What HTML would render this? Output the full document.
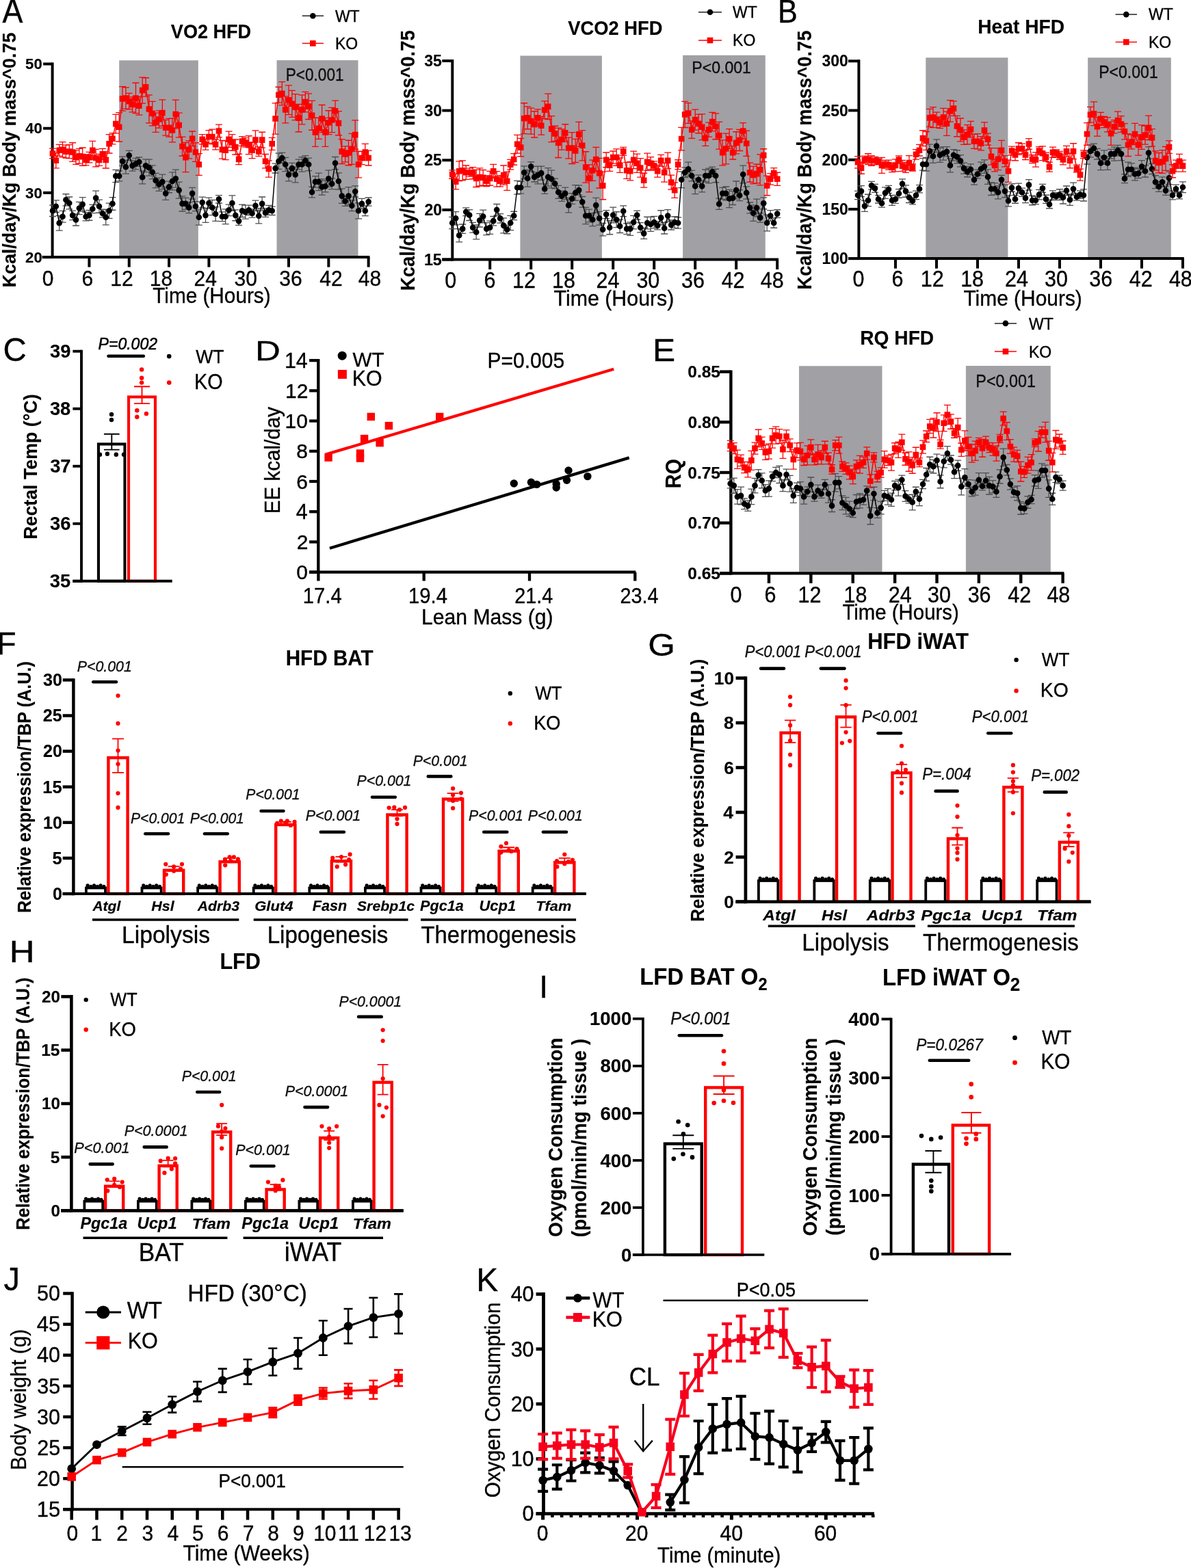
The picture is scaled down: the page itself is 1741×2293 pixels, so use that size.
<!DOCTYPE html>
<html><head><meta charset="utf-8"><title>Figure</title>
<style>html,body{margin:0;padding:0;background:#fff;}svg{display:block;}
text{font-family:"Liberation Sans",Arial,Helvetica,sans-serif;stroke:#000;stroke-width:0.35px;}
text[font-weight="bold"]{stroke-width:0.15px;}</style></head>
<body><svg xmlns="http://www.w3.org/2000/svg" width="1741" height="2293" viewBox="0 0 1741 2293">
<rect width="1741" height="2293" fill="#fff"/>
<rect x="174.2" y="88.3" width="115.6" height="286" fill="#a1a0a5" />
<rect x="404.5" y="88.1" width="119" height="286.2" fill="#a1a0a5" />
<line x1="76.6" y1="91.5" x2="76.6" y2="378.1" stroke="#000" stroke-width="4" />
<line x1="61.6" y1="376.1" x2="540.46" y2="376.1" stroke="#000" stroke-width="4" />
<line x1="63.1" y1="376.1" x2="76.6" y2="376.1" stroke="#000" stroke-width="4" />
<line x1="63.1" y1="281.9" x2="76.6" y2="281.9" stroke="#000" stroke-width="4" />
<line x1="63.1" y1="187.7" x2="76.6" y2="187.7" stroke="#000" stroke-width="4" />
<line x1="63.1" y1="93.5" x2="76.6" y2="93.5" stroke="#000" stroke-width="4" />
<line x1="130.42" y1="376.1" x2="130.42" y2="390.6" stroke="#000" stroke-width="4" />
<line x1="188.74" y1="376.1" x2="188.74" y2="390.6" stroke="#000" stroke-width="4" />
<line x1="247.06" y1="376.1" x2="247.06" y2="390.6" stroke="#000" stroke-width="4" />
<line x1="305.38" y1="376.1" x2="305.38" y2="390.6" stroke="#000" stroke-width="4" />
<line x1="363.7" y1="376.1" x2="363.7" y2="390.6" stroke="#000" stroke-width="4" />
<line x1="422.02" y1="376.1" x2="422.02" y2="390.6" stroke="#000" stroke-width="4" />
<line x1="480.34" y1="376.1" x2="480.34" y2="390.6" stroke="#000" stroke-width="4" />
<line x1="538.66" y1="376.1" x2="538.66" y2="390.6" stroke="#000" stroke-width="4" />
<path d="M76.96 300.07V316.48M71.96 300.07H81.96M71.96 316.48H81.96M81.82 292.87V310.5M76.82 292.87H86.82M76.82 310.5H86.82M86.68 315.3V337.05M81.68 315.3H91.68M81.68 337.05H91.68M91.54 308.47V325.04M86.54 308.47H96.54M86.54 325.04H96.54M96.4 283.74V300.78M91.4 283.74H101.4M91.4 300.78H101.4M101.26 288V305.94M96.26 288H106.26M96.26 305.94H106.26M106.12 308.17V321.57M101.12 308.17H111.12M101.12 321.57H111.12M110.98 312.92V330.01M105.98 312.92H115.98M105.98 330.01H115.98M115.84 295.3V313.72M110.84 295.3H120.84M110.84 313.72H120.84M120.7 288.72V308.99M115.7 288.72H125.7M115.7 308.99H125.7M125.56 310.57V322.94M120.56 310.57H130.56M120.56 322.94H130.56M130.42 307.5V322.24M125.42 307.5H135.42M125.42 322.24H135.42M135.28 299.29V311.61M130.28 299.29H140.28M130.28 311.61H140.28M140.14 279.21V299.66M135.14 279.21H145.14M135.14 299.66H145.14M145 292.11V311.25M140 292.11H150M140 311.25H150M149.86 306.16V317.93M144.86 306.16H154.86M144.86 317.93H154.86M154.72 306.49V328.9M149.72 306.49H159.72M149.72 328.9H159.72M159.58 297.17V319.38M154.58 297.17H164.58M154.58 319.38H164.58M164.44 288.57V307.26M159.44 288.57H169.44M159.44 307.26H169.44M169.3 248.28V266.54M164.3 248.28H174.3M164.3 266.54H174.3M174.16 249.88V264.93M169.16 249.88H179.16M169.16 264.93H179.16M179.02 229.14V242.34M174.02 229.14H184.02M174.02 242.34H184.02M183.88 234.29V254.15M178.88 234.29H188.88M178.88 254.15H188.88M188.74 220.38V234.15M183.74 220.38H193.74M183.74 234.15H193.74M193.6 234.6V250.07M188.6 234.6H198.6M188.6 250.07H198.6M198.46 231.44V247.58M193.46 231.44H203.46M193.46 247.58H203.46M203.32 229.99V243.38M198.32 229.99H208.32M198.32 243.38H208.32M208.18 249.78V268.81M203.18 249.78H213.18M203.18 268.81H213.18M213.04 232.97V251.7M208.04 232.97H218.04M208.04 251.7H218.04M217.9 233.19V257.14M212.9 233.19H222.9M212.9 257.14H222.9M222.76 241.88V261.63M217.76 241.88H227.76M217.76 261.63H227.76M227.62 253.34V274.66M222.62 253.34H232.62M222.62 274.66H232.62M232.48 259.91V279.4M227.48 259.91H237.48M227.48 279.4H237.48M237.34 255.08V276.69M232.34 255.08H242.34M232.34 276.69H242.34M242.2 273.37V292.31M237.2 273.37H247.2M237.2 292.31H247.2M247.06 265.11V281.73M242.06 265.11H252.06M242.06 281.73H252.06M251.92 251.96V277.93M246.92 251.96H256.92M246.92 277.93H256.92M256.78 248.2V274.15M251.78 248.2H261.78M251.78 274.15H261.78M261.64 266.17V290.09M256.64 266.17H266.64M256.64 290.09H266.64M266.5 286.81V309.01M261.5 286.81H271.5M261.5 309.01H271.5M271.36 289.36V306.46M266.36 289.36H276.36M266.36 306.46H276.36M276.22 295.57V311.56M271.22 295.57H281.22M271.22 311.56H281.22M281.08 274.46V291.22M276.08 274.46H286.08M276.08 291.22H286.08M285.94 294.73V308.64M280.94 294.73H290.94M280.94 308.64H290.94M290.8 306.22V329.18M285.8 306.22H295.8M285.8 329.18H295.8M295.66 288.11V303.95M290.66 288.11H300.66M290.66 303.95H300.66M300.52 304.43V325.31M295.52 304.43H305.52M295.52 325.31H305.52M305.38 289.14V304.81M300.38 289.14H310.38M300.38 304.81H310.38M310.24 292.5V314.63M305.24 292.5H315.24M305.24 314.63H315.24M315.1 302.55V323.43M310.1 302.55H320.1M310.1 323.43H320.1M319.96 285.66V296.98M314.96 285.66H324.96M314.96 296.98H324.96M324.82 309.92V323.59M319.82 309.92H329.82M319.82 323.59H329.82M329.68 305.96V327.55M324.68 305.96H334.68M324.68 327.55H334.68M334.54 299.03V315.64M329.54 299.03H339.54M329.54 315.64H339.54M339.4 285.78V308.16M334.4 285.78H344.4M334.4 308.16H344.4M344.26 306.97V322.77M339.26 306.97H349.26M339.26 322.77H349.26M349.12 317.28V329.41M344.12 317.28H354.12M344.12 329.41H354.12M353.98 299.07V317.49M348.98 299.07H358.98M348.98 317.49H358.98M358.84 300.11V320.21M353.84 300.11H363.84M353.84 320.21H363.84M363.7 300.16V314.51M358.7 300.16H368.7M358.7 314.51H368.7M368.56 305.9V318.19M363.56 305.9H373.56M363.56 318.19H373.56M373.42 293.21V308.27M368.42 293.21H378.42M368.42 308.27H378.42M378.28 304.71V326.91M373.28 304.71H383.28M373.28 326.91H383.28M383.14 287.98V307.85M378.14 287.98H388.14M378.14 307.85H388.14M388 304.78V317.42M383 304.78H393M383 317.42H393M392.86 300.29V314.38M387.86 300.29H397.86M387.86 314.38H397.86M397.72 302.05V314.5M392.72 302.05H402.72M392.72 314.5H402.72M402.58 239.21V252.99M397.58 239.21H407.58M397.58 252.99H407.58M407.44 224.06V247.42M402.44 224.06H412.44M402.44 247.42H412.44M412.3 223.38V238.69M407.3 223.38H417.3M407.3 238.69H417.3M417.16 230.32V250.59M412.16 230.32H422.16M412.16 250.59H422.16M422.02 246.12V264.93M417.02 246.12H427.02M417.02 264.93H427.02M426.88 238.36V253.84M421.88 238.36H431.88M421.88 253.84H431.88M431.74 244.27V266.78M426.74 244.27H436.74M426.74 266.78H436.74M436.6 233.1V247.8M431.6 233.1H441.6M431.6 247.8H441.6M441.46 229.77V251.14M436.46 229.77H446.46M436.46 251.14H446.46M446.32 227.54V242.06M441.32 227.54H451.32M441.32 242.06H451.32M451.18 231.22V249.69M446.18 231.22H456.18M446.18 249.69H456.18M456.04 273.07V288.84M451.04 273.07H461.04M451.04 288.84H461.04M460.9 257.63V274.14M455.9 257.63H465.9M455.9 274.14H465.9M465.76 253.08V278.7M460.76 253.08H470.76M460.76 278.7H470.76M470.62 261.7V285.14M465.62 261.7H475.62M465.62 285.14H475.62M475.48 264V280.96M470.48 264H480.48M470.48 280.96H480.48M480.34 248.92V273.43M475.34 248.92H485.34M475.34 273.43H485.34M485.2 260.84V276.58M480.2 260.84H490.2M480.2 276.58H490.2M490.06 229.51V247.63M485.06 229.51H495.06M485.06 247.63H495.06M494.92 252.89V277M489.92 252.89H499.92M489.92 277H499.92M499.78 275.94V297.28M494.78 275.94H504.78M494.78 297.28H504.78M504.64 286.99V301.3M499.64 286.99H509.64M499.64 301.3H509.64M509.5 273.68V299.54M504.5 273.68H514.5M504.5 299.54H514.5M514.36 292.85V308.63M509.36 292.85H519.36M509.36 308.63H519.36M519.22 271.84V288.19M514.22 271.84H524.22M514.22 288.19H524.22M524.08 296.75V319.8M519.08 296.75H529.08M519.08 319.8H529.08M528.94 290.4V305.43M523.94 290.4H533.94M523.94 305.43H533.94M533.8 300.95V315.6M528.8 300.95H538.8M528.8 315.6H538.8M538.66 289.02V301.15M533.66 289.02H543.66M533.66 301.15H543.66" fill="none" stroke="#4d4d4d" stroke-width="1.3" />
<polyline points="76.96,308.28 81.82,301.68 86.68,326.17 91.54,316.75 96.4,292.26 101.26,296.97 106.12,314.87 110.98,321.46 115.84,304.51 120.7,298.86 125.56,316.75 130.42,314.87 135.28,305.45 140.14,289.44 145,301.68 149.86,312.04 154.72,317.7 159.58,308.28 164.44,297.91 169.3,257.41 174.16,257.41 179.02,235.74 183.88,244.22 188.74,227.26 193.6,242.34 198.46,239.51 203.32,236.68 208.18,259.29 213.04,242.34 217.9,245.16 222.76,251.76 227.62,264 232.48,269.65 237.34,265.89 242.2,282.84 247.06,273.42 251.92,264.94 256.78,261.18 261.64,278.13 266.5,297.91 271.36,297.91 276.22,303.57 281.08,282.84 285.94,301.68 290.8,317.7 295.66,296.03 300.52,314.87 305.38,296.97 310.24,303.57 315.1,312.99 319.96,291.32 324.82,316.75 329.68,316.75 334.54,307.33 339.4,296.97 344.26,314.87 349.12,323.35 353.98,308.28 358.84,310.16 363.7,307.33 368.56,312.04 373.42,300.74 378.28,315.81 383.14,297.91 388,311.1 392.86,307.33 397.72,308.28 402.58,246.1 407.44,235.74 412.3,231.03 417.16,240.45 422.02,255.52 426.88,246.1 431.74,255.52 436.6,240.45 441.46,240.45 446.32,234.8 451.18,240.45 456.04,280.96 460.9,265.89 465.76,265.89 470.62,273.42 475.48,272.48 480.34,261.18 485.2,268.71 490.06,238.57 494.92,264.94 499.78,286.61 504.64,294.15 509.5,286.61 514.36,300.74 519.22,280.02 524.08,308.28 528.94,297.91 533.8,308.28 538.66,295.09" fill="none" stroke="#000" stroke-width="1.5" stroke-linejoin="round" />
<circle cx="76.96" cy="308.28" r="4.3" fill="#000"/>
<circle cx="81.82" cy="301.68" r="4.3" fill="#000"/>
<circle cx="86.68" cy="326.17" r="4.3" fill="#000"/>
<circle cx="91.54" cy="316.75" r="4.3" fill="#000"/>
<circle cx="96.4" cy="292.26" r="4.3" fill="#000"/>
<circle cx="101.26" cy="296.97" r="4.3" fill="#000"/>
<circle cx="106.12" cy="314.87" r="4.3" fill="#000"/>
<circle cx="110.98" cy="321.46" r="4.3" fill="#000"/>
<circle cx="115.84" cy="304.51" r="4.3" fill="#000"/>
<circle cx="120.7" cy="298.86" r="4.3" fill="#000"/>
<circle cx="125.56" cy="316.75" r="4.3" fill="#000"/>
<circle cx="130.42" cy="314.87" r="4.3" fill="#000"/>
<circle cx="135.28" cy="305.45" r="4.3" fill="#000"/>
<circle cx="140.14" cy="289.44" r="4.3" fill="#000"/>
<circle cx="145" cy="301.68" r="4.3" fill="#000"/>
<circle cx="149.86" cy="312.04" r="4.3" fill="#000"/>
<circle cx="154.72" cy="317.7" r="4.3" fill="#000"/>
<circle cx="159.58" cy="308.28" r="4.3" fill="#000"/>
<circle cx="164.44" cy="297.91" r="4.3" fill="#000"/>
<circle cx="169.3" cy="257.41" r="4.3" fill="#000"/>
<circle cx="174.16" cy="257.41" r="4.3" fill="#000"/>
<circle cx="179.02" cy="235.74" r="4.3" fill="#000"/>
<circle cx="183.88" cy="244.22" r="4.3" fill="#000"/>
<circle cx="188.74" cy="227.26" r="4.3" fill="#000"/>
<circle cx="193.6" cy="242.34" r="4.3" fill="#000"/>
<circle cx="198.46" cy="239.51" r="4.3" fill="#000"/>
<circle cx="203.32" cy="236.68" r="4.3" fill="#000"/>
<circle cx="208.18" cy="259.29" r="4.3" fill="#000"/>
<circle cx="213.04" cy="242.34" r="4.3" fill="#000"/>
<circle cx="217.9" cy="245.16" r="4.3" fill="#000"/>
<circle cx="222.76" cy="251.76" r="4.3" fill="#000"/>
<circle cx="227.62" cy="264" r="4.3" fill="#000"/>
<circle cx="232.48" cy="269.65" r="4.3" fill="#000"/>
<circle cx="237.34" cy="265.89" r="4.3" fill="#000"/>
<circle cx="242.2" cy="282.84" r="4.3" fill="#000"/>
<circle cx="247.06" cy="273.42" r="4.3" fill="#000"/>
<circle cx="251.92" cy="264.94" r="4.3" fill="#000"/>
<circle cx="256.78" cy="261.18" r="4.3" fill="#000"/>
<circle cx="261.64" cy="278.13" r="4.3" fill="#000"/>
<circle cx="266.5" cy="297.91" r="4.3" fill="#000"/>
<circle cx="271.36" cy="297.91" r="4.3" fill="#000"/>
<circle cx="276.22" cy="303.57" r="4.3" fill="#000"/>
<circle cx="281.08" cy="282.84" r="4.3" fill="#000"/>
<circle cx="285.94" cy="301.68" r="4.3" fill="#000"/>
<circle cx="290.8" cy="317.7" r="4.3" fill="#000"/>
<circle cx="295.66" cy="296.03" r="4.3" fill="#000"/>
<circle cx="300.52" cy="314.87" r="4.3" fill="#000"/>
<circle cx="305.38" cy="296.97" r="4.3" fill="#000"/>
<circle cx="310.24" cy="303.57" r="4.3" fill="#000"/>
<circle cx="315.1" cy="312.99" r="4.3" fill="#000"/>
<circle cx="319.96" cy="291.32" r="4.3" fill="#000"/>
<circle cx="324.82" cy="316.75" r="4.3" fill="#000"/>
<circle cx="329.68" cy="316.75" r="4.3" fill="#000"/>
<circle cx="334.54" cy="307.33" r="4.3" fill="#000"/>
<circle cx="339.4" cy="296.97" r="4.3" fill="#000"/>
<circle cx="344.26" cy="314.87" r="4.3" fill="#000"/>
<circle cx="349.12" cy="323.35" r="4.3" fill="#000"/>
<circle cx="353.98" cy="308.28" r="4.3" fill="#000"/>
<circle cx="358.84" cy="310.16" r="4.3" fill="#000"/>
<circle cx="363.7" cy="307.33" r="4.3" fill="#000"/>
<circle cx="368.56" cy="312.04" r="4.3" fill="#000"/>
<circle cx="373.42" cy="300.74" r="4.3" fill="#000"/>
<circle cx="378.28" cy="315.81" r="4.3" fill="#000"/>
<circle cx="383.14" cy="297.91" r="4.3" fill="#000"/>
<circle cx="388" cy="311.1" r="4.3" fill="#000"/>
<circle cx="392.86" cy="307.33" r="4.3" fill="#000"/>
<circle cx="397.72" cy="308.28" r="4.3" fill="#000"/>
<circle cx="402.58" cy="246.1" r="4.3" fill="#000"/>
<circle cx="407.44" cy="235.74" r="4.3" fill="#000"/>
<circle cx="412.3" cy="231.03" r="4.3" fill="#000"/>
<circle cx="417.16" cy="240.45" r="4.3" fill="#000"/>
<circle cx="422.02" cy="255.52" r="4.3" fill="#000"/>
<circle cx="426.88" cy="246.1" r="4.3" fill="#000"/>
<circle cx="431.74" cy="255.52" r="4.3" fill="#000"/>
<circle cx="436.6" cy="240.45" r="4.3" fill="#000"/>
<circle cx="441.46" cy="240.45" r="4.3" fill="#000"/>
<circle cx="446.32" cy="234.8" r="4.3" fill="#000"/>
<circle cx="451.18" cy="240.45" r="4.3" fill="#000"/>
<circle cx="456.04" cy="280.96" r="4.3" fill="#000"/>
<circle cx="460.9" cy="265.89" r="4.3" fill="#000"/>
<circle cx="465.76" cy="265.89" r="4.3" fill="#000"/>
<circle cx="470.62" cy="273.42" r="4.3" fill="#000"/>
<circle cx="475.48" cy="272.48" r="4.3" fill="#000"/>
<circle cx="480.34" cy="261.18" r="4.3" fill="#000"/>
<circle cx="485.2" cy="268.71" r="4.3" fill="#000"/>
<circle cx="490.06" cy="238.57" r="4.3" fill="#000"/>
<circle cx="494.92" cy="264.94" r="4.3" fill="#000"/>
<circle cx="499.78" cy="286.61" r="4.3" fill="#000"/>
<circle cx="504.64" cy="294.15" r="4.3" fill="#000"/>
<circle cx="509.5" cy="286.61" r="4.3" fill="#000"/>
<circle cx="514.36" cy="300.74" r="4.3" fill="#000"/>
<circle cx="519.22" cy="280.02" r="4.3" fill="#000"/>
<circle cx="524.08" cy="308.28" r="4.3" fill="#000"/>
<circle cx="528.94" cy="297.91" r="4.3" fill="#000"/>
<circle cx="533.8" cy="308.28" r="4.3" fill="#000"/>
<circle cx="538.66" cy="295.09" r="4.3" fill="#000"/>
<path d="M76.96 217.16V231.71M71.96 217.16H81.96M71.96 231.71H81.96M81.82 223.81V245.79M76.82 223.81H86.82M76.82 245.79H86.82M86.68 211.3V228.15M81.68 211.3H91.68M81.68 228.15H91.68M91.54 207.66V229.91M86.54 207.66H96.54M86.54 229.91H96.54M96.4 212.22V231.01M91.4 212.22H101.4M91.4 231.01H101.4M101.26 211.6V231.62M96.26 211.6H106.26M96.26 231.62H106.26M106.12 208.73V236.38M101.12 208.73H111.12M101.12 236.38H111.12M110.98 219.85V240.33M105.98 219.85H115.98M105.98 240.33H115.98M115.84 217.28V239.13M110.84 217.28H120.84M110.84 239.13H120.84M120.7 216.02V242.27M115.7 216.02H125.7M115.7 242.27H125.7M125.56 225.89V241.83M120.56 225.89H130.56M120.56 241.83H130.56M130.42 222.33V237.85M125.42 222.33H135.42M125.42 237.85H135.42M135.28 206.29V233.17M130.28 206.29H140.28M130.28 233.17H140.28M140.14 218.28V243.79M135.14 218.28H145.14M135.14 243.79H145.14M145 225.38V242.33M140 225.38H150M140 242.33H150M149.86 217.36V233.4M144.86 217.36H154.86M144.86 233.4H154.86M154.72 221.69V246.02M149.72 221.69H159.72M149.72 246.02H159.72M159.58 196.63V223.99M154.58 196.63H164.58M154.58 223.99H164.58M164.44 194.7V210.85M159.44 194.7H169.44M159.44 210.85H169.44M169.3 167.35V194.86M164.3 167.35H174.3M164.3 194.86H174.3M174.16 164.63V207M169.16 164.63H179.16M169.16 207H179.16M179.02 126.54V162.2M174.02 126.54H184.02M174.02 162.2H184.02M183.88 127.79V159.06M178.88 127.79H188.88M178.88 159.06H188.88M188.74 136.33V159.94M183.74 136.33H193.74M183.74 159.94H193.74M193.6 141.83V163.86M188.6 141.83H198.6M188.6 163.86H198.6M198.46 121.27V165.58M193.46 121.27H203.46M193.46 165.58H203.46M203.32 141.3V168.16M198.32 141.3H208.32M198.32 168.16H208.32M208.18 113.08V151.17M203.18 113.08H213.18M203.18 151.17H213.18M213.04 113.76V141.06M208.04 113.76H218.04M208.04 141.06H218.04M217.9 138.96V179.92M212.9 138.96H222.9M212.9 179.92H222.9M222.76 148.29V183.78M217.76 148.29H227.76M217.76 183.78H227.76M227.62 165.13V193.31M222.62 165.13H232.62M222.62 193.31H232.62M232.48 161.85V187.18M227.48 161.85H237.48M227.48 187.18H237.48M237.34 145.86V184.33M232.34 145.86H242.34M232.34 184.33H242.34M242.2 175.38V198.14M237.2 175.38H247.2M237.2 198.14H247.2M247.06 173.45V200.06M242.06 173.45H252.06M242.06 200.06H252.06M251.92 173.23V207.82M246.92 173.23H256.92M246.92 207.82H256.92M256.78 146.15V187.8M251.78 146.15H261.78M251.78 187.8H261.78M261.64 165.03V200.95M256.64 165.03H266.64M256.64 200.95H266.64M266.5 200.15V228.01M261.5 200.15H271.5M261.5 228.01H271.5M271.36 208.48V251.7M266.36 208.48H276.36M266.36 251.7H276.36M276.22 205.78V231.8M271.22 205.78H281.22M271.22 231.8H281.22M281.08 192.02V213.52M276.08 192.02H286.08M276.08 213.52H286.08M285.94 208.76V236.35M280.94 208.76H290.94M280.94 236.35H290.94M290.8 224.53V256.38M285.8 224.53H295.8M285.8 256.38H295.8M295.66 196.66V210.76M290.66 196.66H300.66M290.66 210.76H300.66M300.52 203.33V219.17M295.52 203.33H305.52M295.52 219.17H305.52M305.38 190.57V209.32M300.38 190.57H310.38M300.38 209.32H310.38M310.24 189.04V210.85M305.24 189.04H315.24M305.24 210.85H315.24M315.1 203.66V218.84M310.1 203.66H320.1M310.1 218.84H320.1M319.96 182.14V200.79M314.96 182.14H324.96M314.96 200.79H324.96M324.82 205.48V232.09M319.82 205.48H329.82M319.82 232.09H329.82M329.68 205.75V233.71M324.68 205.75H334.68M324.68 233.71H334.68M334.54 192.17V215.26M329.54 192.17H339.54M329.54 215.26H339.54M339.4 196.62V220.23M334.4 196.62H344.4M334.4 220.23H344.4M344.26 204.02V226.02M339.26 204.02H349.26M339.26 226.02H349.26M349.12 225.26V240.57M344.12 225.26H354.12M344.12 240.57H354.12M353.98 199.68V213.4M348.98 199.68H358.98M348.98 213.4H358.98M358.84 201.7V215.15M353.84 201.7H363.84M353.84 215.15H363.84M363.7 198.74V225.65M358.7 198.74H368.7M358.7 225.65H368.7M368.56 207.85V231.6M363.56 207.85H373.56M363.56 231.6H373.56M373.42 190.81V218.51M368.42 190.81H378.42M368.42 218.51H378.42M378.28 214.86V228.37M373.28 214.86H383.28M373.28 228.37H383.28M383.14 193.27V216.04M378.14 193.27H388.14M378.14 216.04H388.14M388 225.51V245.97M383 225.51H393M383 245.97H393M392.86 234.95V259.15M387.86 234.95H397.86M387.86 259.15H397.86M397.72 201.31V219.31M392.72 201.31H402.72M392.72 219.31H402.72M402.58 150.97V196.17M397.58 150.97H407.58M397.58 196.17H407.58M407.44 127.26V150.17M402.44 127.26H412.44M402.44 150.17H412.44M412.3 119.7V153.97M407.3 119.7H417.3M407.3 153.97H417.3M417.16 140.95V179.82M412.16 140.95H422.16M412.16 179.82H422.16M422.02 124.85V167.66M417.02 124.85H427.02M417.02 167.66H427.02M426.88 132.47V171.34M421.88 132.47H431.88M421.88 171.34H431.88M431.74 137.58V175.65M426.74 137.58H436.74M426.74 175.65H436.74M436.6 152.51V192.74M431.6 152.51H441.6M431.6 192.74H441.6M441.46 138.8V181.97M436.46 138.8H446.46M436.46 181.97H446.46M446.32 134.29V163.87M441.32 134.29H451.32M441.32 163.87H451.32M451.18 136.86V174.48M446.18 136.86H456.18M446.18 174.48H456.18M456.04 147.45V190.27M451.04 147.45H461.04M451.04 190.27H461.04M460.9 172.3V214.41M455.9 172.3H465.9M455.9 214.41H465.9M465.76 172.12V203.28M460.76 172.12H470.76M460.76 203.28H470.76M470.62 153.49V193.65M465.62 153.49H475.62M465.62 193.65H475.62M475.48 172.39V214.31M470.48 172.39H480.48M470.48 214.31H480.48M480.34 161.76V196.68M475.34 161.76H485.34M475.34 196.68H485.34M485.2 157.37V193.54M480.2 157.37H490.2M480.2 193.54H490.2M490.06 147.11V177.43M485.06 147.11H495.06M485.06 177.43H495.06M494.92 162.59V197.74M489.92 162.59H499.92M489.92 197.74H499.92M499.78 203.72V239.5M494.78 203.72H504.78M494.78 239.5H504.78M504.64 213.86V236.9M499.64 213.86H509.64M499.64 236.9H509.64M509.5 205.24V241.76M504.5 205.24H514.5M504.5 241.76H514.5M514.36 195.32V240.37M509.36 195.32H519.36M509.36 240.37H519.36M519.22 175.96V218.28M514.22 175.96H524.22M514.22 218.28H524.22M524.08 221.12V259.78M519.08 221.12H529.08M519.08 259.78H529.08M528.94 221.51V240.55M523.94 221.51H533.94M523.94 240.55H533.94M533.8 210.42V234.69M528.8 210.42H538.8M528.8 234.69H538.8M538.66 220.06V242M533.66 220.06H543.66M533.66 242H543.66" fill="none" stroke="#fe0000" stroke-width="1.3" />
<polyline points="76.96,224.44 81.82,234.8 86.68,219.73 91.54,218.79 96.4,221.61 101.26,221.61 106.12,222.55 110.98,230.09 115.84,228.21 120.7,229.15 125.56,233.86 130.42,230.09 135.28,219.73 140.14,231.03 145,233.86 149.86,225.38 154.72,233.86 159.58,210.31 164.44,202.77 169.3,181.11 174.16,185.82 179.02,144.37 183.88,143.43 188.74,148.14 193.6,152.85 198.46,143.43 203.32,154.73 208.18,132.12 213.04,127.41 217.9,159.44 222.76,166.03 227.62,179.22 232.48,174.51 237.34,165.09 242.2,186.76 247.06,186.76 251.92,190.53 256.78,166.98 261.64,182.99 266.5,214.08 271.36,230.09 276.22,218.79 281.08,202.77 285.94,222.55 290.8,240.45 295.66,203.71 300.52,211.25 305.38,199.95 310.24,199.95 315.1,211.25 319.96,191.47 324.82,218.79 329.68,219.73 334.54,203.71 339.4,208.42 344.26,215.02 349.12,232.92 353.98,206.54 358.84,208.42 363.7,212.19 368.56,219.73 373.42,204.66 378.28,221.61 383.14,204.66 388,235.74 392.86,247.05 397.72,210.31 402.58,173.57 407.44,138.72 412.3,136.83 417.16,160.38 422.02,146.25 426.88,151.9 431.74,156.61 436.6,172.63 441.46,160.38 446.32,149.08 451.18,155.67 456.04,168.86 460.9,193.35 465.76,187.7 470.62,173.57 475.48,193.35 480.34,179.22 485.2,175.45 490.06,162.27 494.92,180.16 499.78,221.61 504.64,225.38 509.5,223.5 514.36,217.84 519.22,197.12 524.08,240.45 528.94,231.03 533.8,222.55 538.66,231.03" fill="none" stroke="#fe0000" stroke-width="1.5" stroke-linejoin="round" />
<path d="M72.66 220.14h8.6v8.6h-8.6zM77.52 230.5h8.6v8.6h-8.6zM82.38 215.43h8.6v8.6h-8.6zM87.24 214.49h8.6v8.6h-8.6zM92.1 217.31h8.6v8.6h-8.6zM96.96 217.31h8.6v8.6h-8.6zM101.82 218.25h8.6v8.6h-8.6zM106.68 225.79h8.6v8.6h-8.6zM111.54 223.91h8.6v8.6h-8.6zM116.4 224.85h8.6v8.6h-8.6zM121.26 229.56h8.6v8.6h-8.6zM126.12 225.79h8.6v8.6h-8.6zM130.98 215.43h8.6v8.6h-8.6zM135.84 226.73h8.6v8.6h-8.6zM140.7 229.56h8.6v8.6h-8.6zM145.56 221.08h8.6v8.6h-8.6zM150.42 229.56h8.6v8.6h-8.6zM155.28 206.01h8.6v8.6h-8.6zM160.14 198.47h8.6v8.6h-8.6zM165 176.81h8.6v8.6h-8.6zM169.86 181.52h8.6v8.6h-8.6zM174.72 140.07h8.6v8.6h-8.6zM179.58 139.13h8.6v8.6h-8.6zM184.44 143.84h8.6v8.6h-8.6zM189.3 148.55h8.6v8.6h-8.6zM194.16 139.13h8.6v8.6h-8.6zM199.02 150.43h8.6v8.6h-8.6zM203.88 127.82h8.6v8.6h-8.6zM208.74 123.11h8.6v8.6h-8.6zM213.6 155.14h8.6v8.6h-8.6zM218.46 161.73h8.6v8.6h-8.6zM223.32 174.92h8.6v8.6h-8.6zM228.18 170.21h8.6v8.6h-8.6zM233.04 160.79h8.6v8.6h-8.6zM237.9 182.46h8.6v8.6h-8.6zM242.76 182.46h8.6v8.6h-8.6zM247.62 186.23h8.6v8.6h-8.6zM252.48 162.68h8.6v8.6h-8.6zM257.34 178.69h8.6v8.6h-8.6zM262.2 209.78h8.6v8.6h-8.6zM267.06 225.79h8.6v8.6h-8.6zM271.92 214.49h8.6v8.6h-8.6zM276.78 198.47h8.6v8.6h-8.6zM281.64 218.25h8.6v8.6h-8.6zM286.5 236.15h8.6v8.6h-8.6zM291.36 199.41h8.6v8.6h-8.6zM296.22 206.95h8.6v8.6h-8.6zM301.08 195.65h8.6v8.6h-8.6zM305.94 195.65h8.6v8.6h-8.6zM310.8 206.95h8.6v8.6h-8.6zM315.66 187.17h8.6v8.6h-8.6zM320.52 214.49h8.6v8.6h-8.6zM325.38 215.43h8.6v8.6h-8.6zM330.24 199.41h8.6v8.6h-8.6zM335.1 204.12h8.6v8.6h-8.6zM339.96 210.72h8.6v8.6h-8.6zM344.82 228.62h8.6v8.6h-8.6zM349.68 202.24h8.6v8.6h-8.6zM354.54 204.12h8.6v8.6h-8.6zM359.4 207.89h8.6v8.6h-8.6zM364.26 215.43h8.6v8.6h-8.6zM369.12 200.36h8.6v8.6h-8.6zM373.98 217.31h8.6v8.6h-8.6zM378.84 200.36h8.6v8.6h-8.6zM383.7 231.44h8.6v8.6h-8.6zM388.56 242.75h8.6v8.6h-8.6zM393.42 206.01h8.6v8.6h-8.6zM398.28 169.27h8.6v8.6h-8.6zM403.14 134.42h8.6v8.6h-8.6zM408 132.53h8.6v8.6h-8.6zM412.86 156.08h8.6v8.6h-8.6zM417.72 141.95h8.6v8.6h-8.6zM422.58 147.6h8.6v8.6h-8.6zM427.44 152.31h8.6v8.6h-8.6zM432.3 168.33h8.6v8.6h-8.6zM437.16 156.08h8.6v8.6h-8.6zM442.02 144.78h8.6v8.6h-8.6zM446.88 151.37h8.6v8.6h-8.6zM451.74 164.56h8.6v8.6h-8.6zM456.6 189.05h8.6v8.6h-8.6zM461.46 183.4h8.6v8.6h-8.6zM466.32 169.27h8.6v8.6h-8.6zM471.18 189.05h8.6v8.6h-8.6zM476.04 174.92h8.6v8.6h-8.6zM480.9 171.15h8.6v8.6h-8.6zM485.76 157.97h8.6v8.6h-8.6zM490.62 175.86h8.6v8.6h-8.6zM495.48 217.31h8.6v8.6h-8.6zM500.34 221.08h8.6v8.6h-8.6zM505.2 219.2h8.6v8.6h-8.6zM510.06 213.54h8.6v8.6h-8.6zM514.92 192.82h8.6v8.6h-8.6zM519.78 236.15h8.6v8.6h-8.6zM524.64 226.73h8.6v8.6h-8.6zM529.5 218.25h8.6v8.6h-8.6zM534.36 226.73h8.6v8.6h-8.6z" fill="#fe0000"/>
<text x="37.11" y="383.85"  font-size="22.14" font-weight="bold" >20</text>
<text x="37.11" y="289.65"  font-size="22.14" font-weight="bold" >30</text>
<text x="37.11" y="195.45"  font-size="22.14" font-weight="bold" >40</text>
<text x="37.11" y="101.25"  font-size="22.14" font-weight="bold" >50</text>
<text x="61.7" y="417.5"  font-size="31.8" textLength="16.69" lengthAdjust="spacingAndGlyphs" >0</text>
<text x="119.43" y="417.5"  font-size="31.8" textLength="16.69" lengthAdjust="spacingAndGlyphs" >6</text>
<text x="161.28" y="417.5"  font-size="31.8" textLength="33.37" lengthAdjust="spacingAndGlyphs" >12</text>
<text x="218.82" y="417.5"  font-size="31.8" textLength="33.37" lengthAdjust="spacingAndGlyphs" >18</text>
<text x="283.55" y="417.5"  font-size="31.8" textLength="33.37" lengthAdjust="spacingAndGlyphs" >24</text>
<text x="342.47" y="417.5"  font-size="31.8" textLength="33.37" lengthAdjust="spacingAndGlyphs" >30</text>
<text x="408.25" y="417.5"  font-size="31.8" textLength="33.37" lengthAdjust="spacingAndGlyphs" >36</text>
<text x="467.3" y="417.5"  font-size="31.8" textLength="33.37" lengthAdjust="spacingAndGlyphs" >42</text>
<text x="523.85" y="417.5"  font-size="31.8" textLength="33.37" lengthAdjust="spacingAndGlyphs" >48</text>
<text x="3.4" y="32.9"  font-size="49.13" textLength="29.89" lengthAdjust="spacingAndGlyphs" >A</text>
<text x="249.86" y="55.7"  font-size="28.67" font-weight="bold" textLength="117.23" lengthAdjust="spacingAndGlyphs" >VO2 HFD</text>
<text x="417.79" y="118"  font-size="25.14" fill="#111" textLength="84.7" lengthAdjust="spacingAndGlyphs" >P&lt;0.001</text>
<text x="0" y="0" transform="translate(22.7,420.45) rotate(-90)" font-size="28.49" font-weight="bold" textLength="372.8" lengthAdjust="spacingAndGlyphs" >Kcal/day/Kg Body mass^0.75</text>
<text x="223.21" y="442.7"  font-size="31.53" textLength="172.43" lengthAdjust="spacingAndGlyphs" >Time (Hours)</text>
<line x1="441.7" y1="23.2" x2="473" y2="23.2" stroke="#222" stroke-width="1.5" />
<circle cx="457.35" cy="23.2" r="4.3" fill="#000"/>
<text x="489.9" y="31.8"  font-size="23" >WT</text>
<line x1="441.7" y1="63.4" x2="473" y2="63.4" stroke="#fe0000" stroke-width="1.5" />
<rect x="453.05" y="59.1" width="8.6" height="8.6" fill="#fe0000" />
<text x="489.9" y="71.5"  font-size="23" >KO</text>
<rect x="760.4" y="81.5" width="119.5" height="296.2" fill="#a1a0a5" />
<rect x="998.1" y="80.8" width="120.7" height="296.9" fill="#a1a0a5" />
<line x1="661.3" y1="87" x2="661.3" y2="381.5" stroke="#000" stroke-width="4" />
<line x1="646.3" y1="379.5" x2="1138" y2="379.5" stroke="#000" stroke-width="4" />
<line x1="646.3" y1="379.5" x2="661.3" y2="379.5" stroke="#000" stroke-width="4" />
<line x1="646.3" y1="306.88" x2="661.3" y2="306.88" stroke="#000" stroke-width="4" />
<line x1="646.3" y1="234.25" x2="661.3" y2="234.25" stroke="#000" stroke-width="4" />
<line x1="646.3" y1="161.62" x2="661.3" y2="161.62" stroke="#000" stroke-width="4" />
<line x1="646.3" y1="89" x2="661.3" y2="89" stroke="#000" stroke-width="4" />
<line x1="716.2" y1="379.5" x2="716.2" y2="394" stroke="#000" stroke-width="4" />
<line x1="776.2" y1="379.5" x2="776.2" y2="394" stroke="#000" stroke-width="4" />
<line x1="836.2" y1="379.5" x2="836.2" y2="394" stroke="#000" stroke-width="4" />
<line x1="896.2" y1="379.5" x2="896.2" y2="394" stroke="#000" stroke-width="4" />
<line x1="956.2" y1="379.5" x2="956.2" y2="394" stroke="#000" stroke-width="4" />
<line x1="1016.2" y1="379.5" x2="1016.2" y2="394" stroke="#000" stroke-width="4" />
<line x1="1076.2" y1="379.5" x2="1076.2" y2="394" stroke="#000" stroke-width="4" />
<line x1="1136.2" y1="379.5" x2="1136.2" y2="394" stroke="#000" stroke-width="4" />
<path d="M661.2 317.45V334.59M656.2 317.45H666.2M656.2 334.59H666.2M666.2 309.68V328.94M661.2 309.68H671.2M661.2 328.94H671.2M671.2 334.55V353.92M666.2 334.55H676.2M666.2 353.92H676.2M676.2 328.01V341.29M671.2 328.01H681.2M671.2 341.29H681.2M681.2 303.85V315.59M676.2 303.85H686.2M676.2 315.59H686.2M686.2 306.53V322.5M681.2 306.53H691.2M681.2 322.5H691.2M691.2 325.33V340.13M686.2 325.33H696.2M686.2 340.13H696.2M696.2 328.92V349.96M691.2 328.92H701.2M691.2 349.96H701.2M701.2 312.36V332.01M696.2 312.36H706.2M696.2 332.01H706.2M706.2 307.13V325.74M701.2 307.13H711.2M701.2 325.74H711.2M711.2 325.59V343.7M706.2 325.59H716.2M706.2 343.7H716.2M716.2 323.08V342.38M711.2 323.08H721.2M711.2 342.38H721.2M721.2 316.49V329.8M716.2 316.49H726.2M716.2 329.8H726.2M726.2 298.48V315.21M721.2 298.48H731.2M721.2 315.21H731.2M731.2 312.56V326.06M726.2 312.56H736.2M726.2 326.06H736.2M736.2 318.78V340.93M731.2 318.78H741.2M731.2 340.93H741.2M741.2 329.45V341.76M736.2 329.45H746.2M736.2 341.76H746.2M746.2 315.45V336.59M741.2 315.45H751.2M741.2 336.59H751.2M751.2 309.23V321.72M746.2 309.23H756.2M746.2 321.72H756.2M756.2 264.45V284.05M751.2 264.45H761.2M751.2 284.05H761.2M761.2 265.32V283.19M756.2 265.32H766.2M756.2 283.19H766.2M766.2 242.82V261.59M761.2 242.82H771.2M761.2 261.59H771.2M771.2 248.52V273.14M766.2 248.52H776.2M766.2 273.14H776.2M776.2 236.77V250.38M771.2 236.77H781.2M771.2 250.38H781.2M781.2 251.83V266M776.2 251.83H786.2M776.2 266H786.2M786.2 243.24V268.83M781.2 243.24H791.2M781.2 268.83H791.2M791.2 243.08V263.24M786.2 243.08H796.2M786.2 263.24H796.2M796.2 268.88V283.46M791.2 268.88H801.2M791.2 283.46H801.2M801.2 245.64V272.19M796.2 245.64H806.2M796.2 272.19H806.2M806.2 248.78V274.8M801.2 248.78H811.2M801.2 274.8H811.2M811.2 261.07V275.93M806.2 261.07H816.2M806.2 275.93H816.2M816.2 271.45V290.47M811.2 271.45H821.2M811.2 290.47H821.2M821.2 279.13V294.3M816.2 279.13H826.2M816.2 294.3H826.2M826.2 274.11V291.65M821.2 274.11H831.2M821.2 291.65H831.2M831.2 289.3V310.97M826.2 289.3H836.2M826.2 310.97H836.2M836.2 282.77V298.32M831.2 282.77H841.2M831.2 298.32H841.2M841.2 270.58V293.26M836.2 270.58H846.2M836.2 293.26H846.2M846.2 271.06V285.11M841.2 271.06H851.2M841.2 285.11H851.2M851.2 287.52V303.17M846.2 287.52H856.2M846.2 303.17H856.2M856.2 303.34V327.61M851.2 303.34H861.2M851.2 327.61H861.2M861.2 306.12V324.83M856.2 306.12H866.2M856.2 324.83H866.2M866.2 311.75V330.71M861.2 311.75H871.2M861.2 330.71H871.2M871.2 289.47V310.8M866.2 289.47H876.2M866.2 310.8H876.2M876.2 309.44V329.18M871.2 309.44H881.2M871.2 329.18H881.2M881.2 326.35V344.86M876.2 326.35H886.2M876.2 344.86H886.2M886.2 307.57V319.54M881.2 307.57H891.2M881.2 319.54H891.2M891.2 322.7V342.76M886.2 322.7H896.2M886.2 342.76H896.2M896.2 303.08V325.95M891.2 303.08H901.2M891.2 325.95H901.2M901.2 309.74V332.71M896.2 309.74H906.2M896.2 332.71H906.2M906.2 321.15V340.48M901.2 321.15H911.2M901.2 340.48H911.2M911.2 300.88V316.64M906.2 300.88H916.2M906.2 316.64H916.2M916.2 326.73V342.57M911.2 326.73H921.2M911.2 342.57H921.2M921.2 324.83V344.47M916.2 324.83H926.2M916.2 344.47H926.2M926.2 315.34V334.78M921.2 315.34H931.2M921.2 334.78H931.2M931.2 308.04V320.99M926.2 308.04H936.2M926.2 320.99H936.2M936.2 325.55V339.9M931.2 325.55H941.2M931.2 339.9H941.2M941.2 333.44V349.28M936.2 333.44H946.2M936.2 349.28H946.2M946.2 317.24V334.8M941.2 317.24H951.2M941.2 334.8H951.2M951.2 317.42V338.45M946.2 317.42H956.2M946.2 338.45H956.2M956.2 316.35V333.78M951.2 316.35H961.2M951.2 333.78H961.2M961.2 323.88V335.83M956.2 323.88H966.2M956.2 335.83H966.2M966.2 307.76V328.94M961.2 307.76H971.2M961.2 328.94H971.2M971.2 325.38V342M966.2 325.38H976.2M966.2 342H976.2M976.2 306.65V324.3M971.2 306.65H981.2M971.2 324.3H981.2M981.2 321.79V336M976.2 321.79H986.2M976.2 336H986.2M986.2 316.77V333.35M981.2 316.77H991.2M981.2 333.35H991.2M991.2 317.95V334.08M986.2 317.95H996.2M986.2 334.08H996.2M996.2 250.91V274.59M991.2 250.91H1001.2M991.2 274.59H1001.2M1001.2 244.84V259.57M996.2 244.84H1006.2M996.2 259.57H1006.2M1006.2 237.05V257.77M1001.2 237.05H1011.2M1001.2 257.77H1011.2M1011.2 249.13V264.87M1006.2 249.13H1016.2M1006.2 264.87H1016.2M1016.2 261V283.67M1011.2 261H1021.2M1011.2 283.67H1021.2M1021.2 255.82V269.68M1016.2 255.82H1026.2M1016.2 269.68H1026.2M1026.2 263.81V280.86M1021.2 263.81H1031.2M1021.2 280.86H1031.2M1031.2 248.02V265.98M1026.2 248.02H1036.2M1026.2 265.98H1036.2M1036.2 246.06V267.93M1031.2 246.06H1041.2M1031.2 267.93H1041.2M1041.2 244.21V258.27M1036.2 244.21H1046.2M1036.2 258.27H1046.2M1046.2 247.25V266.75M1041.2 247.25H1051.2M1041.2 266.75H1051.2M1051.2 290.14V306.29M1046.2 290.14H1056.2M1046.2 306.29H1056.2M1056.2 274.31V291.44M1051.2 274.31H1061.2M1051.2 291.44H1061.2M1061.2 273.02V292.74M1056.2 273.02H1066.2M1056.2 292.74H1066.2M1066.2 277.46V303.64M1061.2 277.46H1071.2M1061.2 303.64H1071.2M1071.2 279.69V299.49M1066.2 279.69H1076.2M1066.2 299.49H1076.2M1076.2 265.02V291.15M1071.2 265.02H1081.2M1071.2 291.15H1081.2M1081.2 277.95V293.56M1076.2 277.95H1086.2M1076.2 293.56H1086.2M1086.2 242.22V267.94M1081.2 242.22H1091.2M1081.2 267.94H1091.2M1091.2 272.81V291.04M1086.2 272.81H1096.2M1086.2 291.04H1096.2M1096.2 296.02V311.92M1091.2 296.02H1101.2M1091.2 311.92H1101.2M1101.2 299.96V323.32M1096.2 299.96H1106.2M1096.2 323.32H1106.2M1106.2 291.19V316.75M1101.2 291.19H1111.2M1101.2 316.75H1111.2M1111.2 311.62V325.08M1106.2 311.62H1116.2M1106.2 325.08H1116.2M1116.2 288.79V305.73M1111.2 288.79H1121.2M1111.2 305.73H1121.2M1121.2 314.19V337.85M1116.2 314.19H1126.2M1116.2 337.85H1126.2M1126.2 307.68V323.27M1121.2 307.68H1131.2M1121.2 323.27H1131.2M1131.2 318.81V333.23M1126.2 318.81H1136.2M1126.2 333.23H1136.2M1136.2 306.74V318.46M1131.2 306.74H1141.2M1131.2 318.46H1141.2" fill="none" stroke="#4d4d4d" stroke-width="1.3" />
<polyline points="661.2,326.02 666.2,319.31 671.2,344.23 676.2,334.65 681.2,309.72 686.2,314.52 691.2,332.73 696.2,339.44 701.2,322.18 706.2,316.43 711.2,334.65 716.2,332.73 721.2,323.14 726.2,306.85 731.2,319.31 736.2,329.85 741.2,335.61 746.2,326.02 751.2,315.47 756.2,274.25 761.2,274.25 766.2,252.2 771.2,260.83 776.2,243.58 781.2,258.91 786.2,256.04 791.2,253.16 796.2,276.17 801.2,258.91 806.2,261.79 811.2,268.5 816.2,280.96 821.2,286.71 826.2,282.88 831.2,300.14 836.2,290.55 841.2,281.92 846.2,278.09 851.2,295.34 856.2,315.47 861.2,315.47 866.2,321.23 871.2,300.14 876.2,319.31 881.2,335.61 886.2,313.56 891.2,332.73 896.2,314.52 901.2,321.23 906.2,330.81 911.2,308.76 916.2,334.65 921.2,334.65 926.2,325.06 931.2,314.52 936.2,332.73 941.2,341.36 946.2,326.02 951.2,327.94 956.2,325.06 961.2,329.85 966.2,318.35 971.2,333.69 976.2,315.47 981.2,328.89 986.2,325.06 991.2,326.02 996.2,262.75 1001.2,252.2 1006.2,247.41 1011.2,257 1016.2,272.33 1021.2,262.75 1026.2,272.33 1031.2,257 1036.2,257 1041.2,251.24 1046.2,257 1051.2,298.22 1056.2,282.88 1061.2,282.88 1066.2,290.55 1071.2,289.59 1076.2,278.09 1081.2,285.76 1086.2,255.08 1091.2,281.92 1096.2,303.97 1101.2,311.64 1106.2,303.97 1111.2,318.35 1116.2,297.26 1121.2,326.02 1126.2,315.47 1131.2,326.02 1136.2,312.6" fill="none" stroke="#000" stroke-width="1.5" stroke-linejoin="round" />
<circle cx="661.2" cy="326.02" r="4.3" fill="#000"/>
<circle cx="666.2" cy="319.31" r="4.3" fill="#000"/>
<circle cx="671.2" cy="344.23" r="4.3" fill="#000"/>
<circle cx="676.2" cy="334.65" r="4.3" fill="#000"/>
<circle cx="681.2" cy="309.72" r="4.3" fill="#000"/>
<circle cx="686.2" cy="314.52" r="4.3" fill="#000"/>
<circle cx="691.2" cy="332.73" r="4.3" fill="#000"/>
<circle cx="696.2" cy="339.44" r="4.3" fill="#000"/>
<circle cx="701.2" cy="322.18" r="4.3" fill="#000"/>
<circle cx="706.2" cy="316.43" r="4.3" fill="#000"/>
<circle cx="711.2" cy="334.65" r="4.3" fill="#000"/>
<circle cx="716.2" cy="332.73" r="4.3" fill="#000"/>
<circle cx="721.2" cy="323.14" r="4.3" fill="#000"/>
<circle cx="726.2" cy="306.85" r="4.3" fill="#000"/>
<circle cx="731.2" cy="319.31" r="4.3" fill="#000"/>
<circle cx="736.2" cy="329.85" r="4.3" fill="#000"/>
<circle cx="741.2" cy="335.61" r="4.3" fill="#000"/>
<circle cx="746.2" cy="326.02" r="4.3" fill="#000"/>
<circle cx="751.2" cy="315.47" r="4.3" fill="#000"/>
<circle cx="756.2" cy="274.25" r="4.3" fill="#000"/>
<circle cx="761.2" cy="274.25" r="4.3" fill="#000"/>
<circle cx="766.2" cy="252.2" r="4.3" fill="#000"/>
<circle cx="771.2" cy="260.83" r="4.3" fill="#000"/>
<circle cx="776.2" cy="243.58" r="4.3" fill="#000"/>
<circle cx="781.2" cy="258.91" r="4.3" fill="#000"/>
<circle cx="786.2" cy="256.04" r="4.3" fill="#000"/>
<circle cx="791.2" cy="253.16" r="4.3" fill="#000"/>
<circle cx="796.2" cy="276.17" r="4.3" fill="#000"/>
<circle cx="801.2" cy="258.91" r="4.3" fill="#000"/>
<circle cx="806.2" cy="261.79" r="4.3" fill="#000"/>
<circle cx="811.2" cy="268.5" r="4.3" fill="#000"/>
<circle cx="816.2" cy="280.96" r="4.3" fill="#000"/>
<circle cx="821.2" cy="286.71" r="4.3" fill="#000"/>
<circle cx="826.2" cy="282.88" r="4.3" fill="#000"/>
<circle cx="831.2" cy="300.14" r="4.3" fill="#000"/>
<circle cx="836.2" cy="290.55" r="4.3" fill="#000"/>
<circle cx="841.2" cy="281.92" r="4.3" fill="#000"/>
<circle cx="846.2" cy="278.09" r="4.3" fill="#000"/>
<circle cx="851.2" cy="295.34" r="4.3" fill="#000"/>
<circle cx="856.2" cy="315.47" r="4.3" fill="#000"/>
<circle cx="861.2" cy="315.47" r="4.3" fill="#000"/>
<circle cx="866.2" cy="321.23" r="4.3" fill="#000"/>
<circle cx="871.2" cy="300.14" r="4.3" fill="#000"/>
<circle cx="876.2" cy="319.31" r="4.3" fill="#000"/>
<circle cx="881.2" cy="335.61" r="4.3" fill="#000"/>
<circle cx="886.2" cy="313.56" r="4.3" fill="#000"/>
<circle cx="891.2" cy="332.73" r="4.3" fill="#000"/>
<circle cx="896.2" cy="314.52" r="4.3" fill="#000"/>
<circle cx="901.2" cy="321.23" r="4.3" fill="#000"/>
<circle cx="906.2" cy="330.81" r="4.3" fill="#000"/>
<circle cx="911.2" cy="308.76" r="4.3" fill="#000"/>
<circle cx="916.2" cy="334.65" r="4.3" fill="#000"/>
<circle cx="921.2" cy="334.65" r="4.3" fill="#000"/>
<circle cx="926.2" cy="325.06" r="4.3" fill="#000"/>
<circle cx="931.2" cy="314.52" r="4.3" fill="#000"/>
<circle cx="936.2" cy="332.73" r="4.3" fill="#000"/>
<circle cx="941.2" cy="341.36" r="4.3" fill="#000"/>
<circle cx="946.2" cy="326.02" r="4.3" fill="#000"/>
<circle cx="951.2" cy="327.94" r="4.3" fill="#000"/>
<circle cx="956.2" cy="325.06" r="4.3" fill="#000"/>
<circle cx="961.2" cy="329.85" r="4.3" fill="#000"/>
<circle cx="966.2" cy="318.35" r="4.3" fill="#000"/>
<circle cx="971.2" cy="333.69" r="4.3" fill="#000"/>
<circle cx="976.2" cy="315.47" r="4.3" fill="#000"/>
<circle cx="981.2" cy="328.89" r="4.3" fill="#000"/>
<circle cx="986.2" cy="325.06" r="4.3" fill="#000"/>
<circle cx="991.2" cy="326.02" r="4.3" fill="#000"/>
<circle cx="996.2" cy="262.75" r="4.3" fill="#000"/>
<circle cx="1001.2" cy="252.2" r="4.3" fill="#000"/>
<circle cx="1006.2" cy="247.41" r="4.3" fill="#000"/>
<circle cx="1011.2" cy="257" r="4.3" fill="#000"/>
<circle cx="1016.2" cy="272.33" r="4.3" fill="#000"/>
<circle cx="1021.2" cy="262.75" r="4.3" fill="#000"/>
<circle cx="1026.2" cy="272.33" r="4.3" fill="#000"/>
<circle cx="1031.2" cy="257" r="4.3" fill="#000"/>
<circle cx="1036.2" cy="257" r="4.3" fill="#000"/>
<circle cx="1041.2" cy="251.24" r="4.3" fill="#000"/>
<circle cx="1046.2" cy="257" r="4.3" fill="#000"/>
<circle cx="1051.2" cy="298.22" r="4.3" fill="#000"/>
<circle cx="1056.2" cy="282.88" r="4.3" fill="#000"/>
<circle cx="1061.2" cy="282.88" r="4.3" fill="#000"/>
<circle cx="1066.2" cy="290.55" r="4.3" fill="#000"/>
<circle cx="1071.2" cy="289.59" r="4.3" fill="#000"/>
<circle cx="1076.2" cy="278.09" r="4.3" fill="#000"/>
<circle cx="1081.2" cy="285.76" r="4.3" fill="#000"/>
<circle cx="1086.2" cy="255.08" r="4.3" fill="#000"/>
<circle cx="1091.2" cy="281.92" r="4.3" fill="#000"/>
<circle cx="1096.2" cy="303.97" r="4.3" fill="#000"/>
<circle cx="1101.2" cy="311.64" r="4.3" fill="#000"/>
<circle cx="1106.2" cy="303.97" r="4.3" fill="#000"/>
<circle cx="1111.2" cy="318.35" r="4.3" fill="#000"/>
<circle cx="1116.2" cy="297.26" r="4.3" fill="#000"/>
<circle cx="1121.2" cy="326.02" r="4.3" fill="#000"/>
<circle cx="1126.2" cy="315.47" r="4.3" fill="#000"/>
<circle cx="1131.2" cy="326.02" r="4.3" fill="#000"/>
<circle cx="1136.2" cy="312.6" r="4.3" fill="#000"/>
<path d="M661.2 248.92V261.23M656.2 248.92H666.2M656.2 261.23H666.2M666.2 254.46V276.87M661.2 254.46H671.2M661.2 276.87H671.2M671.2 235.88V264.64M666.2 235.88H676.2M666.2 264.64H676.2M676.2 234.78V263.81M671.2 234.78H681.2M671.2 263.81H681.2M681.2 241.99V262.38M676.2 241.99H686.2M676.2 262.38H686.2M686.2 246.17V258.2M681.2 246.17H691.2M681.2 258.2H691.2M691.2 244.53V261.77M686.2 244.53H696.2M686.2 261.77H696.2M696.2 248.18V273.52M691.2 248.18H701.2M691.2 273.52H701.2M701.2 245.87V271.99M696.2 245.87H706.2M696.2 271.99H706.2M706.2 248.51V271.27M701.2 248.51H711.2M701.2 271.27H711.2M711.2 256.89V272.51M706.2 256.89H716.2M706.2 272.51H716.2M716.2 250.45V271.26M711.2 250.45H721.2M711.2 271.26H721.2M721.2 240.29V260.23M716.2 240.29H726.2M716.2 260.23H726.2M726.2 250.54V273.09M721.2 250.54H731.2M721.2 273.09H731.2M731.2 256.61V272.8M726.2 256.61H736.2M726.2 272.8H736.2M736.2 241.98V270.1M731.2 241.98H741.2M731.2 270.1H741.2M741.2 251.1V278.31M736.2 251.1H746.2M736.2 278.31H746.2M746.2 233.41V247.85M741.2 233.41H751.2M741.2 247.85H751.2M751.2 224.58V241.27M746.2 224.58H756.2M746.2 241.27H756.2M756.2 197.36V224.2M751.2 197.36H761.2M751.2 224.2H761.2M761.2 202.41V228.77M756.2 202.41H766.2M756.2 228.77H766.2M766.2 150.76V195.68M761.2 150.76H771.2M761.2 195.68H771.2M771.2 155.78V188.74M766.2 155.78H776.2M766.2 188.74H776.2M776.2 158.07V196.07M771.2 158.07H781.2M771.2 196.07H781.2M781.2 162.76V201.01M776.2 162.76H786.2M776.2 201.01H786.2M786.2 159.97V184.54M781.2 159.97H791.2M781.2 184.54H791.2M791.2 170.54V197.08M786.2 170.54H796.2M786.2 197.08H796.2M796.2 147.85V173.55M791.2 147.85H801.2M791.2 173.55H801.2M801.2 137.06V174.71M796.2 137.06H806.2M796.2 174.71H806.2M806.2 169.65V207.6M801.2 169.65H811.2M801.2 207.6H811.2M811.2 184.24V206.5M806.2 184.24H816.2M806.2 206.5H816.2M816.2 187.19V230.51M811.2 187.19H821.2M811.2 230.51H821.2M821.2 188.88V219.19M816.2 188.88H826.2M816.2 219.19H826.2M826.2 181.75V207.06M821.2 181.75H831.2M821.2 207.06H831.2M831.2 201.19V231.92M826.2 201.19H836.2M826.2 231.92H836.2M836.2 193.6V239.51M831.2 193.6H841.2M831.2 239.51H841.2M841.2 203.3V237.51M836.2 203.3H846.2M836.2 237.51H846.2M846.2 178.32V214.34M841.2 178.32H851.2M841.2 214.34H851.2M851.2 190.58V234.83M846.2 190.58H856.2M846.2 234.83H856.2M856.2 221.77V267.19M851.2 221.77H861.2M851.2 267.19H861.2M861.2 240.95V280.75M856.2 240.95H866.2M856.2 280.75H866.2M866.2 234.18V264.42M861.2 234.18H871.2M861.2 264.42H871.2M871.2 215.42V250.43M866.2 215.42H876.2M866.2 250.43H876.2M876.2 231.29V275.01M871.2 231.29H881.2M871.2 275.01H881.2M881.2 251.14V291.75M876.2 251.14H886.2M876.2 291.75H886.2M886.2 223.02V244.75M881.2 223.02H891.2M881.2 244.75H891.2M891.2 232.75V250.43M886.2 232.75H896.2M886.2 250.43H896.2M896.2 221.02V239.06M891.2 221.02H901.2M891.2 239.06H901.2M901.2 217.81V242.26M896.2 217.81H906.2M896.2 242.26H906.2M906.2 230.87V252.31M901.2 230.87H911.2M901.2 252.31H911.2M911.2 215.41V227.33M906.2 215.41H916.2M906.2 227.33H916.2M916.2 237.3V261.3M911.2 237.3H921.2M911.2 261.3H921.2M921.2 236.57V263.95M916.2 236.57H926.2M916.2 263.95H926.2M926.2 221.13V246.65M921.2 221.13H931.2M921.2 246.65H931.2M931.2 225.07V252.33M926.2 225.07H936.2M926.2 252.33H936.2M936.2 231.7V259.19M931.2 231.7H941.2M931.2 259.19H941.2M941.2 253.27V274.21M936.2 253.27H946.2M936.2 274.21H946.2M946.2 224.09V249.46M941.2 224.09H951.2M941.2 249.46H951.2M951.2 229.59V247.82M946.2 229.59H956.2M946.2 247.82H956.2M956.2 235.89V249.22M951.2 235.89H961.2M951.2 249.22H961.2M961.2 241.37V259.15M956.2 241.37H966.2M956.2 259.15H966.2M966.2 226.32V243.38M961.2 226.32H971.2M961.2 243.38H971.2M971.2 238.24V266.14M966.2 238.24H976.2M966.2 266.14H976.2M976.2 223.04V246.67M971.2 223.04H981.2M971.2 246.67H981.2M981.2 256.1V277.16M976.2 256.1H986.2M976.2 277.16H986.2M986.2 266.95V289.42M981.2 266.95H991.2M981.2 289.42H991.2M991.2 233.73V247.53M986.2 233.73H996.2M986.2 247.53H996.2M996.2 186.33V219.82M991.2 186.33H1001.2M991.2 219.82H1001.2M1001.2 148.38V186.51M996.2 148.38H1006.2M996.2 186.51H1006.2M1006.2 150.72V180.31M1001.2 150.72H1011.2M1001.2 180.31H1011.2M1011.2 176.87V202.31M1006.2 176.87H1016.2M1006.2 202.31H1016.2M1016.2 160.18V190.11M1011.2 160.18H1021.2M1011.2 190.11H1021.2M1021.2 167.11V194.73M1016.2 167.11H1026.2M1016.2 194.73H1026.2M1026.2 166.89V204.59M1021.2 166.89H1031.2M1021.2 204.59H1031.2M1031.2 190.84V213.38M1026.2 190.84H1036.2M1026.2 213.38H1036.2M1036.2 179.03V200.15M1031.2 179.03H1041.2M1031.2 200.15H1041.2M1041.2 164.38V191.69M1036.2 164.38H1046.2M1036.2 191.69H1046.2M1046.2 165.78V203.77M1041.2 165.78H1051.2M1041.2 203.77H1051.2M1051.2 178.37V218.15M1046.2 178.37H1056.2M1046.2 218.15H1056.2M1056.2 204.8V241.79M1051.2 204.8H1061.2M1051.2 241.79H1061.2M1061.2 195.19V239.85M1056.2 195.19H1066.2M1056.2 239.85H1066.2M1066.2 188.68V217.47M1061.2 188.68H1071.2M1061.2 217.47H1071.2M1071.2 213.58V233.01M1066.2 213.58H1076.2M1066.2 233.01H1076.2M1076.2 192.75V224.95M1071.2 192.75H1081.2M1071.2 224.95H1081.2M1081.2 189.52V220.48M1076.2 189.52H1086.2M1076.2 220.48H1086.2M1086.2 179.72V203.31M1081.2 179.72H1091.2M1081.2 203.31H1091.2M1091.2 191.21V228.42M1086.2 191.21H1096.2M1086.2 228.42H1096.2M1096.2 238.13V266.24M1091.2 238.13H1101.2M1091.2 266.24H1101.2M1101.2 243.42V268.66M1096.2 243.42H1106.2M1096.2 268.66H1106.2M1106.2 240.25V267.97M1101.2 240.25H1111.2M1101.2 267.97H1111.2M1111.2 225.88V270.79M1106.2 225.88H1116.2M1106.2 270.79H1116.2M1116.2 217.74V236.55M1111.2 217.74H1121.2M1111.2 236.55H1121.2M1121.2 257.13V285.77M1116.2 257.13H1126.2M1116.2 285.77H1126.2M1126.2 253.57V270.06M1121.2 253.57H1131.2M1121.2 270.06H1131.2M1131.2 245.58V260.71M1126.2 245.58H1136.2M1126.2 260.71H1136.2M1136.2 252.24V271.39M1131.2 252.24H1141.2M1131.2 271.39H1141.2" fill="none" stroke="#fe0000" stroke-width="1.3" />
<polyline points="661.2,255.07 666.2,265.67 671.2,250.26 676.2,249.3 681.2,252.19 686.2,252.19 691.2,253.15 696.2,260.85 701.2,258.93 706.2,259.89 711.2,264.7 716.2,260.85 721.2,250.26 726.2,261.82 731.2,264.7 736.2,256.04 741.2,264.7 746.2,240.63 751.2,232.93 756.2,210.78 761.2,215.59 766.2,173.22 771.2,172.26 776.2,177.07 781.2,181.89 786.2,172.26 791.2,183.81 796.2,160.7 801.2,155.88 806.2,188.63 811.2,195.37 816.2,208.85 821.2,204.04 826.2,194.41 831.2,216.55 836.2,216.55 841.2,220.41 846.2,196.33 851.2,212.7 856.2,244.48 861.2,260.85 866.2,249.3 871.2,232.93 876.2,253.15 881.2,271.45 886.2,233.89 891.2,241.59 896.2,230.04 901.2,230.04 906.2,241.59 911.2,221.37 916.2,249.3 921.2,250.26 926.2,233.89 931.2,238.7 936.2,245.44 941.2,263.74 946.2,236.78 951.2,238.7 956.2,242.56 961.2,250.26 966.2,234.85 971.2,252.19 976.2,234.85 981.2,266.63 986.2,278.19 991.2,240.63 996.2,203.07 1001.2,167.44 1006.2,165.51 1011.2,189.59 1016.2,175.14 1021.2,180.92 1026.2,185.74 1031.2,202.11 1036.2,189.59 1041.2,178.03 1046.2,184.77 1051.2,198.26 1056.2,223.3 1061.2,217.52 1066.2,203.07 1071.2,223.3 1076.2,208.85 1081.2,205 1086.2,191.52 1091.2,209.81 1096.2,252.19 1101.2,256.04 1106.2,254.11 1111.2,248.33 1116.2,227.15 1121.2,271.45 1126.2,261.82 1131.2,253.15 1136.2,261.82" fill="none" stroke="#fe0000" stroke-width="1.5" stroke-linejoin="round" />
<path d="M656.9 250.77h8.6v8.6h-8.6zM661.9 261.37h8.6v8.6h-8.6zM666.9 245.96h8.6v8.6h-8.6zM671.9 245h8.6v8.6h-8.6zM676.9 247.89h8.6v8.6h-8.6zM681.9 247.89h8.6v8.6h-8.6zM686.9 248.85h8.6v8.6h-8.6zM691.9 256.55h8.6v8.6h-8.6zM696.9 254.63h8.6v8.6h-8.6zM701.9 255.59h8.6v8.6h-8.6zM706.9 260.4h8.6v8.6h-8.6zM711.9 256.55h8.6v8.6h-8.6zM716.9 245.96h8.6v8.6h-8.6zM721.9 257.52h8.6v8.6h-8.6zM726.9 260.4h8.6v8.6h-8.6zM731.9 251.74h8.6v8.6h-8.6zM736.9 260.4h8.6v8.6h-8.6zM741.9 236.33h8.6v8.6h-8.6zM746.9 228.63h8.6v8.6h-8.6zM751.9 206.48h8.6v8.6h-8.6zM756.9 211.29h8.6v8.6h-8.6zM761.9 168.92h8.6v8.6h-8.6zM766.9 167.96h8.6v8.6h-8.6zM771.9 172.77h8.6v8.6h-8.6zM776.9 177.59h8.6v8.6h-8.6zM781.9 167.96h8.6v8.6h-8.6zM786.9 179.51h8.6v8.6h-8.6zM791.9 156.4h8.6v8.6h-8.6zM796.9 151.58h8.6v8.6h-8.6zM801.9 184.33h8.6v8.6h-8.6zM806.9 191.07h8.6v8.6h-8.6zM811.9 204.55h8.6v8.6h-8.6zM816.9 199.74h8.6v8.6h-8.6zM821.9 190.11h8.6v8.6h-8.6zM826.9 212.25h8.6v8.6h-8.6zM831.9 212.25h8.6v8.6h-8.6zM836.9 216.11h8.6v8.6h-8.6zM841.9 192.03h8.6v8.6h-8.6zM846.9 208.4h8.6v8.6h-8.6zM851.9 240.18h8.6v8.6h-8.6zM856.9 256.55h8.6v8.6h-8.6zM861.9 245h8.6v8.6h-8.6zM866.9 228.63h8.6v8.6h-8.6zM871.9 248.85h8.6v8.6h-8.6zM876.9 267.15h8.6v8.6h-8.6zM881.9 229.59h8.6v8.6h-8.6zM886.9 237.29h8.6v8.6h-8.6zM891.9 225.74h8.6v8.6h-8.6zM896.9 225.74h8.6v8.6h-8.6zM901.9 237.29h8.6v8.6h-8.6zM906.9 217.07h8.6v8.6h-8.6zM911.9 245h8.6v8.6h-8.6zM916.9 245.96h8.6v8.6h-8.6zM921.9 229.59h8.6v8.6h-8.6zM926.9 234.4h8.6v8.6h-8.6zM931.9 241.14h8.6v8.6h-8.6zM936.9 259.44h8.6v8.6h-8.6zM941.9 232.48h8.6v8.6h-8.6zM946.9 234.4h8.6v8.6h-8.6zM951.9 238.26h8.6v8.6h-8.6zM956.9 245.96h8.6v8.6h-8.6zM961.9 230.55h8.6v8.6h-8.6zM966.9 247.89h8.6v8.6h-8.6zM971.9 230.55h8.6v8.6h-8.6zM976.9 262.33h8.6v8.6h-8.6zM981.9 273.89h8.6v8.6h-8.6zM986.9 236.33h8.6v8.6h-8.6zM991.9 198.77h8.6v8.6h-8.6zM996.9 163.14h8.6v8.6h-8.6zM1001.9 161.21h8.6v8.6h-8.6zM1006.9 185.29h8.6v8.6h-8.6zM1011.9 170.84h8.6v8.6h-8.6zM1016.9 176.62h8.6v8.6h-8.6zM1021.9 181.44h8.6v8.6h-8.6zM1026.9 197.81h8.6v8.6h-8.6zM1031.9 185.29h8.6v8.6h-8.6zM1036.9 173.73h8.6v8.6h-8.6zM1041.9 180.47h8.6v8.6h-8.6zM1046.9 193.96h8.6v8.6h-8.6zM1051.9 219h8.6v8.6h-8.6zM1056.9 213.22h8.6v8.6h-8.6zM1061.9 198.77h8.6v8.6h-8.6zM1066.9 219h8.6v8.6h-8.6zM1071.9 204.55h8.6v8.6h-8.6zM1076.9 200.7h8.6v8.6h-8.6zM1081.9 187.22h8.6v8.6h-8.6zM1086.9 205.51h8.6v8.6h-8.6zM1091.9 247.89h8.6v8.6h-8.6zM1096.9 251.74h8.6v8.6h-8.6zM1101.9 249.81h8.6v8.6h-8.6zM1106.9 244.03h8.6v8.6h-8.6zM1111.9 222.85h8.6v8.6h-8.6zM1116.9 267.15h8.6v8.6h-8.6zM1121.9 257.52h8.6v8.6h-8.6zM1126.9 248.85h8.6v8.6h-8.6zM1131.9 257.52h8.6v8.6h-8.6z" fill="#fe0000"/>
<text x="619.88" y="387.55"  font-size="23.33" font-weight="bold" >15</text>
<text x="620.59" y="314.93"  font-size="23" font-weight="bold" >20</text>
<text x="620.25" y="242.3"  font-size="23" font-weight="bold" >25</text>
<text x="620.59" y="169.68"  font-size="23" font-weight="bold" >30</text>
<text x="620.25" y="97.05"  font-size="23" font-weight="bold" >35</text>
<text x="650.26" y="420.5"  font-size="32.33" textLength="16.96" lengthAdjust="spacingAndGlyphs" >0</text>
<text x="707.38" y="420.5"  font-size="32.33" textLength="16.96" lengthAdjust="spacingAndGlyphs" >6</text>
<text x="749.09" y="420.5"  font-size="32.33" textLength="33.93" lengthAdjust="spacingAndGlyphs" >12</text>
<text x="807.04" y="420.5"  font-size="32.33" textLength="33.93" lengthAdjust="spacingAndGlyphs" >18</text>
<text x="871.57" y="420.5"  font-size="32.33" textLength="33.93" lengthAdjust="spacingAndGlyphs" >24</text>
<text x="930.4" y="420.5"  font-size="32.33" textLength="33.93" lengthAdjust="spacingAndGlyphs" >30</text>
<text x="996.07" y="420.5"  font-size="32.33" textLength="33.93" lengthAdjust="spacingAndGlyphs" >36</text>
<text x="1054.63" y="420.5"  font-size="32.33" textLength="33.93" lengthAdjust="spacingAndGlyphs" >42</text>
<text x="1111.68" y="420.5"  font-size="32.33" textLength="33.93" lengthAdjust="spacingAndGlyphs" >48</text>
<text x="830.36" y="50.8"  font-size="28.96" font-weight="bold" textLength="138.16" lengthAdjust="spacingAndGlyphs" >VCO2 HFD</text>
<text x="1011.36" y="107.1"  font-size="24.29" fill="#111" textLength="86.56" lengthAdjust="spacingAndGlyphs" >P&lt;0.001</text>
<text x="0" y="0" transform="translate(606,425.09) rotate(-90)" font-size="29.11" font-weight="bold" textLength="380.85" lengthAdjust="spacingAndGlyphs" >Kcal/day/Kg Body mass^0.75</text>
<text x="809.59" y="446.7"  font-size="32.14" textLength="175.78" lengthAdjust="spacingAndGlyphs" >Time (Hours)</text>
<line x1="1021" y1="17.8" x2="1055" y2="17.8" stroke="#222" stroke-width="1.5" />
<circle cx="1038" cy="17.8" r="4.3" fill="#000"/>
<text x="1071.1" y="25.7"  font-size="23" >WT</text>
<line x1="1021" y1="59" x2="1055" y2="59" stroke="#fe0000" stroke-width="1.5" />
<rect x="1033.7" y="54.7" width="8.6" height="8.6" fill="#fe0000" />
<text x="1071.1" y="66.8"  font-size="23" >KO</text>
<rect x="1353.3" y="84.3" width="120.1" height="292" fill="#a1a0a5" />
<rect x="1590.2" y="84.3" width="121.6" height="292" fill="#a1a0a5" />
<line x1="1255.4" y1="87.3" x2="1255.4" y2="380.1" stroke="#000" stroke-width="4" />
<line x1="1240" y1="378.1" x2="1730.8" y2="378.1" stroke="#000" stroke-width="4" />
<line x1="1240" y1="378.1" x2="1255.4" y2="378.1" stroke="#000" stroke-width="4" />
<line x1="1240" y1="305.9" x2="1255.4" y2="305.9" stroke="#000" stroke-width="4" />
<line x1="1240" y1="233.7" x2="1255.4" y2="233.7" stroke="#000" stroke-width="4" />
<line x1="1240" y1="161.5" x2="1255.4" y2="161.5" stroke="#000" stroke-width="4" />
<line x1="1240" y1="89.3" x2="1255.4" y2="89.3" stroke="#000" stroke-width="4" />
<line x1="1309" y1="378.1" x2="1309" y2="392.6" stroke="#000" stroke-width="4" />
<line x1="1369" y1="378.1" x2="1369" y2="392.6" stroke="#000" stroke-width="4" />
<line x1="1429" y1="378.1" x2="1429" y2="392.6" stroke="#000" stroke-width="4" />
<line x1="1489" y1="378.1" x2="1489" y2="392.6" stroke="#000" stroke-width="4" />
<line x1="1549" y1="378.1" x2="1549" y2="392.6" stroke="#000" stroke-width="4" />
<line x1="1609" y1="378.1" x2="1609" y2="392.6" stroke="#000" stroke-width="4" />
<line x1="1669" y1="378.1" x2="1669" y2="392.6" stroke="#000" stroke-width="4" />
<line x1="1729" y1="378.1" x2="1729" y2="392.6" stroke="#000" stroke-width="4" />
<path d="M1254 279.28V291.63M1249 279.28H1259M1249 291.63H1259M1259 271.57V287.61M1254 271.57H1264M1254 287.61H1264M1264 293.35V309.38M1259 293.35H1269M1259 309.38H1269M1269 284.26V301.72M1264 284.26H1274M1264 301.72H1274M1274 265.36V277.07M1269 265.36H1279M1269 277.07H1279M1279 269.35V281.46M1274 269.35H1284M1274 281.46H1284M1284 285.62V297.01M1279 285.62H1289M1279 297.01H1289M1289 291.15V303.21M1284 291.15H1294M1284 303.21H1294M1294 273.87V290.34M1289 273.87H1299M1289 290.34H1299M1299 271.46V282.7M1294 271.46H1304M1294 282.7H1304M1304 285.63V300.35M1299 285.63H1309M1299 300.35H1309M1309 285.33V297.3M1304 285.33H1314M1304 297.3H1314M1314 276.61V289.27M1309 276.61H1319M1309 289.27H1319M1319 261.78V275.63M1314 261.78H1324M1314 275.63H1324M1324 270.91V288.27M1319 270.91H1329M1319 288.27H1329M1329 281.11V296.49M1324 281.11H1334M1324 296.49H1334M1334 288.71V298.94M1329 288.71H1339M1329 298.94H1339M1339 279.2V291.7M1334 279.2H1344M1334 291.7H1344M1344 270.55V281.93M1339 270.55H1349M1339 281.93H1349M1349 231.4V249.06M1344 231.4H1354M1344 249.06H1354M1354 230.38V250.07M1349 230.38H1359M1349 250.07H1359M1359 211.14V230.79M1354 211.14H1364M1354 230.79H1364M1364 218.57V238.43M1359 218.57H1369M1359 238.43H1369M1369 203.9V222.95M1364 203.9H1374M1364 222.95H1374M1374 216.29V237.37M1369 216.29H1379M1369 237.37H1379M1379 214.55V234.08M1374 214.55H1384M1374 234.08H1384M1384 214.71V228.89M1379 214.71H1389M1379 228.89H1389M1389 231.86V251.95M1384 231.86H1394M1384 251.95H1394M1394 218.59V235.06M1389 218.59H1399M1389 235.06H1399M1399 219.77V238.91M1394 219.77H1404M1394 238.91H1404M1404 226.58V243.82M1399 226.58H1409M1399 243.82H1409M1409 238.14V254.04M1404 238.14H1414M1404 254.04H1414M1414 243.49V258.74M1409 243.49H1419M1409 258.74H1419M1419 239.81V255.72M1414 239.81H1424M1414 255.72H1424M1424 255.46V270.22M1419 255.46H1429M1419 270.22H1429M1429 248.07V260.86M1424 248.07H1434M1424 260.86H1434M1434 237.03V256.82M1429 237.03H1439M1429 256.82H1439M1439 233.79V253.37M1434 233.79H1444M1434 253.37H1444M1444 247.93V269.37M1439 247.93H1449M1439 269.37H1449M1449 266.99V285.49M1444 266.99H1454M1444 285.49H1454M1454 267.67V284.81M1449 267.67H1459M1449 284.81H1459M1459 271.72V290.81M1454 271.72H1464M1454 290.81H1464M1464 256.36V269.32M1459 256.36H1469M1459 269.32H1469M1469 270.41V288.77M1464 270.41H1474M1464 288.77H1474M1474 285.81V301.85M1469 285.81H1479M1469 301.85H1479M1479 268.75V280.38M1474 268.75H1484M1474 280.38H1484M1484 285.38V297.25M1479 285.38H1489M1479 297.25H1489M1489 268.08V282.72M1484 268.08H1494M1484 282.72H1494M1494 275.11V287.42M1489 275.11H1499M1489 287.42H1499M1499 282.6V296.68M1494 282.6H1504M1494 296.68H1504M1504 262.7V278.05M1499 262.7H1509M1499 278.05H1509M1509 286.22V299.76M1504 286.22H1514M1504 299.76H1514M1514 287.37V298.61M1509 287.37H1519M1509 298.61H1519M1519 277.44V291.8M1514 277.44H1524M1514 291.8H1524M1524 269.33V281.48M1519 269.33H1529M1519 281.48H1529M1529 285.24V297.39M1524 285.24H1534M1524 297.39H1534M1534 292.96V304.75M1529 292.96H1539M1529 304.75H1539M1539 278.81V292.09M1534 278.81H1544M1534 292.09H1544M1544 281.76V292.5M1539 281.76H1549M1539 292.5H1549M1549 276.74V292.49M1544 276.74H1554M1544 292.49H1554M1554 279.62V297.99M1549 279.62H1559M1549 297.99H1559M1559 272.01V285.49M1554 272.01H1564M1554 285.49H1564M1564 283.98V300.32M1559 283.98H1569M1559 300.32H1569M1569 267.14V285.34M1564 267.14H1574M1564 285.34H1574M1574 282.72V293.21M1569 282.72H1579M1569 293.21H1579M1579 278.95V290.28M1574 278.95H1584M1574 290.28H1584M1584 276.91V294M1579 276.91H1589M1579 294H1589M1589 220.19V240.16M1584 220.19H1594M1584 240.16H1594M1594 211.97V229.96M1589 211.97H1599M1589 229.96H1599M1599 210.17V223.38M1594 210.17H1604M1594 223.38H1604M1604 217.28V233.02M1599 217.28H1609M1599 233.02H1609M1609 228.41V248.69M1604 228.41H1614M1604 248.69H1614M1614 219.95V240.4M1609 219.95H1619M1609 240.4H1619M1619 228.74V248.37M1614 228.74H1624M1614 248.37H1624M1624 218.33V231.98M1619 218.33H1629M1619 231.98H1629M1629 215.09V235.22M1624 215.09H1634M1624 235.22H1634M1634 212.45V227.81M1629 212.45H1639M1629 227.81H1639M1639 215.77V234.53M1634 215.77H1644M1634 234.53H1644M1644 254.67V267.66M1639 254.67H1649M1639 267.66H1649M1649 237.11V258.42M1644 237.11H1654M1644 258.42H1654M1654 238.95V256.58M1649 238.95H1659M1649 256.58H1659M1659 245.05V263.88M1654 245.05H1664M1654 263.88H1664M1664 246.76V260.49M1659 246.76H1669M1659 260.49H1669M1669 234.69V252.46M1664 234.69H1674M1664 252.46H1674M1674 241.57V258.98M1669 241.57H1679M1669 258.98H1679M1679 214.72V232.23M1674 214.72H1684M1674 232.23H1684M1684 239.32V254.53M1679 239.32H1689M1679 254.53H1689M1689 256.75V275.63M1684 256.75H1694M1684 275.63H1694M1694 265.38V280.4M1689 265.38H1699M1689 280.4H1699M1699 258.91V273.47M1694 258.91H1704M1694 273.47H1704M1704 272.12V285.38M1699 272.12H1709M1699 285.38H1709M1709 251.11V269.55M1704 251.11H1714M1704 269.55H1714M1714 279.08V291.82M1709 279.08H1719M1709 291.82H1719M1719 270.21V282.27M1714 270.21H1724M1714 282.27H1724M1724 280.1V290.81M1719 280.1H1729M1719 290.81H1729M1729 265.89V281.57M1724 265.89H1734M1724 281.57H1734" fill="none" stroke="#4d4d4d" stroke-width="1.3" />
<polyline points="1254,285.45 1259,279.59 1264,301.37 1269,292.99 1274,271.22 1279,275.4 1284,291.32 1289,297.18 1294,282.1 1299,277.08 1304,292.99 1309,291.32 1314,282.94 1319,268.7 1324,279.59 1329,288.8 1334,293.83 1339,285.45 1344,276.24 1349,240.23 1354,240.23 1359,220.96 1364,228.5 1369,213.43 1374,226.83 1379,224.31 1384,221.8 1389,241.9 1394,226.83 1399,229.34 1404,235.2 1409,246.09 1414,251.11 1419,247.76 1424,262.84 1429,254.46 1434,246.93 1439,243.58 1444,258.65 1449,276.24 1454,276.24 1459,281.27 1464,262.84 1469,279.59 1474,293.83 1479,274.57 1484,291.32 1489,275.4 1494,281.27 1499,289.64 1504,270.38 1509,292.99 1514,292.99 1519,284.62 1524,275.4 1529,291.32 1534,298.85 1539,285.45 1544,287.13 1549,284.62 1554,288.8 1559,278.75 1564,292.15 1569,276.24 1574,287.97 1579,284.62 1584,285.45 1589,230.18 1594,220.96 1599,216.78 1604,225.15 1609,238.55 1614,230.18 1619,238.55 1624,225.15 1629,225.15 1634,220.13 1639,225.15 1644,261.16 1649,247.76 1654,247.76 1659,254.46 1664,253.63 1669,243.58 1674,250.28 1679,223.48 1684,246.93 1689,266.19 1694,272.89 1699,266.19 1704,278.75 1709,260.33 1714,285.45 1719,276.24 1724,285.45 1729,273.73" fill="none" stroke="#000" stroke-width="1.5" stroke-linejoin="round" />
<circle cx="1254" cy="285.45" r="4.3" fill="#000"/>
<circle cx="1259" cy="279.59" r="4.3" fill="#000"/>
<circle cx="1264" cy="301.37" r="4.3" fill="#000"/>
<circle cx="1269" cy="292.99" r="4.3" fill="#000"/>
<circle cx="1274" cy="271.22" r="4.3" fill="#000"/>
<circle cx="1279" cy="275.4" r="4.3" fill="#000"/>
<circle cx="1284" cy="291.32" r="4.3" fill="#000"/>
<circle cx="1289" cy="297.18" r="4.3" fill="#000"/>
<circle cx="1294" cy="282.1" r="4.3" fill="#000"/>
<circle cx="1299" cy="277.08" r="4.3" fill="#000"/>
<circle cx="1304" cy="292.99" r="4.3" fill="#000"/>
<circle cx="1309" cy="291.32" r="4.3" fill="#000"/>
<circle cx="1314" cy="282.94" r="4.3" fill="#000"/>
<circle cx="1319" cy="268.7" r="4.3" fill="#000"/>
<circle cx="1324" cy="279.59" r="4.3" fill="#000"/>
<circle cx="1329" cy="288.8" r="4.3" fill="#000"/>
<circle cx="1334" cy="293.83" r="4.3" fill="#000"/>
<circle cx="1339" cy="285.45" r="4.3" fill="#000"/>
<circle cx="1344" cy="276.24" r="4.3" fill="#000"/>
<circle cx="1349" cy="240.23" r="4.3" fill="#000"/>
<circle cx="1354" cy="240.23" r="4.3" fill="#000"/>
<circle cx="1359" cy="220.96" r="4.3" fill="#000"/>
<circle cx="1364" cy="228.5" r="4.3" fill="#000"/>
<circle cx="1369" cy="213.43" r="4.3" fill="#000"/>
<circle cx="1374" cy="226.83" r="4.3" fill="#000"/>
<circle cx="1379" cy="224.31" r="4.3" fill="#000"/>
<circle cx="1384" cy="221.8" r="4.3" fill="#000"/>
<circle cx="1389" cy="241.9" r="4.3" fill="#000"/>
<circle cx="1394" cy="226.83" r="4.3" fill="#000"/>
<circle cx="1399" cy="229.34" r="4.3" fill="#000"/>
<circle cx="1404" cy="235.2" r="4.3" fill="#000"/>
<circle cx="1409" cy="246.09" r="4.3" fill="#000"/>
<circle cx="1414" cy="251.11" r="4.3" fill="#000"/>
<circle cx="1419" cy="247.76" r="4.3" fill="#000"/>
<circle cx="1424" cy="262.84" r="4.3" fill="#000"/>
<circle cx="1429" cy="254.46" r="4.3" fill="#000"/>
<circle cx="1434" cy="246.93" r="4.3" fill="#000"/>
<circle cx="1439" cy="243.58" r="4.3" fill="#000"/>
<circle cx="1444" cy="258.65" r="4.3" fill="#000"/>
<circle cx="1449" cy="276.24" r="4.3" fill="#000"/>
<circle cx="1454" cy="276.24" r="4.3" fill="#000"/>
<circle cx="1459" cy="281.27" r="4.3" fill="#000"/>
<circle cx="1464" cy="262.84" r="4.3" fill="#000"/>
<circle cx="1469" cy="279.59" r="4.3" fill="#000"/>
<circle cx="1474" cy="293.83" r="4.3" fill="#000"/>
<circle cx="1479" cy="274.57" r="4.3" fill="#000"/>
<circle cx="1484" cy="291.32" r="4.3" fill="#000"/>
<circle cx="1489" cy="275.4" r="4.3" fill="#000"/>
<circle cx="1494" cy="281.27" r="4.3" fill="#000"/>
<circle cx="1499" cy="289.64" r="4.3" fill="#000"/>
<circle cx="1504" cy="270.38" r="4.3" fill="#000"/>
<circle cx="1509" cy="292.99" r="4.3" fill="#000"/>
<circle cx="1514" cy="292.99" r="4.3" fill="#000"/>
<circle cx="1519" cy="284.62" r="4.3" fill="#000"/>
<circle cx="1524" cy="275.4" r="4.3" fill="#000"/>
<circle cx="1529" cy="291.32" r="4.3" fill="#000"/>
<circle cx="1534" cy="298.85" r="4.3" fill="#000"/>
<circle cx="1539" cy="285.45" r="4.3" fill="#000"/>
<circle cx="1544" cy="287.13" r="4.3" fill="#000"/>
<circle cx="1549" cy="284.62" r="4.3" fill="#000"/>
<circle cx="1554" cy="288.8" r="4.3" fill="#000"/>
<circle cx="1559" cy="278.75" r="4.3" fill="#000"/>
<circle cx="1564" cy="292.15" r="4.3" fill="#000"/>
<circle cx="1569" cy="276.24" r="4.3" fill="#000"/>
<circle cx="1574" cy="287.97" r="4.3" fill="#000"/>
<circle cx="1579" cy="284.62" r="4.3" fill="#000"/>
<circle cx="1584" cy="285.45" r="4.3" fill="#000"/>
<circle cx="1589" cy="230.18" r="4.3" fill="#000"/>
<circle cx="1594" cy="220.96" r="4.3" fill="#000"/>
<circle cx="1599" cy="216.78" r="4.3" fill="#000"/>
<circle cx="1604" cy="225.15" r="4.3" fill="#000"/>
<circle cx="1609" cy="238.55" r="4.3" fill="#000"/>
<circle cx="1614" cy="230.18" r="4.3" fill="#000"/>
<circle cx="1619" cy="238.55" r="4.3" fill="#000"/>
<circle cx="1624" cy="225.15" r="4.3" fill="#000"/>
<circle cx="1629" cy="225.15" r="4.3" fill="#000"/>
<circle cx="1634" cy="220.13" r="4.3" fill="#000"/>
<circle cx="1639" cy="225.15" r="4.3" fill="#000"/>
<circle cx="1644" cy="261.16" r="4.3" fill="#000"/>
<circle cx="1649" cy="247.76" r="4.3" fill="#000"/>
<circle cx="1654" cy="247.76" r="4.3" fill="#000"/>
<circle cx="1659" cy="254.46" r="4.3" fill="#000"/>
<circle cx="1664" cy="253.63" r="4.3" fill="#000"/>
<circle cx="1669" cy="243.58" r="4.3" fill="#000"/>
<circle cx="1674" cy="250.28" r="4.3" fill="#000"/>
<circle cx="1679" cy="223.48" r="4.3" fill="#000"/>
<circle cx="1684" cy="246.93" r="4.3" fill="#000"/>
<circle cx="1689" cy="266.19" r="4.3" fill="#000"/>
<circle cx="1694" cy="272.89" r="4.3" fill="#000"/>
<circle cx="1699" cy="266.19" r="4.3" fill="#000"/>
<circle cx="1704" cy="278.75" r="4.3" fill="#000"/>
<circle cx="1709" cy="260.33" r="4.3" fill="#000"/>
<circle cx="1714" cy="285.45" r="4.3" fill="#000"/>
<circle cx="1719" cy="276.24" r="4.3" fill="#000"/>
<circle cx="1724" cy="285.45" r="4.3" fill="#000"/>
<circle cx="1729" cy="273.73" r="4.3" fill="#000"/>
<path d="M1254 228.6V245.94M1249 228.6H1259M1249 245.94H1259M1259 237.09V254.26M1254 237.09H1264M1254 254.26H1264M1264 228.14V238.76M1259 228.14H1269M1259 238.76H1269M1269 224.77V240.6M1264 224.77H1274M1264 240.6H1274M1274 227.69V242.26M1269 227.69H1279M1269 242.26H1279M1279 229.32V240.63M1274 229.32H1284M1274 240.63H1284M1284 230.67V240.81M1279 230.67H1289M1279 240.81H1289M1289 230.31V253.39M1284 230.31H1294M1284 253.39H1294M1294 234.48V246.17M1289 234.48H1299M1289 246.17H1299M1299 234.07V248.1M1294 234.07H1304M1294 248.1H1304M1304 238.11V251.71M1299 238.11H1309M1299 251.71H1309M1309 232.92V250.79M1304 232.92H1314M1304 250.79H1314M1314 227.89V239.01M1309 227.89H1319M1309 239.01H1319M1319 234.51V250.72M1314 234.51H1324M1314 250.72H1324M1324 237.47V252.34M1319 237.47H1329M1319 252.34H1329M1329 227.56V248.51M1324 227.56H1334M1324 248.51H1334M1334 239.82V250M1329 239.82H1339M1329 250H1339M1339 218.58V233.04M1334 218.58H1344M1334 233.04H1344M1344 211.42V227.98M1339 211.42H1349M1339 227.98H1349M1349 190.77V213.49M1344 190.77H1354M1344 213.49H1354M1354 192.49V219.41M1349 192.49H1359M1349 219.41H1359M1359 159.32V185.36M1354 159.32H1364M1354 185.36H1364M1364 156.53V186.62M1359 156.53H1369M1359 186.62H1369M1369 164.22V186.56M1364 164.22H1374M1364 186.56H1374M1374 170.8V187.63M1369 170.8H1379M1369 187.63H1379M1379 158.28V184.87M1374 158.28H1384M1374 184.87H1384M1384 163.19V198.29M1379 163.19H1389M1379 198.29H1389M1389 146.65V178.17M1384 146.65H1394M1384 178.17H1394M1394 147.82V169.36M1389 147.82H1399M1389 169.36H1399M1399 169.36V199.76M1394 169.36H1404M1394 199.76H1404M1404 172.99V206.82M1399 172.99H1409M1399 206.82H1409M1409 189.83V211.38M1404 189.83H1414M1404 211.38H1414M1414 182.58V210.98M1409 182.58H1419M1409 210.98H1419M1419 177.36V200.93M1414 177.36H1424M1414 200.93H1424M1424 196.09V217.34M1419 196.09H1429M1419 217.34H1429M1429 195.64V217.79M1424 195.64H1434M1424 217.79H1434M1434 199.56V219.97M1429 199.56H1439M1429 219.97H1439M1439 178.94V202.41M1434 178.94H1444M1434 202.41H1444M1444 195.17V212.14M1439 195.17H1449M1439 212.14H1449M1449 216.64V241.09M1444 216.64H1454M1444 241.09H1454M1454 232.86V250.84M1449 232.86H1459M1449 250.84H1459M1459 216.72V248.65M1454 216.72H1464M1454 248.65H1464M1464 205.38V234.02M1459 205.38H1469M1459 234.02H1469M1469 227.61V243.87M1464 227.61H1474M1464 243.87H1474M1474 234.12V266.39M1469 234.12H1479M1469 266.39H1479M1479 214.17V226.75M1474 214.17H1484M1474 226.75H1484M1484 218.4V234.75M1479 218.4H1489M1479 234.75H1489M1489 208.75V226.07M1484 208.75H1494M1484 226.07H1494M1494 210.19V224.62M1489 210.19H1499M1489 224.62H1499M1499 219.64V233.51M1494 219.64H1504M1494 233.51H1504M1504 202.65V218.41M1499 202.65H1509M1499 218.41H1509M1509 226.74V238.63M1504 226.74H1514M1504 238.63H1514M1514 222.78V244.11M1509 222.78H1519M1509 244.11H1519M1519 214.68V226.24M1514 214.68H1524M1514 226.24H1524M1524 213.88V234.69M1519 213.88H1529M1519 234.69H1529M1529 223.16V236.1M1524 223.16H1534M1524 236.1H1534M1534 237.12V251.17M1529 237.12H1539M1529 251.17H1539M1539 215.18V230.33M1534 215.18H1544M1534 230.33H1544M1544 219.01V229.55M1539 219.01H1549M1539 229.55H1549M1549 221.45V233.23M1544 221.45H1554M1544 233.23H1554M1554 226.05V240.85M1549 226.05H1559M1549 240.85H1559M1559 213.3V229.15M1554 213.3H1564M1554 229.15H1564M1564 224.23V245.73M1559 224.23H1569M1559 245.73H1569M1569 209.74V232.71M1564 209.74H1574M1564 232.71H1574M1574 241.1V251.77M1569 241.1H1579M1569 251.77H1579M1579 247.07V264.13M1574 247.07H1584M1574 264.13H1584M1584 219.92V231.7M1579 219.92H1589M1579 231.7H1589M1589 179.58V212.46M1584 179.58H1594M1584 212.46H1594M1594 156.31V179.2M1589 156.31H1599M1589 179.2H1599M1599 148.86V183.6M1594 148.86H1604M1594 183.6H1604M1604 171.57V199.08M1599 171.57H1609M1599 199.08H1609M1609 164.47V183.26M1604 164.47H1614M1604 183.26H1614M1614 170.31V186.59M1609 170.31H1619M1609 186.59H1619M1619 171.6V192.94M1614 171.6H1624M1614 192.94H1624M1624 178.14V212.37M1619 178.14H1629M1619 212.37H1629M1629 175.68V194.97M1624 175.68H1634M1624 194.97H1634M1634 163.09V189.22M1629 163.09H1639M1629 189.22H1639M1639 169.55V193.46M1634 169.55H1644M1634 193.46H1644M1644 180.53V203.87M1639 180.53H1649M1639 203.87H1649M1649 195.64V228.48M1644 195.64H1654M1644 228.48H1654M1654 197.17V217.79M1649 197.17H1659M1649 217.79H1659M1659 180.46V211.57M1654 180.46H1664M1654 211.57H1664M1664 197.04V227.08M1659 197.04H1669M1659 227.08H1669M1669 182.79V218.41M1664 182.79H1674M1664 218.41H1674M1674 184.05V211.04M1669 184.05H1679M1669 211.04H1679M1679 169.2V204.51M1674 169.2H1684M1674 204.51H1684M1684 188.7V214.03M1679 188.7H1689M1679 214.03H1689M1689 220.93V249.02M1684 220.93H1694M1684 249.02H1694M1694 223.49V252.57M1689 223.49H1699M1689 252.57H1699M1699 219.69V253.32M1694 219.69H1704M1694 253.32H1704M1704 214.5V249.34M1699 214.5H1709M1699 249.34H1709M1709 205.83V224.4M1704 205.83H1714M1704 224.4H1714M1714 240.74V259.77M1709 240.74H1719M1709 259.77H1719M1719 234.09V251.14M1714 234.09H1724M1714 251.14H1724M1724 225.41V246.07M1719 225.41H1729M1719 246.07H1729M1729 234.09V251.14M1724 234.09H1734M1724 251.14H1734" fill="none" stroke="#fe0000" stroke-width="1.3" />
<polyline points="1254,237.27 1259,245.67 1264,233.45 1269,232.68 1274,234.98 1279,234.98 1284,235.74 1289,241.85 1294,240.32 1299,241.09 1304,244.91 1309,241.85 1314,233.45 1319,242.62 1324,244.91 1329,238.03 1334,244.91 1339,225.81 1344,219.7 1349,202.13 1354,205.95 1359,172.34 1364,171.57 1369,175.39 1374,179.21 1379,171.57 1384,180.74 1389,162.41 1394,158.59 1399,184.56 1404,189.91 1409,200.6 1414,196.78 1419,189.14 1424,206.71 1429,206.71 1434,209.77 1439,190.67 1444,203.66 1449,228.87 1454,241.85 1459,232.68 1464,219.7 1469,235.74 1474,250.25 1479,220.46 1484,226.57 1489,217.41 1494,217.41 1499,226.57 1504,210.53 1509,232.68 1514,233.45 1519,220.46 1524,224.28 1529,229.63 1534,244.14 1539,222.75 1544,224.28 1549,227.34 1554,233.45 1559,221.23 1564,234.98 1569,221.23 1574,246.43 1579,255.6 1584,225.81 1589,196.02 1594,167.76 1599,166.23 1604,185.32 1609,173.87 1614,178.45 1619,182.27 1624,195.25 1629,185.32 1634,176.16 1639,181.51 1644,192.2 1649,212.06 1654,207.48 1659,196.02 1664,212.06 1669,200.6 1674,197.55 1679,186.85 1684,201.37 1689,234.98 1694,238.03 1699,236.5 1704,231.92 1709,215.12 1714,250.25 1719,242.62 1724,235.74 1729,242.62" fill="none" stroke="#fe0000" stroke-width="1.5" stroke-linejoin="round" />
<path d="M1249.7 232.97h8.6v8.6h-8.6zM1254.7 241.37h8.6v8.6h-8.6zM1259.7 229.15h8.6v8.6h-8.6zM1264.7 228.38h8.6v8.6h-8.6zM1269.7 230.68h8.6v8.6h-8.6zM1274.7 230.68h8.6v8.6h-8.6zM1279.7 231.44h8.6v8.6h-8.6zM1284.7 237.55h8.6v8.6h-8.6zM1289.7 236.02h8.6v8.6h-8.6zM1294.7 236.79h8.6v8.6h-8.6zM1299.7 240.61h8.6v8.6h-8.6zM1304.7 237.55h8.6v8.6h-8.6zM1309.7 229.15h8.6v8.6h-8.6zM1314.7 238.32h8.6v8.6h-8.6zM1319.7 240.61h8.6v8.6h-8.6zM1324.7 233.73h8.6v8.6h-8.6zM1329.7 240.61h8.6v8.6h-8.6zM1334.7 221.51h8.6v8.6h-8.6zM1339.7 215.4h8.6v8.6h-8.6zM1344.7 197.83h8.6v8.6h-8.6zM1349.7 201.65h8.6v8.6h-8.6zM1354.7 168.04h8.6v8.6h-8.6zM1359.7 167.27h8.6v8.6h-8.6zM1364.7 171.09h8.6v8.6h-8.6zM1369.7 174.91h8.6v8.6h-8.6zM1374.7 167.27h8.6v8.6h-8.6zM1379.7 176.44h8.6v8.6h-8.6zM1384.7 158.11h8.6v8.6h-8.6zM1389.7 154.29h8.6v8.6h-8.6zM1394.7 180.26h8.6v8.6h-8.6zM1399.7 185.61h8.6v8.6h-8.6zM1404.7 196.3h8.6v8.6h-8.6zM1409.7 192.48h8.6v8.6h-8.6zM1414.7 184.84h8.6v8.6h-8.6zM1419.7 202.41h8.6v8.6h-8.6zM1424.7 202.41h8.6v8.6h-8.6zM1429.7 205.47h8.6v8.6h-8.6zM1434.7 186.37h8.6v8.6h-8.6zM1439.7 199.36h8.6v8.6h-8.6zM1444.7 224.57h8.6v8.6h-8.6zM1449.7 237.55h8.6v8.6h-8.6zM1454.7 228.38h8.6v8.6h-8.6zM1459.7 215.4h8.6v8.6h-8.6zM1464.7 231.44h8.6v8.6h-8.6zM1469.7 245.95h8.6v8.6h-8.6zM1474.7 216.16h8.6v8.6h-8.6zM1479.7 222.27h8.6v8.6h-8.6zM1484.7 213.11h8.6v8.6h-8.6zM1489.7 213.11h8.6v8.6h-8.6zM1494.7 222.27h8.6v8.6h-8.6zM1499.7 206.23h8.6v8.6h-8.6zM1504.7 228.38h8.6v8.6h-8.6zM1509.7 229.15h8.6v8.6h-8.6zM1514.7 216.16h8.6v8.6h-8.6zM1519.7 219.98h8.6v8.6h-8.6zM1524.7 225.33h8.6v8.6h-8.6zM1529.7 239.84h8.6v8.6h-8.6zM1534.7 218.45h8.6v8.6h-8.6zM1539.7 219.98h8.6v8.6h-8.6zM1544.7 223.04h8.6v8.6h-8.6zM1549.7 229.15h8.6v8.6h-8.6zM1554.7 216.93h8.6v8.6h-8.6zM1559.7 230.68h8.6v8.6h-8.6zM1564.7 216.93h8.6v8.6h-8.6zM1569.7 242.13h8.6v8.6h-8.6zM1574.7 251.3h8.6v8.6h-8.6zM1579.7 221.51h8.6v8.6h-8.6zM1584.7 191.72h8.6v8.6h-8.6zM1589.7 163.46h8.6v8.6h-8.6zM1594.7 161.93h8.6v8.6h-8.6zM1599.7 181.02h8.6v8.6h-8.6zM1604.7 169.57h8.6v8.6h-8.6zM1609.7 174.15h8.6v8.6h-8.6zM1614.7 177.97h8.6v8.6h-8.6zM1619.7 190.95h8.6v8.6h-8.6zM1624.7 181.02h8.6v8.6h-8.6zM1629.7 171.86h8.6v8.6h-8.6zM1634.7 177.21h8.6v8.6h-8.6zM1639.7 187.9h8.6v8.6h-8.6zM1644.7 207.76h8.6v8.6h-8.6zM1649.7 203.18h8.6v8.6h-8.6zM1654.7 191.72h8.6v8.6h-8.6zM1659.7 207.76h8.6v8.6h-8.6zM1664.7 196.3h8.6v8.6h-8.6zM1669.7 193.25h8.6v8.6h-8.6zM1674.7 182.55h8.6v8.6h-8.6zM1679.7 197.07h8.6v8.6h-8.6zM1684.7 230.68h8.6v8.6h-8.6zM1689.7 233.73h8.6v8.6h-8.6zM1694.7 232.2h8.6v8.6h-8.6zM1699.7 227.62h8.6v8.6h-8.6zM1704.7 210.82h8.6v8.6h-8.6zM1709.7 245.95h8.6v8.6h-8.6zM1714.7 238.32h8.6v8.6h-8.6zM1719.7 231.44h8.6v8.6h-8.6zM1724.7 238.32h8.6v8.6h-8.6z" fill="#fe0000"/>
<text x="1201.42" y="386.15"  font-size="23" font-weight="bold" >100</text>
<text x="1201.42" y="313.95"  font-size="23" font-weight="bold" >150</text>
<text x="1201.42" y="241.75"  font-size="23" font-weight="bold" >200</text>
<text x="1201.42" y="169.55"  font-size="23" font-weight="bold" >250</text>
<text x="1201.42" y="97.35"  font-size="23" font-weight="bold" >300</text>
<text x="1246.46" y="419"  font-size="32.33" textLength="16.96" lengthAdjust="spacingAndGlyphs" >0</text>
<text x="1303.58" y="419"  font-size="32.33" textLength="16.96" lengthAdjust="spacingAndGlyphs" >6</text>
<text x="1345.69" y="419"  font-size="32.33" textLength="33.93" lengthAdjust="spacingAndGlyphs" >12</text>
<text x="1404.14" y="419"  font-size="32.33" textLength="33.93" lengthAdjust="spacingAndGlyphs" >18</text>
<text x="1468.97" y="419"  font-size="32.33" textLength="33.93" lengthAdjust="spacingAndGlyphs" >24</text>
<text x="1527" y="419"  font-size="32.33" textLength="33.93" lengthAdjust="spacingAndGlyphs" >30</text>
<text x="1592.27" y="419"  font-size="32.33" textLength="33.93" lengthAdjust="spacingAndGlyphs" >36</text>
<text x="1650.83" y="419"  font-size="32.33" textLength="33.93" lengthAdjust="spacingAndGlyphs" >42</text>
<text x="1708.88" y="419"  font-size="32.33" textLength="33.93" lengthAdjust="spacingAndGlyphs" >48</text>
<text x="1137.05" y="33.1"  font-size="48.7" textLength="28.8" lengthAdjust="spacingAndGlyphs" >B</text>
<text x="1429.17" y="49.3"  font-size="29.91" font-weight="bold" textLength="126.98" lengthAdjust="spacingAndGlyphs" >Heat HFD</text>
<text x="1606.16" y="114.2"  font-size="25" fill="#111" textLength="86.56" lengthAdjust="spacingAndGlyphs" >P&lt;0.001</text>
<text x="0" y="0" transform="translate(1186.4,423.48) rotate(-90)" font-size="28.96" font-weight="bold" textLength="378.84" lengthAdjust="spacingAndGlyphs" >Kcal/day/Kg Body mass^0.75</text>
<text x="1408.4" y="446.7"  font-size="31.72" textLength="173.44" lengthAdjust="spacingAndGlyphs" >Time (Hours)</text>
<line x1="1630.6" y1="21.1" x2="1662" y2="21.1" stroke="#222" stroke-width="1.5" />
<circle cx="1646.3" cy="21.1" r="4.3" fill="#000"/>
<text x="1679" y="28.5"  font-size="23" >WT</text>
<line x1="1630.6" y1="61.5" x2="1662" y2="61.5" stroke="#fe0000" stroke-width="1.5" />
<rect x="1642" y="57.2" width="8.6" height="8.6" fill="#fe0000" />
<text x="1679" y="69.5"  font-size="23" >KO</text>
<rect x="1168" y="535.2" width="121.5" height="301.4" fill="#a1a0a5" />
<rect x="1411.9" y="535" width="123.9" height="301.6" fill="#a1a0a5" />
<line x1="1068.4" y1="541.4" x2="1068.4" y2="840.6" stroke="#000" stroke-width="4.4" />
<line x1="1052" y1="838.4" x2="1555.4" y2="838.4" stroke="#000" stroke-width="4.4" />
<line x1="1052" y1="838.4" x2="1068.4" y2="838.4" stroke="#000" stroke-width="4.4" />
<line x1="1052" y1="764.7" x2="1068.4" y2="764.7" stroke="#000" stroke-width="4.4" />
<line x1="1052" y1="691" x2="1068.4" y2="691" stroke="#000" stroke-width="4.4" />
<line x1="1052" y1="617.3" x2="1068.4" y2="617.3" stroke="#000" stroke-width="4.4" />
<line x1="1052" y1="543.6" x2="1068.4" y2="543.6" stroke="#000" stroke-width="4.4" />
<line x1="1123.98" y1="838.4" x2="1123.98" y2="852.9" stroke="#000" stroke-width="4.4" />
<line x1="1185.36" y1="838.4" x2="1185.36" y2="852.9" stroke="#000" stroke-width="4.4" />
<line x1="1246.74" y1="838.4" x2="1246.74" y2="852.9" stroke="#000" stroke-width="4.4" />
<line x1="1308.12" y1="838.4" x2="1308.12" y2="852.9" stroke="#000" stroke-width="4.4" />
<line x1="1369.5" y1="838.4" x2="1369.5" y2="852.9" stroke="#000" stroke-width="4.4" />
<line x1="1430.88" y1="838.4" x2="1430.88" y2="852.9" stroke="#000" stroke-width="4.4" />
<line x1="1492.26" y1="838.4" x2="1492.26" y2="852.9" stroke="#000" stroke-width="4.4" />
<line x1="1553.64" y1="838.4" x2="1553.64" y2="852.9" stroke="#000" stroke-width="4.4" />
<path d="M1067.71 700.53V713.9M1062.71 700.53H1072.71M1062.71 713.9H1072.71M1072.83 699.09V721.24M1067.83 699.09H1077.83M1067.83 721.24H1077.83M1077.94 715.67V737.08M1072.94 715.67H1082.94M1072.94 737.08H1082.94M1083.06 712.08V737.73M1078.06 712.08H1088.06M1078.06 737.73H1088.06M1088.17 728.8V744.59M1083.17 728.8H1093.17M1083.17 744.59H1093.17M1093.29 731.86V747.42M1088.29 731.86H1098.29M1088.29 747.42H1098.29M1098.4 715.07V737.68M1093.4 715.07H1103.4M1093.4 737.68H1103.4M1103.52 699.41V720.91M1098.52 699.41H1108.52M1098.52 720.91H1108.52M1108.63 686.56V702.81M1103.63 686.56H1113.63M1103.63 702.81H1113.63M1113.75 691.85V713.73M1108.75 691.85H1118.75M1108.75 713.73H1118.75M1118.87 708.71V726.35M1113.87 708.71H1123.87M1113.87 726.35H1123.87M1123.98 702.96V726.21M1118.98 702.96H1128.98M1118.98 726.21H1128.98M1129.09 690.13V703.66M1124.09 690.13H1134.09M1124.09 703.66H1134.09M1134.21 683.46V698.54M1129.21 683.46H1139.21M1129.21 698.54H1139.21M1139.32 681.41V706.49M1134.32 681.41H1144.32M1134.32 706.49H1144.32M1144.44 701.63V718.7M1139.44 701.63H1149.44M1139.44 718.7H1149.44M1149.55 686.13V701.76M1144.55 686.13H1154.55M1144.55 701.76H1154.55M1154.67 695.39V719.04M1149.67 695.39H1159.67M1149.67 719.04H1159.67M1159.78 714.35V735.45M1154.78 714.35H1164.78M1154.78 735.45H1164.78M1164.9 706.11V720.11M1159.9 706.11H1169.9M1159.9 720.11H1169.9M1170.01 704.62V724.54M1165.01 704.62H1175.01M1165.01 724.54H1175.01M1175.13 715.59V737.17M1170.13 715.59H1180.13M1170.13 737.17H1180.13M1180.24 711.89V726.12M1175.24 711.89H1185.24M1175.24 726.12H1185.24M1185.36 697.99V719.39M1180.36 697.99H1190.36M1180.36 719.39H1190.36M1190.47 719.57V733.18M1185.47 719.57H1195.47M1185.47 733.18H1195.47M1195.59 709.15V725.91M1190.59 709.15H1200.59M1190.59 725.91H1200.59M1200.7 715.44V728.46M1195.7 715.44H1205.7M1195.7 728.46H1205.7M1205.82 701.29V716.09M1200.82 701.29H1210.82M1200.82 716.09H1210.82M1210.93 708.85V735.06M1205.93 708.85H1215.93M1205.93 735.06H1215.93M1216.05 730.77V748.51M1211.05 730.77H1221.05M1211.05 748.51H1221.05M1221.16 692.54V718.94M1216.16 692.54H1226.16M1216.16 718.94H1226.16M1226.28 696.61V714.87M1221.28 696.61H1231.28M1221.28 714.87H1231.28M1231.39 724.85V745.59M1226.39 724.85H1236.39M1226.39 745.59H1236.39M1236.51 727.31V751.97M1231.51 727.31H1241.51M1231.51 751.97H1241.51M1241.62 733.11V755.02M1236.62 733.11H1246.62M1236.62 755.02H1246.62M1246.74 743.24V756.68M1241.74 743.24H1251.74M1241.74 756.68H1251.74M1251.86 723.51V743.98M1246.86 723.51H1256.86M1246.86 743.98H1256.86M1256.97 721.71V742.84M1251.97 721.71H1261.97M1251.97 742.84H1261.97M1262.09 723.57V738.03M1257.09 723.57H1267.09M1257.09 738.03H1267.09M1267.2 710.94V724.13M1262.2 710.94H1272.2M1262.2 724.13H1272.2M1272.31 742.04V766.73M1267.31 742.04H1277.31M1267.31 766.73H1277.31M1277.43 712.27V731.64M1272.43 712.27H1282.43M1272.43 731.64H1282.43M1282.54 742.64V757.28M1277.54 742.64H1287.54M1277.54 757.28H1287.54M1287.66 733.36V751.82M1282.66 733.36H1292.66M1282.66 751.82H1292.66M1292.77 717.4V732.41M1287.77 717.4H1297.77M1287.77 732.41H1297.77M1297.89 714.6V738.16M1292.89 714.6H1302.89M1292.89 738.16H1302.89M1303 721.21V740.38M1298 721.21H1308M1298 740.38H1308M1308.12 703.51V716.81M1303.12 703.51H1313.12M1303.12 716.81H1313.12M1313.23 701.18V725.04M1308.23 701.18H1318.23M1308.23 725.04H1318.23M1318.35 695.2V708.32M1313.35 695.2H1323.35M1313.35 708.32H1323.35M1323.46 717.53V733.46M1318.46 717.53H1328.46M1318.46 733.46H1328.46M1328.58 723.66V735.87M1323.58 723.66H1333.58M1323.58 735.87H1333.58M1333.69 723.13V745.84M1328.69 723.13H1338.69M1328.69 745.84H1338.69M1338.81 712.27V725.74M1333.81 712.27H1343.81M1333.81 725.74H1343.81M1343.92 720V739.54M1338.92 720H1348.92M1338.92 739.54H1348.92M1349.04 701.37V714.53M1344.04 701.37H1354.04M1344.04 714.53H1354.04M1354.15 684.51V703.38M1349.15 684.51H1359.15M1349.15 703.38H1359.15M1359.27 668.26V690.16M1354.27 668.26H1364.27M1354.27 690.16H1364.27M1364.38 672.32V691.99M1359.38 672.32H1369.38M1359.38 691.99H1369.38M1369.5 664.06V682.56M1364.5 664.06H1374.5M1364.5 682.56H1374.5M1374.61 694.8V713.74M1369.61 694.8H1379.61M1369.61 713.74H1379.61M1379.73 665.67V683.9M1374.73 665.67H1384.73M1374.73 683.9H1384.73M1384.84 652.71V673.28M1379.84 652.71H1389.84M1379.84 673.28H1389.84M1389.96 665.98V679.17M1384.96 665.98H1394.96M1384.96 679.17H1394.96M1395.07 680.87V699.66M1390.07 680.87H1400.07M1390.07 699.66H1400.07M1400.19 673.04V688.32M1395.19 673.04H1405.19M1395.19 688.32H1405.19M1405.3 699.36V723.91M1400.3 699.36H1410.3M1400.3 723.91H1410.3M1410.42 685.55V711.19M1405.42 685.55H1415.42M1405.42 711.19H1415.42M1415.53 701.57V714.34M1410.53 701.57H1420.53M1410.53 714.34H1420.53M1420.65 712.05V725.96M1415.65 712.05H1425.65M1415.65 725.96H1425.65M1425.76 702.03V724.19M1420.76 702.03H1430.76M1420.76 724.19H1430.76M1430.88 691.65V711.87M1425.88 691.65H1435.88M1425.88 711.87H1435.88M1435.99 704.86V716.94M1430.99 704.86H1440.99M1430.99 716.94H1440.99M1441.11 691.7V713.88M1436.11 691.7H1446.11M1436.11 713.88H1446.11M1446.22 697.31V723.01M1441.22 697.31H1451.22M1441.22 723.01H1451.22M1451.34 702.62V720.65M1446.34 702.62H1456.34M1446.34 720.65H1456.34M1456.45 710.55V727.46M1451.45 710.55H1461.45M1451.45 727.46H1461.45M1461.57 686.8V706.99M1456.57 686.8H1466.57M1456.57 706.99H1466.57M1466.68 656.07V681.71M1461.68 656.07H1471.68M1461.68 681.71H1471.68M1471.8 679.48V695.15M1466.8 679.48H1476.8M1466.8 695.15H1476.8M1476.91 699.83V716.07M1471.91 699.83H1481.91M1471.91 716.07H1481.91M1482.03 712.46V727.03M1477.03 712.46H1487.03M1477.03 727.03H1487.03M1487.14 710.69V731.74M1482.14 710.69H1492.14M1482.14 731.74H1492.14M1492.26 733.53V752.24M1487.26 733.53H1497.26M1487.26 752.24H1497.26M1497.38 735.84V751.41M1492.38 735.84H1502.38M1492.38 751.41H1502.38M1502.49 725.73V743.24M1497.49 725.73H1507.49M1497.49 743.24H1507.49M1507.61 724.35V736.66M1502.61 724.35H1512.61M1502.61 736.66H1512.61M1512.72 694.59V710.99M1507.72 694.59H1517.72M1507.72 710.99H1517.72M1517.84 688.18V714.46M1512.84 688.18H1522.84M1512.84 714.46H1522.84M1522.95 677.84V698.27M1517.95 677.84H1527.95M1517.95 698.27H1527.95M1528.07 680.07V696.03M1523.07 680.07H1533.07M1523.07 696.03H1533.07M1533.18 701.79V727.38M1528.18 701.79H1538.18M1528.18 727.38H1538.18M1538.29 721.23V738.3M1533.29 721.23H1543.29M1533.29 738.3H1543.29M1543.41 690.18V705.68M1538.41 690.18H1548.41M1538.41 705.68H1548.41M1548.52 695.16V707.47M1543.52 695.16H1553.52M1543.52 707.47H1553.52M1553.64 703.19V717.14M1548.64 703.19H1558.64M1548.64 717.14H1558.64" fill="none" stroke="#4d4d4d" stroke-width="1.3" />
<polyline points="1067.71,707.21 1072.83,710.16 1077.94,726.38 1083.06,724.9 1088.17,736.69 1093.29,739.64 1098.4,726.38 1103.52,710.16 1108.63,694.68 1113.75,702.79 1118.87,717.53 1123.98,714.58 1129.09,696.9 1134.21,691 1139.32,693.95 1144.44,710.16 1149.55,693.95 1154.67,707.21 1159.78,724.9 1164.9,713.11 1170.01,714.58 1175.13,726.38 1180.24,719.01 1185.36,708.69 1190.47,726.38 1195.59,717.53 1200.7,721.95 1205.82,708.69 1210.93,721.95 1216.05,739.64 1221.16,705.74 1226.28,705.74 1231.39,735.22 1236.51,739.64 1241.62,744.06 1246.74,749.96 1251.86,733.75 1256.97,732.27 1262.09,730.8 1267.2,717.53 1272.31,754.38 1277.43,721.95 1282.54,749.96 1287.66,742.59 1292.77,724.9 1297.89,726.38 1303,730.8 1308.12,710.16 1313.23,713.11 1318.35,701.76 1323.46,725.49 1328.58,729.77 1333.69,734.48 1338.81,719.01 1343.92,729.77 1349.04,707.95 1354.15,693.95 1359.27,679.21 1364.38,682.16 1369.5,673.31 1374.61,704.27 1379.73,674.79 1384.84,662.99 1389.96,672.58 1395.07,690.26 1400.19,680.68 1405.3,711.64 1410.42,698.37 1415.53,707.95 1420.65,719.01 1425.76,713.11 1430.88,701.76 1435.99,710.9 1441.11,702.79 1446.22,710.16 1451.34,711.64 1456.45,719.01 1461.57,696.9 1466.68,668.89 1471.8,687.32 1476.91,707.95 1482.03,719.74 1487.14,721.22 1492.26,742.88 1497.38,743.62 1502.49,734.48 1507.61,730.5 1512.72,702.79 1517.84,701.32 1522.95,688.05 1528.07,688.05 1533.18,714.58 1538.29,729.77 1543.41,697.93 1548.52,701.32 1553.64,710.16" fill="none" stroke="#000" stroke-width="1.5" stroke-linejoin="round" />
<circle cx="1067.71" cy="707.21" r="4.3" fill="#000"/>
<circle cx="1072.83" cy="710.16" r="4.3" fill="#000"/>
<circle cx="1077.94" cy="726.38" r="4.3" fill="#000"/>
<circle cx="1083.06" cy="724.9" r="4.3" fill="#000"/>
<circle cx="1088.17" cy="736.69" r="4.3" fill="#000"/>
<circle cx="1093.29" cy="739.64" r="4.3" fill="#000"/>
<circle cx="1098.4" cy="726.38" r="4.3" fill="#000"/>
<circle cx="1103.52" cy="710.16" r="4.3" fill="#000"/>
<circle cx="1108.63" cy="694.68" r="4.3" fill="#000"/>
<circle cx="1113.75" cy="702.79" r="4.3" fill="#000"/>
<circle cx="1118.87" cy="717.53" r="4.3" fill="#000"/>
<circle cx="1123.98" cy="714.58" r="4.3" fill="#000"/>
<circle cx="1129.09" cy="696.9" r="4.3" fill="#000"/>
<circle cx="1134.21" cy="691" r="4.3" fill="#000"/>
<circle cx="1139.32" cy="693.95" r="4.3" fill="#000"/>
<circle cx="1144.44" cy="710.16" r="4.3" fill="#000"/>
<circle cx="1149.55" cy="693.95" r="4.3" fill="#000"/>
<circle cx="1154.67" cy="707.21" r="4.3" fill="#000"/>
<circle cx="1159.78" cy="724.9" r="4.3" fill="#000"/>
<circle cx="1164.9" cy="713.11" r="4.3" fill="#000"/>
<circle cx="1170.01" cy="714.58" r="4.3" fill="#000"/>
<circle cx="1175.13" cy="726.38" r="4.3" fill="#000"/>
<circle cx="1180.24" cy="719.01" r="4.3" fill="#000"/>
<circle cx="1185.36" cy="708.69" r="4.3" fill="#000"/>
<circle cx="1190.47" cy="726.38" r="4.3" fill="#000"/>
<circle cx="1195.59" cy="717.53" r="4.3" fill="#000"/>
<circle cx="1200.7" cy="721.95" r="4.3" fill="#000"/>
<circle cx="1205.82" cy="708.69" r="4.3" fill="#000"/>
<circle cx="1210.93" cy="721.95" r="4.3" fill="#000"/>
<circle cx="1216.05" cy="739.64" r="4.3" fill="#000"/>
<circle cx="1221.16" cy="705.74" r="4.3" fill="#000"/>
<circle cx="1226.28" cy="705.74" r="4.3" fill="#000"/>
<circle cx="1231.39" cy="735.22" r="4.3" fill="#000"/>
<circle cx="1236.51" cy="739.64" r="4.3" fill="#000"/>
<circle cx="1241.62" cy="744.06" r="4.3" fill="#000"/>
<circle cx="1246.74" cy="749.96" r="4.3" fill="#000"/>
<circle cx="1251.86" cy="733.75" r="4.3" fill="#000"/>
<circle cx="1256.97" cy="732.27" r="4.3" fill="#000"/>
<circle cx="1262.09" cy="730.8" r="4.3" fill="#000"/>
<circle cx="1267.2" cy="717.53" r="4.3" fill="#000"/>
<circle cx="1272.31" cy="754.38" r="4.3" fill="#000"/>
<circle cx="1277.43" cy="721.95" r="4.3" fill="#000"/>
<circle cx="1282.54" cy="749.96" r="4.3" fill="#000"/>
<circle cx="1287.66" cy="742.59" r="4.3" fill="#000"/>
<circle cx="1292.77" cy="724.9" r="4.3" fill="#000"/>
<circle cx="1297.89" cy="726.38" r="4.3" fill="#000"/>
<circle cx="1303" cy="730.8" r="4.3" fill="#000"/>
<circle cx="1308.12" cy="710.16" r="4.3" fill="#000"/>
<circle cx="1313.23" cy="713.11" r="4.3" fill="#000"/>
<circle cx="1318.35" cy="701.76" r="4.3" fill="#000"/>
<circle cx="1323.46" cy="725.49" r="4.3" fill="#000"/>
<circle cx="1328.58" cy="729.77" r="4.3" fill="#000"/>
<circle cx="1333.69" cy="734.48" r="4.3" fill="#000"/>
<circle cx="1338.81" cy="719.01" r="4.3" fill="#000"/>
<circle cx="1343.92" cy="729.77" r="4.3" fill="#000"/>
<circle cx="1349.04" cy="707.95" r="4.3" fill="#000"/>
<circle cx="1354.15" cy="693.95" r="4.3" fill="#000"/>
<circle cx="1359.27" cy="679.21" r="4.3" fill="#000"/>
<circle cx="1364.38" cy="682.16" r="4.3" fill="#000"/>
<circle cx="1369.5" cy="673.31" r="4.3" fill="#000"/>
<circle cx="1374.61" cy="704.27" r="4.3" fill="#000"/>
<circle cx="1379.73" cy="674.79" r="4.3" fill="#000"/>
<circle cx="1384.84" cy="662.99" r="4.3" fill="#000"/>
<circle cx="1389.96" cy="672.58" r="4.3" fill="#000"/>
<circle cx="1395.07" cy="690.26" r="4.3" fill="#000"/>
<circle cx="1400.19" cy="680.68" r="4.3" fill="#000"/>
<circle cx="1405.3" cy="711.64" r="4.3" fill="#000"/>
<circle cx="1410.42" cy="698.37" r="4.3" fill="#000"/>
<circle cx="1415.53" cy="707.95" r="4.3" fill="#000"/>
<circle cx="1420.65" cy="719.01" r="4.3" fill="#000"/>
<circle cx="1425.76" cy="713.11" r="4.3" fill="#000"/>
<circle cx="1430.88" cy="701.76" r="4.3" fill="#000"/>
<circle cx="1435.99" cy="710.9" r="4.3" fill="#000"/>
<circle cx="1441.11" cy="702.79" r="4.3" fill="#000"/>
<circle cx="1446.22" cy="710.16" r="4.3" fill="#000"/>
<circle cx="1451.34" cy="711.64" r="4.3" fill="#000"/>
<circle cx="1456.45" cy="719.01" r="4.3" fill="#000"/>
<circle cx="1461.57" cy="696.9" r="4.3" fill="#000"/>
<circle cx="1466.68" cy="668.89" r="4.3" fill="#000"/>
<circle cx="1471.8" cy="687.32" r="4.3" fill="#000"/>
<circle cx="1476.91" cy="707.95" r="4.3" fill="#000"/>
<circle cx="1482.03" cy="719.74" r="4.3" fill="#000"/>
<circle cx="1487.14" cy="721.22" r="4.3" fill="#000"/>
<circle cx="1492.26" cy="742.88" r="4.3" fill="#000"/>
<circle cx="1497.38" cy="743.62" r="4.3" fill="#000"/>
<circle cx="1502.49" cy="734.48" r="4.3" fill="#000"/>
<circle cx="1507.61" cy="730.5" r="4.3" fill="#000"/>
<circle cx="1512.72" cy="702.79" r="4.3" fill="#000"/>
<circle cx="1517.84" cy="701.32" r="4.3" fill="#000"/>
<circle cx="1522.95" cy="688.05" r="4.3" fill="#000"/>
<circle cx="1528.07" cy="688.05" r="4.3" fill="#000"/>
<circle cx="1533.18" cy="714.58" r="4.3" fill="#000"/>
<circle cx="1538.29" cy="729.77" r="4.3" fill="#000"/>
<circle cx="1543.41" cy="697.93" r="4.3" fill="#000"/>
<circle cx="1548.52" cy="701.32" r="4.3" fill="#000"/>
<circle cx="1553.64" cy="710.16" r="4.3" fill="#000"/>
<path d="M1067.71 644.28V659.6M1062.71 644.28H1072.71M1062.71 659.6H1072.71M1072.83 647.69V663.55M1067.83 647.69H1077.83M1067.83 663.55H1077.83M1077.94 658.22V685.45M1072.94 658.22H1082.94M1072.94 685.45H1082.94M1083.06 665.08V681.55M1078.06 665.08H1088.06M1078.06 681.55H1088.06M1088.17 675.54V691.72M1083.17 675.54H1093.17M1083.17 691.72H1093.17M1093.29 675.34V697.82M1088.29 675.34H1098.29M1088.29 697.82H1098.29M1098.4 659.3V687.32M1093.4 659.3H1103.4M1093.4 687.32H1103.4M1103.52 647.15V664.1M1098.52 647.15H1108.52M1098.52 664.1H1108.52M1108.63 628.25V653.52M1103.63 628.25H1113.63M1103.63 653.52H1113.63M1113.75 639.1V657.41M1108.75 639.1H1118.75M1108.75 657.41H1118.75M1118.87 650.66V672.38M1113.87 650.66H1123.87M1113.87 672.38H1123.87M1123.98 648.88V671.21M1118.98 648.88H1128.98M1118.98 671.21H1128.98M1129.09 626.65V655.11M1124.09 626.65H1134.09M1124.09 655.11H1134.09M1134.21 623.87V649.06M1129.21 623.87H1139.21M1129.21 649.06H1139.21M1139.32 627.55V648.33M1134.32 627.55H1144.32M1134.32 648.33H1144.32M1144.44 643.76V670.44M1139.44 643.76H1149.44M1139.44 670.44H1149.44M1149.55 628.8V647.07M1144.55 628.8H1154.55M1144.55 647.07H1154.55M1154.67 641.91V660.5M1149.67 641.91H1159.67M1149.67 660.5H1159.67M1159.78 657.45V686.22M1154.78 657.45H1164.78M1154.78 686.22H1164.78M1164.9 647.85V669.3M1159.9 647.85H1169.9M1159.9 669.3H1169.9M1170.01 647.31V672.78M1165.01 647.31H1175.01M1165.01 672.78H1175.01M1175.13 663.16V680.51M1170.13 663.16H1180.13M1170.13 680.51H1180.13M1180.24 651.95V679.93M1175.24 651.95H1185.24M1175.24 679.93H1185.24M1185.36 642.83V665.47M1180.36 642.83H1190.36M1180.36 665.47H1190.36M1190.47 663.75V679.92M1185.47 663.75H1195.47M1185.47 679.92H1195.47M1195.59 650.31V678.62M1190.59 650.31H1200.59M1190.59 678.62H1200.59M1200.7 658.85V678.93M1195.7 658.85H1205.7M1195.7 678.93H1205.7M1205.82 645.25V663.05M1200.82 645.25H1210.82M1200.82 663.05H1210.82M1210.93 662.14V678.58M1205.93 662.14H1215.93M1205.93 678.58H1215.93M1216.05 679.77V693.39M1211.05 679.77H1221.05M1211.05 693.39H1221.05M1221.16 643.53V658.87M1216.16 643.53H1226.16M1216.16 658.87H1226.16M1226.28 639.18V663.22M1221.28 639.18H1231.28M1221.28 663.22H1231.28M1231.39 675.02V689.3M1226.39 675.02H1236.39M1226.39 689.3H1236.39M1236.51 676.92V693.29M1231.51 676.92H1241.51M1231.51 693.29H1241.51M1241.62 681.15V700.85M1236.62 681.15H1246.62M1236.62 700.85H1246.62M1246.74 686.18V707.61M1241.74 686.18H1251.74M1241.74 707.61H1251.74M1251.86 672.89V691.42M1246.86 672.89H1256.86M1246.86 691.42H1256.86M1256.97 666.37V692.05M1251.97 666.37H1261.97M1251.97 692.05H1261.97M1262.09 668.09V684.43M1257.09 668.09H1267.09M1257.09 684.43H1267.09M1267.2 653.84V672.15M1262.2 653.84H1272.2M1262.2 672.15H1272.2M1272.31 693.87V713.18M1267.31 693.87H1277.31M1267.31 713.18H1277.31M1277.43 661.85V675.93M1272.43 661.85H1282.43M1272.43 675.93H1282.43M1282.54 689.03V704.76M1277.54 689.03H1287.54M1277.54 704.76H1287.54M1287.66 683.81V698.19M1282.66 683.81H1292.66M1282.66 698.19H1292.66M1292.77 659.53V684.15M1287.77 659.53H1297.77M1287.77 684.15H1297.77M1297.89 666.12V680.5M1292.89 666.12H1302.89M1292.89 680.5H1302.89M1303 664.46V688.06M1298 664.46H1308M1298 688.06H1308M1308.12 647.76V663.48M1303.12 647.76H1313.12M1303.12 663.48H1313.12M1313.23 646.07V669.31M1308.23 646.07H1318.23M1308.23 669.31H1318.23M1318.35 635.08V658.48M1313.35 635.08H1323.35M1313.35 658.48H1323.35M1323.46 662.23V680.27M1318.46 662.23H1328.46M1318.46 680.27H1328.46M1328.58 660.93V689.23M1323.58 660.93H1333.58M1323.58 689.23H1333.58M1333.69 668.83V692.24M1328.69 668.83H1338.69M1328.69 692.24H1338.69M1338.81 654.23V675.88M1333.81 654.23H1343.81M1333.81 675.88H1343.81M1343.92 669.95V682.57M1338.92 669.95H1348.92M1338.92 682.57H1348.92M1349.04 644.22V663.2M1344.04 644.22H1354.04M1344.04 663.2H1354.04M1354.15 629.98V646.48M1349.15 629.98H1359.15M1349.15 646.48H1359.15M1359.27 613.44V633.54M1354.27 613.44H1364.27M1354.27 633.54H1364.27M1364.38 611.7V640M1359.38 611.7H1369.38M1359.38 640H1369.38M1369.5 603.76V630.84M1364.5 603.76H1374.5M1364.5 630.84H1374.5M1374.61 643.28V656.17M1369.61 643.28H1379.61M1369.61 656.17H1379.61M1379.73 606.86V630.69M1374.73 606.86H1384.73M1374.73 630.69H1384.73M1384.84 592.38V620.7M1379.84 592.38H1389.84M1379.84 620.7H1389.84M1389.96 605.87V627.26M1384.96 605.87H1394.96M1384.96 627.26H1394.96M1395.07 626.76V640.27M1390.07 626.76H1400.07M1390.07 640.27H1400.07M1400.19 611.55V638.67M1395.19 611.55H1405.19M1395.19 638.67H1405.19M1405.3 648.02V667.35M1400.3 648.02H1410.3M1400.3 667.35H1410.3M1410.42 629.85V658.99M1405.42 629.85H1415.42M1405.42 658.99H1415.42M1415.53 639.34V666.6M1410.53 639.34H1420.53M1410.53 666.6H1420.53M1420.65 649.77V676.22M1415.65 649.77H1425.65M1415.65 676.22H1425.65M1425.76 645.03V673.29M1420.76 645.03H1430.76M1420.76 673.29H1430.76M1430.88 640.28V653.28M1425.88 640.28H1435.88M1425.88 653.28H1435.88M1435.99 642.41V668.25M1430.99 642.41H1440.99M1430.99 668.25H1440.99M1441.11 638.18V655.38M1436.11 638.18H1446.11M1436.11 655.38H1446.11M1446.22 647.5V661.68M1441.22 647.5H1451.22M1441.22 661.68H1451.22M1451.34 647.7V666.2M1446.34 647.7H1456.34M1446.34 666.2H1456.34M1456.45 651.89V674.1M1451.45 651.89H1461.45M1451.45 674.1H1461.45M1461.57 635.39V647.27M1456.57 635.39H1466.57M1456.57 647.27H1466.57M1466.68 602.12V621.87M1461.68 602.12H1471.68M1461.68 621.87H1471.68M1471.8 617.73V643.4M1466.8 617.73H1476.8M1466.8 643.4H1476.8M1476.91 642.69V663.25M1471.91 642.69H1481.91M1471.91 663.25H1481.91M1482.03 654.05V675.18M1477.03 654.05H1487.03M1477.03 675.18H1487.03M1487.14 658.46V675.49M1482.14 658.46H1492.14M1482.14 675.49H1492.14M1492.26 675.04V704.01M1487.26 675.04H1497.26M1487.26 704.01H1497.26M1497.38 682.17V698.35M1492.38 682.17H1502.38M1492.38 698.35H1502.38M1502.49 668.32V692.16M1497.49 668.32H1507.49M1497.49 692.16H1507.49M1507.61 664.65V687.87M1502.61 664.65H1512.61M1502.61 687.87H1512.61M1512.72 641.62V653.42M1507.72 641.62H1517.72M1507.72 653.42H1517.72M1517.84 630.6V660.02M1512.84 630.6H1522.84M1512.84 660.02H1522.84M1522.95 624.06V640.02M1517.95 624.06H1527.95M1517.95 640.02H1527.95M1528.07 617.4V646.68M1523.07 617.4H1533.07M1523.07 646.68H1533.07M1533.18 645.06V673.27M1528.18 645.06H1538.18M1528.18 673.27H1538.18M1538.29 662.4V690.12M1533.29 662.4H1543.29M1533.29 690.12H1543.29M1543.41 629.49V656.41M1538.41 629.49H1548.41M1538.41 656.41H1548.41M1548.52 635.01V653.84M1543.52 635.01H1553.52M1543.52 653.84H1553.52M1553.64 644.76V664.43M1548.64 644.76H1558.64M1548.64 664.43H1558.64" fill="none" stroke="#fe0000" stroke-width="1.3" />
<polyline points="1067.71,651.94 1072.83,655.62 1077.94,671.84 1083.06,673.31 1088.17,683.63 1093.29,686.58 1098.4,673.31 1103.52,655.62 1108.63,640.88 1113.75,648.25 1118.87,661.52 1123.98,660.05 1129.09,640.88 1134.21,636.46 1139.32,637.94 1144.44,657.1 1149.55,637.94 1154.67,651.2 1159.78,671.84 1164.9,658.57 1170.01,660.05 1175.13,671.84 1180.24,665.94 1185.36,654.15 1190.47,671.84 1195.59,664.47 1200.7,668.89 1205.82,654.15 1210.93,670.36 1216.05,686.58 1221.16,651.2 1226.28,651.2 1231.39,682.16 1236.51,685.1 1241.62,691 1246.74,696.9 1251.86,682.16 1256.97,679.21 1262.09,676.26 1267.2,662.99 1272.31,703.53 1277.43,668.89 1282.54,696.9 1287.66,691 1292.77,671.84 1297.89,673.31 1303,676.26 1308.12,655.62 1313.23,657.69 1318.35,646.78 1323.46,671.25 1328.58,675.08 1333.69,680.53 1338.81,665.06 1343.92,676.26 1349.04,653.71 1354.15,638.23 1359.27,623.49 1364.38,625.85 1369.5,617.3 1374.61,649.73 1379.73,618.77 1384.84,606.54 1389.96,616.56 1395.07,633.51 1400.19,625.11 1405.3,657.69 1410.42,644.42 1415.53,652.97 1420.65,662.99 1425.76,659.16 1430.88,646.78 1435.99,655.33 1441.11,646.78 1446.22,654.59 1451.34,656.95 1456.45,662.99 1461.57,641.33 1466.68,611.99 1471.8,630.57 1476.91,652.97 1482.03,664.62 1487.14,666.97 1492.26,689.53 1497.38,690.26 1502.49,680.24 1507.61,676.26 1512.72,647.52 1517.84,645.31 1522.95,632.04 1528.07,632.04 1533.18,659.16 1538.29,676.26 1543.41,642.95 1548.52,644.42 1553.64,654.59" fill="none" stroke="#fe0000" stroke-width="1.5" stroke-linejoin="round" />
<path d="M1063.41 647.64h8.6v8.6h-8.6zM1068.53 651.32h8.6v8.6h-8.6zM1073.64 667.54h8.6v8.6h-8.6zM1078.76 669.01h8.6v8.6h-8.6zM1083.88 679.33h8.6v8.6h-8.6zM1088.99 682.28h8.6v8.6h-8.6zM1094.11 669.01h8.6v8.6h-8.6zM1099.22 651.32h8.6v8.6h-8.6zM1104.34 636.58h8.6v8.6h-8.6zM1109.45 643.95h8.6v8.6h-8.6zM1114.57 657.22h8.6v8.6h-8.6zM1119.68 655.75h8.6v8.6h-8.6zM1124.79 636.58h8.6v8.6h-8.6zM1129.91 632.16h8.6v8.6h-8.6zM1135.02 633.64h8.6v8.6h-8.6zM1140.14 652.8h8.6v8.6h-8.6zM1145.25 633.64h8.6v8.6h-8.6zM1150.37 646.9h8.6v8.6h-8.6zM1155.48 667.54h8.6v8.6h-8.6zM1160.6 654.27h8.6v8.6h-8.6zM1165.71 655.75h8.6v8.6h-8.6zM1170.83 667.54h8.6v8.6h-8.6zM1175.94 661.64h8.6v8.6h-8.6zM1181.06 649.85h8.6v8.6h-8.6zM1186.17 667.54h8.6v8.6h-8.6zM1191.29 660.17h8.6v8.6h-8.6zM1196.4 664.59h8.6v8.6h-8.6zM1201.52 649.85h8.6v8.6h-8.6zM1206.63 666.06h8.6v8.6h-8.6zM1211.75 682.28h8.6v8.6h-8.6zM1216.87 646.9h8.6v8.6h-8.6zM1221.98 646.9h8.6v8.6h-8.6zM1227.1 677.86h8.6v8.6h-8.6zM1232.21 680.8h8.6v8.6h-8.6zM1237.33 686.7h8.6v8.6h-8.6zM1242.44 692.6h8.6v8.6h-8.6zM1247.56 677.86h8.6v8.6h-8.6zM1252.67 674.91h8.6v8.6h-8.6zM1257.79 671.96h8.6v8.6h-8.6zM1262.9 658.69h8.6v8.6h-8.6zM1268.01 699.23h8.6v8.6h-8.6zM1273.13 664.59h8.6v8.6h-8.6zM1278.24 692.6h8.6v8.6h-8.6zM1283.36 686.7h8.6v8.6h-8.6zM1288.47 667.54h8.6v8.6h-8.6zM1293.59 669.01h8.6v8.6h-8.6zM1298.7 671.96h8.6v8.6h-8.6zM1303.82 651.32h8.6v8.6h-8.6zM1308.93 653.39h8.6v8.6h-8.6zM1314.05 642.48h8.6v8.6h-8.6zM1319.16 666.95h8.6v8.6h-8.6zM1324.28 670.78h8.6v8.6h-8.6zM1329.39 676.23h8.6v8.6h-8.6zM1334.51 660.76h8.6v8.6h-8.6zM1339.62 671.96h8.6v8.6h-8.6zM1344.74 649.41h8.6v8.6h-8.6zM1349.86 633.93h8.6v8.6h-8.6zM1354.97 619.19h8.6v8.6h-8.6zM1360.09 621.55h8.6v8.6h-8.6zM1365.2 613h8.6v8.6h-8.6zM1370.31 645.43h8.6v8.6h-8.6zM1375.43 614.47h8.6v8.6h-8.6zM1380.54 602.24h8.6v8.6h-8.6zM1385.66 612.26h8.6v8.6h-8.6zM1390.77 629.21h8.6v8.6h-8.6zM1395.89 620.81h8.6v8.6h-8.6zM1401 653.39h8.6v8.6h-8.6zM1406.12 640.12h8.6v8.6h-8.6zM1411.23 648.67h8.6v8.6h-8.6zM1416.35 658.69h8.6v8.6h-8.6zM1421.46 654.86h8.6v8.6h-8.6zM1426.58 642.48h8.6v8.6h-8.6zM1431.69 651.03h8.6v8.6h-8.6zM1436.81 642.48h8.6v8.6h-8.6zM1441.92 650.29h8.6v8.6h-8.6zM1447.04 652.65h8.6v8.6h-8.6zM1452.15 658.69h8.6v8.6h-8.6zM1457.27 637.03h8.6v8.6h-8.6zM1462.38 607.69h8.6v8.6h-8.6zM1467.5 626.27h8.6v8.6h-8.6zM1472.62 648.67h8.6v8.6h-8.6zM1477.73 660.32h8.6v8.6h-8.6zM1482.85 662.67h8.6v8.6h-8.6zM1487.96 685.23h8.6v8.6h-8.6zM1493.08 685.96h8.6v8.6h-8.6zM1498.19 675.94h8.6v8.6h-8.6zM1503.31 671.96h8.6v8.6h-8.6zM1508.42 643.22h8.6v8.6h-8.6zM1513.54 641.01h8.6v8.6h-8.6zM1518.65 627.74h8.6v8.6h-8.6zM1523.77 627.74h8.6v8.6h-8.6zM1528.88 654.86h8.6v8.6h-8.6zM1533.99 671.96h8.6v8.6h-8.6zM1539.11 638.65h8.6v8.6h-8.6zM1544.22 640.12h8.6v8.6h-8.6zM1549.34 650.29h8.6v8.6h-8.6z" fill="#fe0000"/>
<text x="1005.22" y="847"  font-size="24.57" font-weight="bold" >0.65</text>
<text x="1005.59" y="773.3"  font-size="24.57" font-weight="bold" >0.70</text>
<text x="1005.22" y="699.6"  font-size="24.57" font-weight="bold" >0.75</text>
<text x="1005.59" y="625.9"  font-size="24.57" font-weight="bold" >0.80</text>
<text x="1005.22" y="552.2"  font-size="24.57" font-weight="bold" >0.85</text>
<text x="1067.46" y="881.4"  font-size="32.33" textLength="16.96" lengthAdjust="spacingAndGlyphs" >0</text>
<text x="1117.38" y="881.4"  font-size="32.33" textLength="16.96" lengthAdjust="spacingAndGlyphs" >6</text>
<text x="1166.49" y="881.4"  font-size="32.33" textLength="33.93" lengthAdjust="spacingAndGlyphs" >12</text>
<text x="1233.54" y="881.4"  font-size="32.33" textLength="33.93" lengthAdjust="spacingAndGlyphs" >18</text>
<text x="1298.77" y="881.4"  font-size="32.33" textLength="33.93" lengthAdjust="spacingAndGlyphs" >24</text>
<text x="1356.1" y="881.4"  font-size="32.33" textLength="33.93" lengthAdjust="spacingAndGlyphs" >30</text>
<text x="1414.67" y="881.4"  font-size="32.33" textLength="33.93" lengthAdjust="spacingAndGlyphs" >36</text>
<text x="1473.23" y="881.4"  font-size="32.33" textLength="33.93" lengthAdjust="spacingAndGlyphs" >42</text>
<text x="1530.38" y="881.4"  font-size="32.33" textLength="33.93" lengthAdjust="spacingAndGlyphs" >48</text>
<text x="953.92" y="527.6"  font-size="46.67" textLength="33.17" lengthAdjust="spacingAndGlyphs" >E</text>
<text x="1257.17" y="504.3"  font-size="29.88" font-weight="bold" textLength="108.05" lengthAdjust="spacingAndGlyphs" >RQ HFD</text>
<text x="1426.33" y="565.8"  font-size="25.71" fill="#111" textLength="87.7" lengthAdjust="spacingAndGlyphs" >P&lt;0.001</text>
<text x="0" y="0" transform="translate(994.7,714.17) rotate(-90)" font-size="30.5" font-weight="bold" textLength="43.17" lengthAdjust="spacingAndGlyphs" >RQ</text>
<text x="1231.41" y="906.4"  font-size="31.16" textLength="170.4" lengthAdjust="spacingAndGlyphs" >Time (Hours)</text>
<line x1="1453.9" y1="472.9" x2="1486" y2="472.9" stroke="#222" stroke-width="1.5" />
<circle cx="1469.95" cy="472.9" r="4.3" fill="#000"/>
<text x="1504" y="481.5"  font-size="23" >WT</text>
<line x1="1453.9" y1="514" x2="1486" y2="514" stroke="#fe0000" stroke-width="1.5" />
<rect x="1465.65" y="509.7" width="8.6" height="8.6" fill="#fe0000" />
<text x="1504" y="522.5"  font-size="23" >KO</text>
<rect x="143.95" y="649.45" width="38.5" height="200.35" fill="#fff" stroke="#000" stroke-width="4.1" />
<rect x="188.05" y="580.45" width="38.9" height="269.35" fill="#fff" stroke="#fe0000" stroke-width="4.1" />
<line x1="119" y1="511.75" x2="119" y2="851.77" stroke="#000" stroke-width="3.9" />
<line x1="106.4" y1="849.82" x2="119" y2="849.82" stroke="#000" stroke-width="3.9" />
<line x1="106.4" y1="765.79" x2="119" y2="765.79" stroke="#000" stroke-width="3.9" />
<line x1="106.4" y1="681.76" x2="119" y2="681.76" stroke="#000" stroke-width="3.9" />
<line x1="106.4" y1="597.73" x2="119" y2="597.73" stroke="#000" stroke-width="3.9" />
<line x1="106.4" y1="513.7" x2="119" y2="513.7" stroke="#000" stroke-width="3.9" />
<line x1="106.4" y1="849.8" x2="251.7" y2="849.8" stroke="#000" stroke-width="3.9" />
<path d="M163.3 634.7V657.6M151.95 634.7H174.65M151.95 657.6H174.65" fill="none" stroke="#000" stroke-width="1.9" />
<path d="M207.5 565.2V590.1M196 565.2H219M196 590.1H219" fill="none" stroke="#fe0000" stroke-width="1.9" />
<circle cx="163" cy="606" r="3.2" fill="#000"/>
<circle cx="163" cy="614" r="3.2" fill="#000"/>
<circle cx="146" cy="664.8" r="3.2" fill="#000"/>
<circle cx="156.9" cy="663.7" r="3.2" fill="#000"/>
<circle cx="169.8" cy="664.8" r="3.2" fill="#000"/>
<circle cx="181" cy="664.8" r="3.2" fill="#000"/>
<circle cx="207.1" cy="540.4" r="3.2" fill="#fe0000"/>
<circle cx="207.1" cy="552.8" r="3.2" fill="#fe0000"/>
<circle cx="207.1" cy="559.6" r="3.2" fill="#fe0000"/>
<circle cx="200.3" cy="600.3" r="3.2" fill="#fe0000"/>
<circle cx="213.9" cy="604.9" r="3.2" fill="#fe0000"/>
<circle cx="200.3" cy="609.8" r="3.2" fill="#fe0000"/>
<line x1="158.5" y1="520.7" x2="209.8" y2="520.7" stroke="#000" stroke-width="4.6" stroke-linecap="round" />
<text x="72.8" y="859.37"  font-size="27.29" font-weight="bold" >35</text>
<text x="73.07" y="775.34"  font-size="27.29" font-weight="bold" >36</text>
<text x="73.2" y="691.31"  font-size="27.29" font-weight="bold" >37</text>
<text x="72.93" y="607.28"  font-size="27.29" font-weight="bold" >38</text>
<text x="73.07" y="523.25"  font-size="27.29" font-weight="bold" >39</text>
<text x="4.43" y="527.5"  font-size="47.43" >C</text>
<text x="143.61" y="510.7"  font-size="24.43" font-style="italic" textLength="86.42" lengthAdjust="spacingAndGlyphs" style="stroke-width:0.6px">P=0.002</text>
<circle cx="247.2" cy="521.1" r="3.3" fill="#000"/>
<circle cx="247.2" cy="559.6" r="3.3" fill="#fe0000"/>
<text x="286.17" y="530.6"  font-size="28.2" textLength="41.36" lengthAdjust="spacingAndGlyphs" >WT</text>
<text x="284" y="569.1"  font-size="30.47" textLength="41.53" lengthAdjust="spacingAndGlyphs" >KO</text>
<text x="0" y="0" transform="translate(54.3,788.74) rotate(-90)" font-size="28.35" font-weight="bold" textLength="212.33" lengthAdjust="spacingAndGlyphs" >Rectal Temp (°C)</text>
<line x1="465.3" y1="524.95" x2="465.3" y2="838.85" stroke="#000" stroke-width="4.3" />
<line x1="452.1" y1="836.7" x2="465.3" y2="836.7" stroke="#000" stroke-width="4.3" />
<line x1="452.1" y1="792.47" x2="465.3" y2="792.47" stroke="#000" stroke-width="4.3" />
<line x1="452.1" y1="748.24" x2="465.3" y2="748.24" stroke="#000" stroke-width="4.3" />
<line x1="452.1" y1="704.01" x2="465.3" y2="704.01" stroke="#000" stroke-width="4.3" />
<line x1="452.1" y1="659.78" x2="465.3" y2="659.78" stroke="#000" stroke-width="4.3" />
<line x1="452.1" y1="615.56" x2="465.3" y2="615.56" stroke="#000" stroke-width="4.3" />
<line x1="452.1" y1="571.33" x2="465.3" y2="571.33" stroke="#000" stroke-width="4.3" />
<line x1="452.1" y1="527.1" x2="465.3" y2="527.1" stroke="#000" stroke-width="4.3" />
<line x1="452.1" y1="836.7" x2="929.3" y2="836.7" stroke="#000" stroke-width="4.3" />
<line x1="465.4" y1="836.7" x2="465.4" y2="849.5" stroke="#000" stroke-width="4.3" />
<line x1="619.7" y1="836.7" x2="619.7" y2="849.5" stroke="#000" stroke-width="4.3" />
<line x1="774" y1="836.7" x2="774" y2="849.5" stroke="#000" stroke-width="4.3" />
<line x1="928.3" y1="836.7" x2="928.3" y2="849.5" stroke="#000" stroke-width="4.3" />
<text x="433.2" y="847.2"  font-size="30" >0</text>
<text x="433.65" y="802.97"  font-size="30" >2</text>
<text x="432.82" y="758.74"  font-size="30.43" >4</text>
<text x="433.35" y="714.51"  font-size="30" >6</text>
<text x="433.35" y="670.28"  font-size="30" >8</text>
<text x="416.55" y="626.06"  font-size="30" >10</text>
<text x="417" y="581.83"  font-size="30" >12</text>
<text x="415.93" y="537.6"  font-size="30.43" >14</text>
<text x="442.81" y="881.7"  font-size="31.16" textLength="56.91" lengthAdjust="spacingAndGlyphs" >17.4</text>
<text x="597.01" y="881.7"  font-size="30.71" textLength="56.91" lengthAdjust="spacingAndGlyphs" >19.4</text>
<text x="752.16" y="881.7"  font-size="30.71" textLength="56.15" lengthAdjust="spacingAndGlyphs" >21.4</text>
<text x="906.46" y="881.7"  font-size="30.71" textLength="56.15" lengthAdjust="spacingAndGlyphs" >23.4</text>
<line x1="475.4" y1="664.8" x2="897.2" y2="539.7" stroke="#fe0000" stroke-width="4.3" />
<line x1="481.9" y1="801.7" x2="919.7" y2="669.4" stroke="#000" stroke-width="4.3" />
<rect x="474.4" y="663.4" width="11.4" height="11.4" fill="#fe0000" />
<rect x="520.8" y="657.3" width="11.4" height="11.4" fill="#fe0000" />
<rect x="520.8" y="664.4" width="11.4" height="11.4" fill="#fe0000" />
<rect x="526.9" y="635.8" width="11.4" height="11.4" fill="#fe0000" />
<rect x="536.6" y="603.7" width="11.4" height="11.4" fill="#fe0000" />
<rect x="549.4" y="641.9" width="11.4" height="11.4" fill="#fe0000" />
<rect x="562.7" y="616.9" width="11.4" height="11.4" fill="#fe0000" />
<rect x="637" y="603.7" width="11.4" height="11.4" fill="#fe0000" />
<circle cx="751.3" cy="707" r="5.7" fill="#000"/>
<circle cx="776.4" cy="705.2" r="5.7" fill="#000"/>
<circle cx="784.6" cy="708.4" r="5.7" fill="#000"/>
<circle cx="813.2" cy="707.7" r="5.7" fill="#000"/>
<circle cx="813.2" cy="713" r="5.7" fill="#000"/>
<circle cx="828.5" cy="702.3" r="5.7" fill="#000"/>
<circle cx="831" cy="688" r="5.7" fill="#000"/>
<circle cx="858.9" cy="696.6" r="5.7" fill="#000"/>
<text x="373.01" y="526.5"  font-size="41.45" textLength="36.9" lengthAdjust="spacingAndGlyphs" >D</text>
<text x="615.99" y="913.2"  font-size="31.94" textLength="192.57" lengthAdjust="spacingAndGlyphs" >Lean Mass (g)</text>
<text x="0" y="0" transform="translate(408.6,751.17) rotate(-90)" font-size="31.35" textLength="156.18" lengthAdjust="spacingAndGlyphs" >EE kcal/day</text>
<circle cx="500.2" cy="520.2" r="6.5" fill="#000"/>
<rect x="493.9" y="540.9" width="13" height="13" fill="#fe0000" />
<text x="515.55" y="535.7"  font-size="30.14" textLength="46.03" lengthAdjust="spacingAndGlyphs" >WT</text>
<text x="514.77" y="563.7"  font-size="31" textLength="43.84" lengthAdjust="spacingAndGlyphs" >KO</text>
<text x="712.5" y="537.9"  font-size="30.86" textLength="112.71" lengthAdjust="spacingAndGlyphs" >P=0.005</text>
<line x1="107.4" y1="992.15" x2="107.4" y2="1309.25" stroke="#000" stroke-width="4.5" />
<line x1="91.7" y1="1307" x2="107.4" y2="1307" stroke="#000" stroke-width="4.5" />
<line x1="91.7" y1="1254.9" x2="107.4" y2="1254.9" stroke="#000" stroke-width="4.5" />
<line x1="91.7" y1="1202.8" x2="107.4" y2="1202.8" stroke="#000" stroke-width="4.5" />
<line x1="91.7" y1="1150.7" x2="107.4" y2="1150.7" stroke="#000" stroke-width="4.5" />
<line x1="91.7" y1="1098.6" x2="107.4" y2="1098.6" stroke="#000" stroke-width="4.5" />
<line x1="91.7" y1="1046.5" x2="107.4" y2="1046.5" stroke="#000" stroke-width="4.5" />
<line x1="91.7" y1="994.4" x2="107.4" y2="994.4" stroke="#000" stroke-width="4.5" />
<line x1="91.7" y1="1307" x2="856.7" y2="1307" stroke="#000" stroke-width="4.2" />
<rect x="125.9" y="1298.48" width="28.1" height="8.52" fill="#fff" stroke="#000" stroke-width="3.8" />
<circle cx="128.1" cy="1294.88" r="2.6" fill="#000"/>
<circle cx="132.84" cy="1296.28" r="2.6" fill="#000"/>
<circle cx="137.58" cy="1294.88" r="2.6" fill="#000"/>
<circle cx="142.32" cy="1296.28" r="2.6" fill="#000"/>
<circle cx="147.06" cy="1294.88" r="2.6" fill="#000"/>
<circle cx="151.8" cy="1296.28" r="2.6" fill="#000"/>
<rect x="207.5" y="1298.48" width="28.1" height="8.52" fill="#fff" stroke="#000" stroke-width="3.8" />
<circle cx="209.7" cy="1294.88" r="2.6" fill="#000"/>
<circle cx="214.44" cy="1296.28" r="2.6" fill="#000"/>
<circle cx="219.18" cy="1294.88" r="2.6" fill="#000"/>
<circle cx="223.92" cy="1296.28" r="2.6" fill="#000"/>
<circle cx="228.66" cy="1294.88" r="2.6" fill="#000"/>
<circle cx="233.4" cy="1296.28" r="2.6" fill="#000"/>
<rect x="289.1" y="1298.48" width="28.1" height="8.52" fill="#fff" stroke="#000" stroke-width="3.8" />
<circle cx="291.3" cy="1294.88" r="2.6" fill="#000"/>
<circle cx="296.04" cy="1296.28" r="2.6" fill="#000"/>
<circle cx="300.78" cy="1294.88" r="2.6" fill="#000"/>
<circle cx="305.52" cy="1296.28" r="2.6" fill="#000"/>
<circle cx="310.26" cy="1294.88" r="2.6" fill="#000"/>
<circle cx="315" cy="1296.28" r="2.6" fill="#000"/>
<rect x="370.7" y="1298.48" width="28.1" height="8.52" fill="#fff" stroke="#000" stroke-width="3.8" />
<circle cx="372.9" cy="1294.88" r="2.6" fill="#000"/>
<circle cx="377.64" cy="1296.28" r="2.6" fill="#000"/>
<circle cx="382.38" cy="1294.88" r="2.6" fill="#000"/>
<circle cx="387.12" cy="1296.28" r="2.6" fill="#000"/>
<circle cx="391.86" cy="1294.88" r="2.6" fill="#000"/>
<circle cx="396.6" cy="1296.28" r="2.6" fill="#000"/>
<rect x="452.3" y="1298.48" width="28.1" height="8.52" fill="#fff" stroke="#000" stroke-width="3.8" />
<circle cx="454.5" cy="1294.88" r="2.6" fill="#000"/>
<circle cx="459.24" cy="1296.28" r="2.6" fill="#000"/>
<circle cx="463.98" cy="1294.88" r="2.6" fill="#000"/>
<circle cx="468.72" cy="1296.28" r="2.6" fill="#000"/>
<circle cx="473.46" cy="1294.88" r="2.6" fill="#000"/>
<circle cx="478.2" cy="1296.28" r="2.6" fill="#000"/>
<rect x="533.9" y="1298.48" width="28.1" height="8.52" fill="#fff" stroke="#000" stroke-width="3.8" />
<circle cx="536.1" cy="1294.88" r="2.6" fill="#000"/>
<circle cx="540.84" cy="1296.28" r="2.6" fill="#000"/>
<circle cx="545.58" cy="1294.88" r="2.6" fill="#000"/>
<circle cx="550.32" cy="1296.28" r="2.6" fill="#000"/>
<circle cx="555.06" cy="1294.88" r="2.6" fill="#000"/>
<circle cx="559.8" cy="1296.28" r="2.6" fill="#000"/>
<rect x="615.5" y="1298.48" width="28.1" height="8.52" fill="#fff" stroke="#000" stroke-width="3.8" />
<circle cx="617.7" cy="1294.88" r="2.6" fill="#000"/>
<circle cx="622.44" cy="1296.28" r="2.6" fill="#000"/>
<circle cx="627.18" cy="1294.88" r="2.6" fill="#000"/>
<circle cx="631.92" cy="1296.28" r="2.6" fill="#000"/>
<circle cx="636.66" cy="1294.88" r="2.6" fill="#000"/>
<circle cx="641.4" cy="1296.28" r="2.6" fill="#000"/>
<rect x="697.1" y="1298.48" width="28.1" height="8.52" fill="#fff" stroke="#000" stroke-width="3.8" />
<circle cx="699.3" cy="1294.88" r="2.6" fill="#000"/>
<circle cx="704.04" cy="1296.28" r="2.6" fill="#000"/>
<circle cx="708.78" cy="1294.88" r="2.6" fill="#000"/>
<circle cx="713.52" cy="1296.28" r="2.6" fill="#000"/>
<circle cx="718.26" cy="1294.88" r="2.6" fill="#000"/>
<circle cx="723" cy="1296.28" r="2.6" fill="#000"/>
<rect x="778.7" y="1298.48" width="28.1" height="8.52" fill="#fff" stroke="#000" stroke-width="3.8" />
<circle cx="780.9" cy="1294.88" r="2.6" fill="#000"/>
<circle cx="785.64" cy="1296.28" r="2.6" fill="#000"/>
<circle cx="790.38" cy="1294.88" r="2.6" fill="#000"/>
<circle cx="795.12" cy="1296.28" r="2.6" fill="#000"/>
<circle cx="799.86" cy="1294.88" r="2.6" fill="#000"/>
<circle cx="804.6" cy="1296.28" r="2.6" fill="#000"/>
<rect x="158.4" y="1108.09" width="28.2" height="198.91" fill="#fff" stroke="#fe0000" stroke-width="4.4" />
<path d="M172.5 1080.37V1129.86M164.02 1080.37H180.98M164.02 1129.86H180.98" fill="none" stroke="#fe0000" stroke-width="1.8" />
<circle cx="172.5" cy="1017.32" r="3.1" fill="#fe0000"/>
<circle cx="172.5" cy="1057.96" r="3.1" fill="#fe0000"/>
<circle cx="172.5" cy="1097.56" r="3.1" fill="#fe0000"/>
<circle cx="172.5" cy="1117.36" r="3.1" fill="#fe0000"/>
<circle cx="172.5" cy="1160.08" r="3.1" fill="#fe0000"/>
<circle cx="172.5" cy="1180.92" r="3.1" fill="#fe0000"/>
<rect x="240" y="1272.73" width="28.2" height="34.27" fill="#fff" stroke="#fe0000" stroke-width="4.4" />
<path d="M254.1 1266.88V1273.66M245.62 1266.88H262.58M245.62 1273.66H262.58" fill="none" stroke="#fe0000" stroke-width="1.8" />
<circle cx="242.26" cy="1263.76" r="3.1" fill="#fe0000"/>
<circle cx="254.1" cy="1267.4" r="3.1" fill="#fe0000"/>
<circle cx="265.94" cy="1263.76" r="3.1" fill="#fe0000"/>
<circle cx="254.1" cy="1273.66" r="3.1" fill="#fe0000"/>
<circle cx="242.82" cy="1278.87" r="3.1" fill="#fe0000"/>
<circle cx="263.97" cy="1270.53" r="3.1" fill="#fe0000"/>
<rect x="321.6" y="1260.23" width="28.2" height="46.77" fill="#fff" stroke="#fe0000" stroke-width="4.4" />
<path d="M335.7 1254.9V1260.63M327.22 1254.9H344.18M327.22 1260.63H344.18" fill="none" stroke="#fe0000" stroke-width="1.8" />
<circle cx="328.93" cy="1256.67" r="3.1" fill="#fe0000"/>
<circle cx="335.7" cy="1253.34" r="3.1" fill="#fe0000"/>
<circle cx="341.9" cy="1253.34" r="3.1" fill="#fe0000"/>
<circle cx="347.83" cy="1256.25" r="3.1" fill="#fe0000"/>
<circle cx="329.21" cy="1265.32" r="3.1" fill="#fe0000"/>
<circle cx="337.39" cy="1259.07" r="3.1" fill="#fe0000"/>
<rect x="403.2" y="1206.04" width="28.2" height="100.96" fill="#fff" stroke="#fe0000" stroke-width="4.4" />
<path d="M417.3 1201.76V1205.93M408.82 1201.76H425.78M408.82 1205.93H425.78" fill="none" stroke="#fe0000" stroke-width="1.8" />
<circle cx="405.17" cy="1203.84" r="3.1" fill="#fe0000"/>
<circle cx="410.81" cy="1200.72" r="3.1" fill="#fe0000"/>
<circle cx="419.84" cy="1200.72" r="3.1" fill="#fe0000"/>
<circle cx="424.91" cy="1206.97" r="3.1" fill="#fe0000"/>
<circle cx="430.55" cy="1201.76" r="3.1" fill="#fe0000"/>
<circle cx="417.3" cy="1203.32" r="3.1" fill="#fe0000"/>
<rect x="484.8" y="1259.18" width="28.2" height="47.82" fill="#fff" stroke="#fe0000" stroke-width="4.4" />
<path d="M498.9 1252.82V1260.63M490.42 1252.82H507.38M490.42 1260.63H507.38" fill="none" stroke="#fe0000" stroke-width="1.8" />
<circle cx="486.21" cy="1254.48" r="3.1" fill="#fe0000"/>
<circle cx="498.9" cy="1253.02" r="3.1" fill="#fe0000"/>
<circle cx="511.59" cy="1249.38" r="3.1" fill="#fe0000"/>
<circle cx="492.7" cy="1267.4" r="3.1" fill="#fe0000"/>
<circle cx="505.1" cy="1264.28" r="3.1" fill="#fe0000"/>
<circle cx="510.18" cy="1256.98" r="3.1" fill="#fe0000"/>
<rect x="566.4" y="1191.45" width="28.2" height="115.55" fill="#fff" stroke="#fe0000" stroke-width="4.4" />
<path d="M580.5 1184.04V1193.42M572.02 1184.04H588.98M572.02 1193.42H588.98" fill="none" stroke="#fe0000" stroke-width="1.8" />
<circle cx="568.66" cy="1181.33" r="3.1" fill="#fe0000"/>
<circle cx="576.27" cy="1180.71" r="3.1" fill="#fe0000"/>
<circle cx="584.17" cy="1184.04" r="3.1" fill="#fe0000"/>
<circle cx="592.06" cy="1180.92" r="3.1" fill="#fe0000"/>
<circle cx="580.5" cy="1197.59" r="3.1" fill="#fe0000"/>
<circle cx="580.5" cy="1204.88" r="3.1" fill="#fe0000"/>
<rect x="648" y="1168.53" width="28.2" height="138.47" fill="#fff" stroke="#fe0000" stroke-width="4.4" />
<path d="M662.1 1160.08V1171.54M653.62 1160.08H670.58M653.62 1171.54H670.58" fill="none" stroke="#fe0000" stroke-width="1.8" />
<circle cx="662.1" cy="1153.1" r="3.1" fill="#fe0000"/>
<circle cx="673.94" cy="1159.56" r="3.1" fill="#fe0000"/>
<circle cx="662.1" cy="1162.47" r="3.1" fill="#fe0000"/>
<circle cx="662.1" cy="1171.12" r="3.1" fill="#fe0000"/>
<circle cx="662.1" cy="1181.96" r="3.1" fill="#fe0000"/>
<circle cx="673.94" cy="1168.41" r="3.1" fill="#fe0000"/>
<rect x="729.6" y="1244.6" width="28.2" height="62.4" fill="#fff" stroke="#fe0000" stroke-width="4.4" />
<path d="M743.7 1239.27V1245M735.22 1239.27H752.18M735.22 1245H752.18" fill="none" stroke="#fe0000" stroke-width="1.8" />
<circle cx="732.42" cy="1237.92" r="3.1" fill="#fe0000"/>
<circle cx="740.03" cy="1233.02" r="3.1" fill="#fe0000"/>
<circle cx="747.37" cy="1244.9" r="3.1" fill="#fe0000"/>
<circle cx="755.54" cy="1241.35" r="3.1" fill="#fe0000"/>
<circle cx="732.42" cy="1246.56" r="3.1" fill="#fe0000"/>
<circle cx="743.7" cy="1243.44" r="3.1" fill="#fe0000"/>
<rect x="811.2" y="1261.27" width="28.2" height="45.73" fill="#fff" stroke="#fe0000" stroke-width="4.4" />
<path d="M825.3 1254.9V1262.19M816.82 1254.9H833.78M816.82 1262.19H833.78" fill="none" stroke="#fe0000" stroke-width="1.8" />
<circle cx="825.3" cy="1249.48" r="3.1" fill="#fe0000"/>
<circle cx="814.02" cy="1259.07" r="3.1" fill="#fe0000"/>
<circle cx="836.86" cy="1257.51" r="3.1" fill="#fe0000"/>
<circle cx="825.3" cy="1263.24" r="3.1" fill="#fe0000"/>
<circle cx="814.3" cy="1267.4" r="3.1" fill="#fe0000"/>
<circle cx="830.94" cy="1260.11" r="3.1" fill="#fe0000"/>
<line x1="136.3" y1="997.3" x2="170" y2="997.3" stroke="#000" stroke-width="4.6" stroke-linecap="round" />
<line x1="212.3" y1="1219.3" x2="246" y2="1219.3" stroke="#000" stroke-width="4.6" stroke-linecap="round" />
<line x1="299" y1="1219.3" x2="332.7" y2="1219.3" stroke="#000" stroke-width="4.6" stroke-linecap="round" />
<line x1="381.6" y1="1186" x2="414.4" y2="1186" stroke="#000" stroke-width="4.6" stroke-linecap="round" />
<line x1="468.8" y1="1216.8" x2="502.9" y2="1216.8" stroke="#000" stroke-width="4.6" stroke-linecap="round" />
<line x1="544" y1="1165.7" x2="577.8" y2="1165.7" stroke="#000" stroke-width="4.6" stroke-linecap="round" />
<line x1="625.8" y1="1135.4" x2="659.3" y2="1135.4" stroke="#000" stroke-width="4.6" stroke-linecap="round" />
<line x1="707.2" y1="1216.8" x2="741.3" y2="1216.8" stroke="#000" stroke-width="4.6" stroke-linecap="round" />
<line x1="793.9" y1="1216.8" x2="828" y2="1216.8" stroke="#000" stroke-width="4.6" stroke-linecap="round" />
<text x="112.66" y="981.7"  font-size="22.66" font-style="italic" fill="#111" textLength="80.23" lengthAdjust="spacingAndGlyphs" >P&lt;0.001</text>
<text x="191.07" y="1204"  font-size="22.34" font-style="italic" fill="#111" textLength="79.1" lengthAdjust="spacingAndGlyphs" >P&lt;0.001</text>
<text x="277.67" y="1204"  font-size="22.37" font-style="italic" fill="#111" textLength="79.2" lengthAdjust="spacingAndGlyphs" >P&lt;0.001</text>
<text x="359.37" y="1169.3"  font-size="22.37" font-style="italic" fill="#111" textLength="79.2" lengthAdjust="spacingAndGlyphs" >P&lt;0.001</text>
<text x="446.66" y="1200.4"  font-size="22.75" font-style="italic" fill="#111" textLength="80.54" lengthAdjust="spacingAndGlyphs" >P&lt;0.001</text>
<text x="521.56" y="1149.3"  font-size="22.57" font-style="italic" fill="#111" textLength="79.92" lengthAdjust="spacingAndGlyphs" >P&lt;0.001</text>
<text x="603.66" y="1119.9"  font-size="22.57" font-style="italic" fill="#111" textLength="79.92" lengthAdjust="spacingAndGlyphs" >P&lt;0.001</text>
<text x="685.06" y="1200.4"  font-size="22.57" font-style="italic" fill="#111" textLength="79.92" lengthAdjust="spacingAndGlyphs" >P&lt;0.001</text>
<text x="771.76" y="1200.4"  font-size="22.6" font-style="italic" fill="#111" textLength="80.03" lengthAdjust="spacingAndGlyphs" >P&lt;0.001</text>
<text x="135.42" y="1331.5"  font-size="20.55" font-weight="bold" font-style="italic" textLength="40.94" lengthAdjust="spacingAndGlyphs" >Atgl</text>
<text x="221.27" y="1331.5"  font-size="20.55" font-weight="bold" font-style="italic" textLength="33.33" lengthAdjust="spacingAndGlyphs" >Hsl</text>
<text x="288.73" y="1331.5"  font-size="20.55" font-weight="bold" font-style="italic" textLength="61.47" lengthAdjust="spacingAndGlyphs" >Adrb3</text>
<text x="372.2" y="1331.5"  font-size="20.55" font-weight="bold" font-style="italic" textLength="56.45" lengthAdjust="spacingAndGlyphs" >Glut4</text>
<text x="456.87" y="1331.5"  font-size="21.59" font-weight="bold" font-style="italic" >Fasn</text>
<text x="521.88" y="1331.5"  font-size="20.55" font-weight="bold" font-style="italic" textLength="84.27" lengthAdjust="spacingAndGlyphs" >Srebp1c</text>
<text x="614.07" y="1331.5"  font-size="21.59" font-weight="bold" font-style="italic" >Pgc1a</text>
<text x="700.48" y="1331.5"  font-size="21.59" font-weight="bold" font-style="italic" textLength="53.63" lengthAdjust="spacingAndGlyphs" >Ucp1</text>
<text x="783.28" y="1331.5"  font-size="20.55" font-weight="bold" font-style="italic" textLength="51.98" lengthAdjust="spacingAndGlyphs" >Tfam</text>
<line x1="91.7" y1="1307" x2="856.7" y2="1307" stroke="#000" stroke-width="4.2" />
<text x="77.05" y="1315.8"  font-size="25.14" font-weight="bold" >0</text>
<text x="76.48" y="1263.7"  font-size="25.51" font-weight="bold" >5</text>
<text x="63.1" y="1211.6"  font-size="25.14" font-weight="bold" >10</text>
<text x="62.32" y="1159.5"  font-size="25.51" font-weight="bold" >15</text>
<text x="63.1" y="1107.4"  font-size="25.14" font-weight="bold" >20</text>
<text x="62.72" y="1055.3"  font-size="25.14" font-weight="bold" >25</text>
<text x="63.1" y="1003.2"  font-size="25.14" font-weight="bold" >30</text>
<line x1="135" y1="1345" x2="349.3" y2="1345" stroke="#000" stroke-width="3.5" />
<line x1="370.7" y1="1345" x2="596.5" y2="1345" stroke="#000" stroke-width="3.5" />
<line x1="615.1" y1="1345" x2="842.1" y2="1345" stroke="#000" stroke-width="3.5" />
<text x="177.9" y="1379.2"  font-size="35.73" textLength="129.28" lengthAdjust="spacingAndGlyphs" >Lipolysis</text>
<text x="390.65" y="1379.2"  font-size="35.1" textLength="176.73" lengthAdjust="spacingAndGlyphs" >Lipogenesis</text>
<text x="615.44" y="1379.2"  font-size="34.88" textLength="226.79" lengthAdjust="spacingAndGlyphs" >Thermogenesis</text>
<text x="-4.49" y="956.7"  font-size="45.94" >F</text>
<text x="417.67" y="972.7"  font-size="31.45" font-weight="bold" textLength="128" lengthAdjust="spacingAndGlyphs" >HFD BAT</text>
<text x="0" y="0" transform="translate(45,1334.94) rotate(-90)" font-size="26.71" font-weight="bold" textLength="367.83" lengthAdjust="spacingAndGlyphs" >Relative expression/TBP (A.U.)</text>
<circle cx="745.8" cy="1014" r="3.2" fill="#000"/>
<circle cx="745.8" cy="1058" r="3.2" fill="#fe0000"/>
<text x="782.17" y="1023"  font-size="26.81" textLength="39.32" lengthAdjust="spacingAndGlyphs" >WT</text>
<text x="780.13" y="1067.2"  font-size="28.78" textLength="39.23" lengthAdjust="spacingAndGlyphs" >KO</text>
<line x1="1089.9" y1="989.25" x2="1089.9" y2="1321.15" stroke="#000" stroke-width="4.7" />
<line x1="1075.6" y1="1318.8" x2="1089.9" y2="1318.8" stroke="#000" stroke-width="4.7" />
<line x1="1075.6" y1="1253.36" x2="1089.9" y2="1253.36" stroke="#000" stroke-width="4.7" />
<line x1="1075.6" y1="1187.92" x2="1089.9" y2="1187.92" stroke="#000" stroke-width="4.7" />
<line x1="1075.6" y1="1122.48" x2="1089.9" y2="1122.48" stroke="#000" stroke-width="4.7" />
<line x1="1075.6" y1="1057.04" x2="1089.9" y2="1057.04" stroke="#000" stroke-width="4.7" />
<line x1="1075.6" y1="991.6" x2="1089.9" y2="991.6" stroke="#000" stroke-width="4.7" />
<line x1="1075.6" y1="1318.8" x2="1594.5" y2="1318.8" stroke="#000" stroke-width="4.4" />
<rect x="1108.9" y="1287.98" width="28.4" height="30.82" fill="#fff" stroke="#000" stroke-width="3.8" />
<circle cx="1111.1" cy="1284.38" r="2.6" fill="#000"/>
<circle cx="1115.9" cy="1285.78" r="2.6" fill="#000"/>
<circle cx="1120.7" cy="1284.38" r="2.6" fill="#000"/>
<circle cx="1125.5" cy="1285.78" r="2.6" fill="#000"/>
<circle cx="1130.3" cy="1284.38" r="2.6" fill="#000"/>
<circle cx="1135.1" cy="1285.78" r="2.6" fill="#000"/>
<rect x="1190.35" y="1287.98" width="28.4" height="30.82" fill="#fff" stroke="#000" stroke-width="3.8" />
<circle cx="1192.55" cy="1284.38" r="2.6" fill="#000"/>
<circle cx="1197.35" cy="1285.78" r="2.6" fill="#000"/>
<circle cx="1202.15" cy="1284.38" r="2.6" fill="#000"/>
<circle cx="1206.95" cy="1285.78" r="2.6" fill="#000"/>
<circle cx="1211.75" cy="1284.38" r="2.6" fill="#000"/>
<circle cx="1216.55" cy="1285.78" r="2.6" fill="#000"/>
<rect x="1271.8" y="1287.98" width="28.4" height="30.82" fill="#fff" stroke="#000" stroke-width="3.8" />
<circle cx="1274" cy="1284.38" r="2.6" fill="#000"/>
<circle cx="1278.8" cy="1285.78" r="2.6" fill="#000"/>
<circle cx="1283.6" cy="1284.38" r="2.6" fill="#000"/>
<circle cx="1288.4" cy="1285.78" r="2.6" fill="#000"/>
<circle cx="1293.2" cy="1284.38" r="2.6" fill="#000"/>
<circle cx="1298" cy="1285.78" r="2.6" fill="#000"/>
<rect x="1353.25" y="1287.98" width="28.4" height="30.82" fill="#fff" stroke="#000" stroke-width="3.8" />
<circle cx="1355.45" cy="1284.38" r="2.6" fill="#000"/>
<circle cx="1360.25" cy="1285.78" r="2.6" fill="#000"/>
<circle cx="1365.05" cy="1284.38" r="2.6" fill="#000"/>
<circle cx="1369.85" cy="1285.78" r="2.6" fill="#000"/>
<circle cx="1374.65" cy="1284.38" r="2.6" fill="#000"/>
<circle cx="1379.45" cy="1285.78" r="2.6" fill="#000"/>
<rect x="1434.7" y="1287.98" width="28.4" height="30.82" fill="#fff" stroke="#000" stroke-width="3.8" />
<circle cx="1436.9" cy="1284.38" r="2.6" fill="#000"/>
<circle cx="1441.7" cy="1285.78" r="2.6" fill="#000"/>
<circle cx="1446.5" cy="1284.38" r="2.6" fill="#000"/>
<circle cx="1451.3" cy="1285.78" r="2.6" fill="#000"/>
<circle cx="1456.1" cy="1284.38" r="2.6" fill="#000"/>
<circle cx="1460.9" cy="1285.78" r="2.6" fill="#000"/>
<rect x="1516.15" y="1287.98" width="28.4" height="30.82" fill="#fff" stroke="#000" stroke-width="3.8" />
<circle cx="1518.35" cy="1284.38" r="2.6" fill="#000"/>
<circle cx="1523.15" cy="1285.78" r="2.6" fill="#000"/>
<circle cx="1527.95" cy="1284.38" r="2.6" fill="#000"/>
<circle cx="1532.75" cy="1285.78" r="2.6" fill="#000"/>
<circle cx="1537.55" cy="1284.38" r="2.6" fill="#000"/>
<circle cx="1542.35" cy="1285.78" r="2.6" fill="#000"/>
<rect x="1141.6" y="1071.67" width="27" height="247.13" fill="#fff" stroke="#fe0000" stroke-width="4.4" />
<path d="M1155.1 1053.44V1085.83M1146.94 1053.44H1163.26M1146.94 1085.83H1163.26" fill="none" stroke="#fe0000" stroke-width="1.8" />
<circle cx="1155.1" cy="1019.08" r="3.1" fill="#fe0000"/>
<circle cx="1155.1" cy="1031.19" r="3.1" fill="#fe0000"/>
<circle cx="1155.1" cy="1060.64" r="3.1" fill="#fe0000"/>
<circle cx="1155.1" cy="1083.22" r="3.1" fill="#fe0000"/>
<circle cx="1155.1" cy="1103.5" r="3.1" fill="#fe0000"/>
<circle cx="1155.1" cy="1119.21" r="3.1" fill="#fe0000"/>
<rect x="1223.05" y="1048.44" width="27" height="270.36" fill="#fff" stroke="#fe0000" stroke-width="4.4" />
<path d="M1236.55 1030.86V1063.58M1228.39 1030.86H1244.71M1228.39 1063.58H1244.71" fill="none" stroke="#fe0000" stroke-width="1.8" />
<circle cx="1236.55" cy="995.2" r="3.1" fill="#fe0000"/>
<circle cx="1236.55" cy="1006.32" r="3.1" fill="#fe0000"/>
<circle cx="1236.55" cy="1031.19" r="3.1" fill="#fe0000"/>
<circle cx="1236.55" cy="1070.78" r="3.1" fill="#fe0000"/>
<circle cx="1230.88" cy="1086.49" r="3.1" fill="#fe0000"/>
<circle cx="1242.22" cy="1083.54" r="3.1" fill="#fe0000"/>
<rect x="1304.5" y="1130.24" width="27" height="188.56" fill="#fff" stroke="#fe0000" stroke-width="4.4" />
<path d="M1318 1117.9V1137.2M1309.84 1117.9H1326.16M1309.84 1137.2H1326.16" fill="none" stroke="#fe0000" stroke-width="1.8" />
<circle cx="1318" cy="1090.74" r="3.1" fill="#fe0000"/>
<circle cx="1318" cy="1116.26" r="3.1" fill="#fe0000"/>
<circle cx="1311.79" cy="1128.37" r="3.1" fill="#fe0000"/>
<circle cx="1323.94" cy="1125.75" r="3.1" fill="#fe0000"/>
<circle cx="1318" cy="1145.38" r="3.1" fill="#fe0000"/>
<circle cx="1318" cy="1159.13" r="3.1" fill="#fe0000"/>
<rect x="1385.95" y="1226.44" width="27" height="92.36" fill="#fff" stroke="#fe0000" stroke-width="4.4" />
<path d="M1399.45 1210.5V1235.69M1391.29 1210.5H1407.61M1391.29 1235.69H1407.61" fill="none" stroke="#fe0000" stroke-width="1.8" />
<circle cx="1399.45" cy="1178.1" r="3.1" fill="#fe0000"/>
<circle cx="1399.45" cy="1194.46" r="3.1" fill="#fe0000"/>
<circle cx="1399.45" cy="1221.29" r="3.1" fill="#fe0000"/>
<circle cx="1399.45" cy="1240.6" r="3.1" fill="#fe0000"/>
<circle cx="1399.45" cy="1247.14" r="3.1" fill="#fe0000"/>
<circle cx="1399.45" cy="1256.63" r="3.1" fill="#fe0000"/>
<rect x="1467.4" y="1151.18" width="27" height="167.62" fill="#fff" stroke="#fe0000" stroke-width="4.4" />
<path d="M1480.9 1137.86V1158.14M1472.74 1137.86H1489.06M1472.74 1158.14H1489.06" fill="none" stroke="#fe0000" stroke-width="1.8" />
<circle cx="1480.9" cy="1118.88" r="3.1" fill="#fe0000"/>
<circle cx="1480.9" cy="1129.35" r="3.1" fill="#fe0000"/>
<circle cx="1480.9" cy="1142.44" r="3.1" fill="#fe0000"/>
<circle cx="1480.9" cy="1148.66" r="3.1" fill="#fe0000"/>
<circle cx="1480.9" cy="1158.47" r="3.1" fill="#fe0000"/>
<circle cx="1480.9" cy="1189.23" r="3.1" fill="#fe0000"/>
<rect x="1548.85" y="1231.67" width="27" height="87.13" fill="#fff" stroke="#fe0000" stroke-width="4.4" />
<path d="M1562.35 1217.7V1237.98M1554.19 1217.7H1570.51M1554.19 1237.98H1570.51" fill="none" stroke="#fe0000" stroke-width="1.8" />
<circle cx="1562.35" cy="1191.19" r="3.1" fill="#fe0000"/>
<circle cx="1562.35" cy="1208.21" r="3.1" fill="#fe0000"/>
<circle cx="1562.35" cy="1221.95" r="3.1" fill="#fe0000"/>
<circle cx="1556.68" cy="1240.93" r="3.1" fill="#fe0000"/>
<circle cx="1567.75" cy="1246.82" r="3.1" fill="#fe0000"/>
<circle cx="1562.35" cy="1259.9" r="3.1" fill="#fe0000"/>
<line x1="1112.1" y1="977.6" x2="1146" y2="977.6" stroke="#000" stroke-width="4.6" stroke-linecap="round" />
<line x1="1199.8" y1="977.6" x2="1234.5" y2="977.6" stroke="#000" stroke-width="4.6" stroke-linecap="round" />
<line x1="1283.5" y1="1072.3" x2="1317" y2="1072.3" stroke="#000" stroke-width="4.6" stroke-linecap="round" />
<line x1="1367.6" y1="1156.9" x2="1399.6" y2="1156.9" stroke="#000" stroke-width="4.6" stroke-linecap="round" />
<line x1="1444.3" y1="1072.3" x2="1478.2" y2="1072.3" stroke="#000" stroke-width="4.6" stroke-linecap="round" />
<line x1="1526.8" y1="1158.4" x2="1558.7" y2="1158.4" stroke="#000" stroke-width="4.6" stroke-linecap="round" />
<text x="1088.74" y="961.1"  font-size="23.27" font-style="italic" fill="#111" textLength="82.4" lengthAdjust="spacingAndGlyphs" >P&lt;0.001</text>
<text x="1176.33" y="961.1"  font-size="23.5" font-style="italic" fill="#111" textLength="83.23" lengthAdjust="spacingAndGlyphs" >P&lt;0.001</text>
<text x="1259.73" y="1056.2"  font-size="23.5" font-style="italic" fill="#111" textLength="83.23" lengthAdjust="spacingAndGlyphs" >P&lt;0.001</text>
<text x="1348.13" y="1140"  font-size="23.71" font-style="italic" fill="#111" textLength="71.51" lengthAdjust="spacingAndGlyphs" >P=.004</text>
<text x="1420.83" y="1056.2"  font-size="23.5" font-style="italic" fill="#111" textLength="83.23" lengthAdjust="spacingAndGlyphs" >P&lt;0.001</text>
<text x="1507.34" y="1141.9"  font-size="23.42" font-style="italic" fill="#111" textLength="70.65" lengthAdjust="spacingAndGlyphs" >P=.002</text>
<text x="1115.39" y="1345.5"  font-size="21.66" font-weight="bold" font-style="italic" textLength="47.52" lengthAdjust="spacingAndGlyphs" >Atgl</text>
<text x="1200.92" y="1345.5"  font-size="21.66" font-weight="bold" font-style="italic" textLength="37.33" lengthAdjust="spacingAndGlyphs" >Hsl</text>
<text x="1266.79" y="1345.5"  font-size="21.66" font-weight="bold" font-style="italic" textLength="70.44" lengthAdjust="spacingAndGlyphs" >Adrb3</text>
<text x="1346.3" y="1345.5"  font-size="22.75" font-weight="bold" font-style="italic" textLength="73.28" lengthAdjust="spacingAndGlyphs" >Pgc1a</text>
<text x="1434.6" y="1345.5"  font-size="22.75" font-weight="bold" font-style="italic" textLength="60.98" lengthAdjust="spacingAndGlyphs" >Ucp1</text>
<text x="1516.09" y="1345.5"  font-size="21.66" font-weight="bold" font-style="italic" textLength="58.47" lengthAdjust="spacingAndGlyphs" >Tfam</text>
<line x1="1075.6" y1="1318.8" x2="1594.5" y2="1318.8" stroke="#000" stroke-width="4.4" />
<text x="1058.36" y="1328"  font-size="26.29" font-weight="bold" >0</text>
<text x="1058.36" y="1262.56"  font-size="26.29" font-weight="bold" >2</text>
<text x="1057.23" y="1197.12"  font-size="26.67" font-weight="bold" >4</text>
<text x="1058.23" y="1131.68"  font-size="26.29" font-weight="bold" >6</text>
<text x="1058.1" y="1066.24"  font-size="26.29" font-weight="bold" >8</text>
<text x="1043.77" y="1000.8"  font-size="26.29" font-weight="bold" >10</text>
<line x1="1122.8" y1="1354.2" x2="1337.8" y2="1354.2" stroke="#000" stroke-width="3.5" />
<line x1="1355.9" y1="1354.2" x2="1570.9" y2="1354.2" stroke="#000" stroke-width="3.5" />
<text x="1172.34" y="1389.6"  font-size="35.19" textLength="127.32" lengthAdjust="spacingAndGlyphs" >Lipolysis</text>
<text x="1348.94" y="1389.6"  font-size="35.05" textLength="227.9" lengthAdjust="spacingAndGlyphs" >Thermogenesis</text>
<text x="947.25" y="959.1"  font-size="45.57" textLength="39.66" lengthAdjust="spacingAndGlyphs" >G</text>
<text x="1268.18" y="949.3"  font-size="32.9" font-weight="bold" textLength="147.68" lengthAdjust="spacingAndGlyphs" >HFD iWAT</text>
<text x="0" y="0" transform="translate(1029,1348.01) rotate(-90)" font-size="27.9" font-weight="bold" textLength="384.26" lengthAdjust="spacingAndGlyphs" >Relative expression/TBP (A.U.)</text>
<circle cx="1485.6" cy="965" r="3.2" fill="#000"/>
<circle cx="1485.6" cy="1010.2" r="3.2" fill="#fe0000"/>
<text x="1522.87" y="974"  font-size="27.71" textLength="40.65" lengthAdjust="spacingAndGlyphs" >WT</text>
<text x="1520.73" y="1019.3"  font-size="30.07" textLength="40.98" lengthAdjust="spacingAndGlyphs" >KO</text>
<line x1="104.4" y1="1455.1" x2="104.4" y2="1772.7" stroke="#000" stroke-width="4.6" />
<line x1="89.4" y1="1770.4" x2="104.4" y2="1770.4" stroke="#000" stroke-width="4.6" />
<line x1="89.4" y1="1692.15" x2="104.4" y2="1692.15" stroke="#000" stroke-width="4.6" />
<line x1="89.4" y1="1613.9" x2="104.4" y2="1613.9" stroke="#000" stroke-width="4.6" />
<line x1="89.4" y1="1535.65" x2="104.4" y2="1535.65" stroke="#000" stroke-width="4.6" />
<line x1="89.4" y1="1457.4" x2="104.4" y2="1457.4" stroke="#000" stroke-width="4.6" />
<line x1="89.4" y1="1770.4" x2="589.7" y2="1770.4" stroke="#000" stroke-width="4.3" />
<rect x="123.4" y="1756.65" width="26.8" height="13.75" fill="#fff" stroke="#000" stroke-width="3.8" />
<circle cx="125.6" cy="1753.05" r="2.6" fill="#000"/>
<circle cx="130.08" cy="1754.45" r="2.6" fill="#000"/>
<circle cx="134.56" cy="1753.05" r="2.6" fill="#000"/>
<circle cx="139.04" cy="1754.45" r="2.6" fill="#000"/>
<circle cx="143.52" cy="1753.05" r="2.6" fill="#000"/>
<circle cx="148" cy="1754.45" r="2.6" fill="#000"/>
<rect x="201.9" y="1756.65" width="26.8" height="13.75" fill="#fff" stroke="#000" stroke-width="3.8" />
<circle cx="204.1" cy="1753.05" r="2.6" fill="#000"/>
<circle cx="208.58" cy="1754.45" r="2.6" fill="#000"/>
<circle cx="213.06" cy="1753.05" r="2.6" fill="#000"/>
<circle cx="217.54" cy="1754.45" r="2.6" fill="#000"/>
<circle cx="222.02" cy="1753.05" r="2.6" fill="#000"/>
<circle cx="226.5" cy="1754.45" r="2.6" fill="#000"/>
<rect x="280.4" y="1756.65" width="26.8" height="13.75" fill="#fff" stroke="#000" stroke-width="3.8" />
<circle cx="282.6" cy="1753.05" r="2.6" fill="#000"/>
<circle cx="287.08" cy="1754.45" r="2.6" fill="#000"/>
<circle cx="291.56" cy="1753.05" r="2.6" fill="#000"/>
<circle cx="296.04" cy="1754.45" r="2.6" fill="#000"/>
<circle cx="300.52" cy="1753.05" r="2.6" fill="#000"/>
<circle cx="305" cy="1754.45" r="2.6" fill="#000"/>
<rect x="358.9" y="1756.65" width="26.8" height="13.75" fill="#fff" stroke="#000" stroke-width="3.8" />
<circle cx="361.1" cy="1753.05" r="2.6" fill="#000"/>
<circle cx="365.58" cy="1754.45" r="2.6" fill="#000"/>
<circle cx="370.06" cy="1753.05" r="2.6" fill="#000"/>
<circle cx="374.54" cy="1754.45" r="2.6" fill="#000"/>
<circle cx="379.02" cy="1753.05" r="2.6" fill="#000"/>
<circle cx="383.5" cy="1754.45" r="2.6" fill="#000"/>
<rect x="437.4" y="1756.65" width="26.8" height="13.75" fill="#fff" stroke="#000" stroke-width="3.8" />
<circle cx="439.6" cy="1753.05" r="2.6" fill="#000"/>
<circle cx="444.08" cy="1754.45" r="2.6" fill="#000"/>
<circle cx="448.56" cy="1753.05" r="2.6" fill="#000"/>
<circle cx="453.04" cy="1754.45" r="2.6" fill="#000"/>
<circle cx="457.52" cy="1753.05" r="2.6" fill="#000"/>
<circle cx="462" cy="1754.45" r="2.6" fill="#000"/>
<rect x="515.9" y="1756.65" width="26.8" height="13.75" fill="#fff" stroke="#000" stroke-width="3.8" />
<circle cx="518.1" cy="1753.05" r="2.6" fill="#000"/>
<circle cx="522.58" cy="1754.45" r="2.6" fill="#000"/>
<circle cx="527.06" cy="1753.05" r="2.6" fill="#000"/>
<circle cx="531.54" cy="1754.45" r="2.6" fill="#000"/>
<circle cx="536.02" cy="1753.05" r="2.6" fill="#000"/>
<circle cx="540.5" cy="1754.45" r="2.6" fill="#000"/>
<rect x="154.1" y="1734.73" width="26.1" height="35.67" fill="#fff" stroke="#fe0000" stroke-width="4.4" />
<path d="M167.15 1727.36V1735.97M159.22 1727.36H175.08M159.22 1735.97H175.08" fill="none" stroke="#fe0000" stroke-width="1.8" />
<circle cx="156.71" cy="1725.33" r="3.1" fill="#fe0000"/>
<circle cx="167.15" cy="1723.92" r="3.1" fill="#fe0000"/>
<circle cx="178.63" cy="1728.61" r="3.1" fill="#fe0000"/>
<circle cx="157.23" cy="1741.45" r="3.1" fill="#fe0000"/>
<circle cx="167.15" cy="1732.84" r="3.1" fill="#fe0000"/>
<circle cx="174.98" cy="1735.97" r="3.1" fill="#fe0000"/>
<rect x="232.6" y="1704.84" width="26.1" height="65.56" fill="#fff" stroke="#fe0000" stroke-width="4.4" />
<path d="M245.65 1696.85V1706.24M237.72 1696.85H253.58M237.72 1706.24H253.58" fill="none" stroke="#fe0000" stroke-width="1.8" />
<circle cx="234.69" cy="1697.63" r="3.1" fill="#fe0000"/>
<circle cx="245.65" cy="1693.87" r="3.1" fill="#fe0000"/>
<circle cx="256.09" cy="1694.03" r="3.1" fill="#fe0000"/>
<circle cx="256.09" cy="1701.23" r="3.1" fill="#fe0000"/>
<circle cx="250.87" cy="1709.52" r="3.1" fill="#fe0000"/>
<circle cx="240.43" cy="1715.16" r="3.1" fill="#fe0000"/>
<rect x="311.1" y="1655.38" width="26.1" height="115.02" fill="#fff" stroke="#fe0000" stroke-width="4.4" />
<path d="M324.15 1643.17V1660.07M316.22 1643.17H332.08M316.22 1660.07H332.08" fill="none" stroke="#fe0000" stroke-width="1.8" />
<circle cx="324.15" cy="1615.93" r="3.1" fill="#fe0000"/>
<circle cx="318.93" cy="1646.92" r="3.1" fill="#fe0000"/>
<circle cx="329.37" cy="1650.05" r="3.1" fill="#fe0000"/>
<circle cx="324.15" cy="1663.2" r="3.1" fill="#fe0000"/>
<circle cx="324.15" cy="1679.47" r="3.1" fill="#fe0000"/>
<circle cx="324.15" cy="1654.59" r="3.1" fill="#fe0000"/>
<rect x="389.6" y="1739.42" width="26.1" height="30.98" fill="#fff" stroke="#fe0000" stroke-width="4.4" />
<path d="M402.65 1732.06V1740.67M394.72 1732.06H410.58M394.72 1740.67H410.58" fill="none" stroke="#fe0000" stroke-width="1.8" />
<circle cx="391.95" cy="1728.61" r="3.1" fill="#fe0000"/>
<circle cx="413.35" cy="1725.64" r="3.1" fill="#fe0000"/>
<circle cx="402.65" cy="1733.94" r="3.1" fill="#fe0000"/>
<circle cx="402.65" cy="1741.13" r="3.1" fill="#fe0000"/>
<circle cx="402.65" cy="1737.54" r="3.1" fill="#fe0000"/>
<circle cx="407.87" cy="1735.97" r="3.1" fill="#fe0000"/>
<rect x="468.1" y="1663.99" width="26.1" height="106.41" fill="#fff" stroke="#fe0000" stroke-width="4.4" />
<path d="M481.15 1653.81V1667.11M473.22 1653.81H489.08M473.22 1667.11H489.08" fill="none" stroke="#fe0000" stroke-width="1.8" />
<circle cx="470.45" cy="1647.08" r="3.1" fill="#fe0000"/>
<circle cx="492.11" cy="1647.08" r="3.1" fill="#fe0000"/>
<circle cx="481.15" cy="1650.36" r="3.1" fill="#fe0000"/>
<circle cx="481.15" cy="1671.02" r="3.1" fill="#fe0000"/>
<circle cx="481.15" cy="1678.85" r="3.1" fill="#fe0000"/>
<circle cx="481.15" cy="1662.41" r="3.1" fill="#fe0000"/>
<rect x="546.6" y="1582.77" width="26.1" height="187.63" fill="#fff" stroke="#fe0000" stroke-width="4.4" />
<path d="M559.65 1556.93V1600.6M551.72 1556.93H567.58M551.72 1600.6H567.58" fill="none" stroke="#fe0000" stroke-width="1.8" />
<circle cx="559.65" cy="1506.23" r="3.1" fill="#fe0000"/>
<circle cx="559.65" cy="1522.03" r="3.1" fill="#fe0000"/>
<circle cx="559.65" cy="1577.28" r="3.1" fill="#fe0000"/>
<circle cx="554.43" cy="1615.93" r="3.1" fill="#fe0000"/>
<circle cx="564.87" cy="1619.53" r="3.1" fill="#fe0000"/>
<circle cx="559.65" cy="1632.37" r="3.1" fill="#fe0000"/>
<line x1="131.7" y1="1702.4" x2="164.6" y2="1702.4" stroke="#000" stroke-width="4.6" stroke-linecap="round" />
<line x1="210.7" y1="1677.4" x2="243.6" y2="1677.4" stroke="#000" stroke-width="4.6" stroke-linecap="round" />
<line x1="288.2" y1="1597" x2="321.1" y2="1597" stroke="#000" stroke-width="4.6" stroke-linecap="round" />
<line x1="366.8" y1="1705.2" x2="400.5" y2="1705.2" stroke="#000" stroke-width="4.6" stroke-linecap="round" />
<line x1="445.5" y1="1619.1" x2="479.1" y2="1619.1" stroke="#000" stroke-width="4.6" stroke-linecap="round" />
<line x1="524.1" y1="1486.9" x2="557.7" y2="1486.9" stroke="#000" stroke-width="4.6" stroke-linecap="round" />
<text x="108.35" y="1686.3"  font-size="22.92" font-style="italic" fill="#111" textLength="81.16" lengthAdjust="spacingAndGlyphs" >P&lt;0.001</text>
<text x="181.65" y="1661.3"  font-size="22.84" font-style="italic" fill="#111" textLength="92.87" lengthAdjust="spacingAndGlyphs" >P&lt;0.0001</text>
<text x="265.66" y="1580.9"  font-size="22.6" font-style="italic" fill="#111" textLength="80.03" lengthAdjust="spacingAndGlyphs" >P&lt;0.001</text>
<text x="344.26" y="1688.8"  font-size="22.72" font-style="italic" fill="#111" textLength="80.44" lengthAdjust="spacingAndGlyphs" >P&lt;0.001</text>
<text x="416.76" y="1603"  font-size="22.77" font-style="italic" fill="#111" textLength="92.56" lengthAdjust="spacingAndGlyphs" >P&lt;0.0001</text>
<text x="495.46" y="1471.9"  font-size="22.56" font-style="italic" fill="#111" textLength="91.74" lengthAdjust="spacingAndGlyphs" >P&lt;0.0001</text>
<text x="117.43" y="1797.1"  font-size="23.33" font-weight="bold" font-style="italic" >Pgc1a</text>
<text x="200.47" y="1797.1"  font-size="23.33" font-weight="bold" font-style="italic" textLength="58.14" lengthAdjust="spacingAndGlyphs" >Ucp1</text>
<text x="280.65" y="1797.1"  font-size="22.21" font-weight="bold" font-style="italic" textLength="56.27" lengthAdjust="spacingAndGlyphs" >Tfam</text>
<text x="353.33" y="1797.1"  font-size="23.33" font-weight="bold" font-style="italic" >Pgc1a</text>
<text x="436.36" y="1797.1"  font-size="23.33" font-weight="bold" font-style="italic" textLength="58.88" lengthAdjust="spacingAndGlyphs" >Ucp1</text>
<text x="515.85" y="1797.1"  font-size="22.21" font-weight="bold" font-style="italic" textLength="56.17" lengthAdjust="spacingAndGlyphs" >Tfam</text>
<line x1="89.4" y1="1770.4" x2="589.7" y2="1770.4" stroke="#000" stroke-width="4.3" />
<text x="74.39" y="1778.9"  font-size="24.29" font-weight="bold" >0</text>
<text x="73.84" y="1700.65"  font-size="24.64" font-weight="bold" >5</text>
<text x="60.91" y="1622.4"  font-size="24.29" font-weight="bold" >10</text>
<text x="60.17" y="1544.15"  font-size="24.64" font-weight="bold" >15</text>
<text x="60.91" y="1465.9"  font-size="24.29" font-weight="bold" >20</text>
<line x1="121.5" y1="1810.3" x2="332.4" y2="1810.3" stroke="#000" stroke-width="3.5" />
<line x1="355.6" y1="1810.3" x2="560" y2="1810.3" stroke="#000" stroke-width="3.5" />
<text x="202.68" y="1843.5"  font-size="37.43" textLength="66.06" lengthAdjust="spacingAndGlyphs" >BAT</text>
<text x="415.87" y="1843.5"  font-size="37.96" textLength="83.54" lengthAdjust="spacingAndGlyphs" >iWAT</text>
<text x="13.81" y="1406.5"  font-size="43.62" textLength="36.88" lengthAdjust="spacingAndGlyphs" >H</text>
<text x="321.41" y="1416.5"  font-size="32.46" font-weight="bold" textLength="59.54" lengthAdjust="spacingAndGlyphs" >LFD</text>
<text x="0" y="0" transform="translate(43,1798.74) rotate(-90)" font-size="26.81" font-weight="bold" textLength="369.14" lengthAdjust="spacingAndGlyphs" >Relative expression/TBP (A.U.)</text>
<circle cx="125.7" cy="1462.1" r="3.2" fill="#000"/>
<circle cx="125.7" cy="1505.8" r="3.2" fill="#fe0000"/>
<text x="161.37" y="1471.1"  font-size="26.74" textLength="39.22" lengthAdjust="spacingAndGlyphs" >WT</text>
<text x="159.3" y="1514.7"  font-size="29.1" textLength="39.66" lengthAdjust="spacingAndGlyphs" >KO</text>
<rect x="971.9" y="1672.6" width="53.8" height="162.4" fill="#fff" stroke="#000" stroke-width="4.4" />
<rect x="1031.2" y="1590.4" width="53.8" height="244.6" fill="#fff" stroke="#fe0000" stroke-width="4.4" />
<line x1="939.9" y1="1487.95" x2="939.9" y2="1836.85" stroke="#000" stroke-width="3.7" />
<line x1="924.9" y1="1835" x2="939.9" y2="1835" stroke="#000" stroke-width="3.7" />
<line x1="924.9" y1="1765.96" x2="939.9" y2="1765.96" stroke="#000" stroke-width="3.7" />
<line x1="924.9" y1="1696.92" x2="939.9" y2="1696.92" stroke="#000" stroke-width="3.7" />
<line x1="924.9" y1="1627.88" x2="939.9" y2="1627.88" stroke="#000" stroke-width="3.7" />
<line x1="924.9" y1="1558.84" x2="939.9" y2="1558.84" stroke="#000" stroke-width="3.7" />
<line x1="924.9" y1="1489.8" x2="939.9" y2="1489.8" stroke="#000" stroke-width="3.7" />
<line x1="924.9" y1="1835" x2="1117.3" y2="1835" stroke="#000" stroke-width="3.7" />
<path d="M998.8 1660.2V1679.9M983.3 1660.2H1014.3M983.3 1679.9H1014.3" fill="none" stroke="#000" stroke-width="1.9" />
<path d="M1058.1 1573.5V1600M1042.6 1573.5H1073.6M1042.6 1600H1073.6" fill="none" stroke="#fe0000" stroke-width="1.9" />
<circle cx="991.6" cy="1640.3" r="3.3" fill="#000"/>
<circle cx="1005.2" cy="1645.3" r="3.3" fill="#000"/>
<circle cx="998.9" cy="1658.4" r="3.3" fill="#000"/>
<circle cx="998.4" cy="1687.8" r="3.3" fill="#000"/>
<circle cx="984.8" cy="1694.6" r="3.3" fill="#000"/>
<circle cx="1012" cy="1692.4" r="3.3" fill="#000"/>
<circle cx="1058" cy="1537.3" r="3.3" fill="#fe0000"/>
<circle cx="1058" cy="1555.4" r="3.3" fill="#fe0000"/>
<circle cx="1058" cy="1593.9" r="3.3" fill="#fe0000"/>
<circle cx="1043.7" cy="1613.1" r="3.3" fill="#fe0000"/>
<circle cx="1058" cy="1609.7" r="3.3" fill="#fe0000"/>
<circle cx="1072" cy="1612.7" r="3.3" fill="#fe0000"/>
<line x1="992.8" y1="1514.2" x2="1055" y2="1514.2" stroke="#000" stroke-width="4.6" stroke-linecap="round" />
<text x="980.3" y="1497.7"  font-size="24.87" font-style="italic" fill="#111" textLength="88.08" lengthAdjust="spacingAndGlyphs" >P&lt;0.001</text>
<text x="908" y="1844.65"  font-size="27.57" font-weight="bold" >0</text>
<text x="877.4" y="1775.61"  font-size="27.57" font-weight="bold" >200</text>
<text x="877.4" y="1706.57"  font-size="27.57" font-weight="bold" >400</text>
<text x="877.4" y="1637.53"  font-size="27.57" font-weight="bold" >600</text>
<text x="877.4" y="1568.49"  font-size="27.57" font-weight="bold" >800</text>
<text x="861.96" y="1499.45"  font-size="27.57" font-weight="bold" >1000</text>
<text x="788.27" y="1459.2"  font-size="45.94" >I</text>
<text x="935.16" y="1440"  font-size="34.93" font-weight="bold" textLength="173.27" lengthAdjust="spacingAndGlyphs" >LFD BAT O</text>
<text x="1108.47" y="1447.9"  font-size="25.18" font-weight="bold" textLength="13.21" lengthAdjust="spacingAndGlyphs" >2</text>
<text x="0" y="0" transform="translate(821.5,1808.92) rotate(-90)" font-size="29.73" font-weight="bold" textLength="291.39" lengthAdjust="spacingAndGlyphs" >Oxygen Consumption</text>
<text x="0" y="0" transform="translate(857,1809.2) rotate(-90)" font-size="29.78" font-weight="bold" textLength="290.28" lengthAdjust="spacingAndGlyphs" >(pmol/min/mg tissue )</text>
<rect x="1334.9" y="1702.6" width="52.1" height="131.22" fill="#fff" stroke="#000" stroke-width="4.4" />
<rect x="1392.8" y="1645.5" width="53.3" height="188.32" fill="#fff" stroke="#fe0000" stroke-width="4.4" />
<line x1="1302.6" y1="1488.4" x2="1302.6" y2="1835.72" stroke="#000" stroke-width="3.8" />
<line x1="1288.6" y1="1833.82" x2="1302.6" y2="1833.82" stroke="#000" stroke-width="3.8" />
<line x1="1288.6" y1="1747.94" x2="1302.6" y2="1747.94" stroke="#000" stroke-width="3.8" />
<line x1="1288.6" y1="1662.06" x2="1302.6" y2="1662.06" stroke="#000" stroke-width="3.8" />
<line x1="1288.6" y1="1576.18" x2="1302.6" y2="1576.18" stroke="#000" stroke-width="3.8" />
<line x1="1288.6" y1="1490.3" x2="1302.6" y2="1490.3" stroke="#000" stroke-width="3.8" />
<line x1="1288.6" y1="1833.82" x2="1478" y2="1833.82" stroke="#000" stroke-width="3.8" />
<path d="M1364.4 1683V1714.7M1352.4 1683H1376.4M1352.4 1714.7H1376.4" fill="none" stroke="#000" stroke-width="1.9" />
<path d="M1419.9 1627V1656.8M1405.4 1627H1434.4M1405.4 1656.8H1434.4" fill="none" stroke="#fe0000" stroke-width="1.9" />
<circle cx="1347" cy="1661.1" r="3.3" fill="#000"/>
<circle cx="1361.3" cy="1665.9" r="3.3" fill="#000"/>
<circle cx="1375.1" cy="1663.5" r="3.3" fill="#000"/>
<circle cx="1361.3" cy="1726.6" r="3.3" fill="#000"/>
<circle cx="1361.3" cy="1735" r="3.3" fill="#000"/>
<circle cx="1361.3" cy="1742.1" r="3.3" fill="#000"/>
<circle cx="1419.7" cy="1585.4" r="3.3" fill="#fe0000"/>
<circle cx="1419.7" cy="1604.4" r="3.3" fill="#fe0000"/>
<circle cx="1426.8" cy="1658.3" r="3.3" fill="#fe0000"/>
<circle cx="1412.5" cy="1664.7" r="3.3" fill="#fe0000"/>
<circle cx="1426.8" cy="1665.9" r="3.3" fill="#fe0000"/>
<circle cx="1412.5" cy="1672.6" r="3.3" fill="#fe0000"/>
<line x1="1358.8" y1="1550.8" x2="1416.2" y2="1550.8" stroke="#000" stroke-width="4.6" stroke-linecap="round" />
<text x="1339.22" y="1536"  font-size="24" font-style="italic" fill="#111" textLength="97.59" lengthAdjust="spacingAndGlyphs" >P=0.0267</text>
<text x="1270.8" y="1843.47"  font-size="27.57" font-weight="bold" >0</text>
<text x="1240.2" y="1757.59"  font-size="27.57" font-weight="bold" >100</text>
<text x="1240.2" y="1671.71"  font-size="27.57" font-weight="bold" >200</text>
<text x="1240.2" y="1585.83"  font-size="27.57" font-weight="bold" >300</text>
<text x="1240.2" y="1499.95"  font-size="27.57" font-weight="bold" >400</text>
<text x="1290.07" y="1440.7"  font-size="34.76" font-weight="bold" textLength="187.03" lengthAdjust="spacingAndGlyphs" >LFD iWAT O</text>
<text x="1476.7" y="1449.1"  font-size="27.38" font-weight="bold" textLength="14.37" lengthAdjust="spacingAndGlyphs" >2</text>
<text x="0" y="0" transform="translate(1194,1807.52) rotate(-90)" font-size="29.56" font-weight="bold" textLength="289.77" lengthAdjust="spacingAndGlyphs" >Oxygen Consumption</text>
<text x="0" y="0" transform="translate(1229,1806.69) rotate(-90)" font-size="29.49" font-weight="bold" textLength="287.46" lengthAdjust="spacingAndGlyphs" >(pmol/min/mg tissue )</text>
<circle cx="1483.5" cy="1517.7" r="3.4" fill="#000"/>
<circle cx="1483.5" cy="1553.9" r="3.4" fill="#fe0000"/>
<text x="1523.16" y="1527.2"  font-size="29.44" textLength="43.19" lengthAdjust="spacingAndGlyphs" >WT</text>
<text x="1521.52" y="1563.2"  font-size="31.52" textLength="42.96" lengthAdjust="spacingAndGlyphs" >KO</text>
<line x1="105.6" y1="1889.25" x2="105.6" y2="2209.55" stroke="#000" stroke-width="4.5" />
<line x1="92.2" y1="2207.3" x2="105.6" y2="2207.3" stroke="#000" stroke-width="4.5" />
<line x1="92.2" y1="2162.19" x2="105.6" y2="2162.19" stroke="#000" stroke-width="4.5" />
<line x1="92.2" y1="2117.07" x2="105.6" y2="2117.07" stroke="#000" stroke-width="4.5" />
<line x1="92.2" y1="2071.96" x2="105.6" y2="2071.96" stroke="#000" stroke-width="4.5" />
<line x1="92.2" y1="2026.85" x2="105.6" y2="2026.85" stroke="#000" stroke-width="4.5" />
<line x1="92.2" y1="1981.73" x2="105.6" y2="1981.73" stroke="#000" stroke-width="4.5" />
<line x1="92.2" y1="1936.62" x2="105.6" y2="1936.62" stroke="#000" stroke-width="4.5" />
<line x1="92.2" y1="1891.5" x2="105.6" y2="1891.5" stroke="#000" stroke-width="4.5" />
<line x1="92.4" y1="2207.3" x2="585" y2="2207.3" stroke="#000" stroke-width="4" />
<line x1="104.7" y1="2207.3" x2="104.7" y2="2222.6" stroke="#000" stroke-width="4.5" />
<line x1="141.46" y1="2207.3" x2="141.46" y2="2222.6" stroke="#000" stroke-width="4.5" />
<line x1="178.22" y1="2207.3" x2="178.22" y2="2222.6" stroke="#000" stroke-width="4.5" />
<line x1="214.98" y1="2207.3" x2="214.98" y2="2222.6" stroke="#000" stroke-width="4.5" />
<line x1="251.74" y1="2207.3" x2="251.74" y2="2222.6" stroke="#000" stroke-width="4.5" />
<line x1="288.5" y1="2207.3" x2="288.5" y2="2222.6" stroke="#000" stroke-width="4.5" />
<line x1="325.26" y1="2207.3" x2="325.26" y2="2222.6" stroke="#000" stroke-width="4.5" />
<line x1="362.02" y1="2207.3" x2="362.02" y2="2222.6" stroke="#000" stroke-width="4.5" />
<line x1="398.78" y1="2207.3" x2="398.78" y2="2222.6" stroke="#000" stroke-width="4.5" />
<line x1="435.54" y1="2207.3" x2="435.54" y2="2222.6" stroke="#000" stroke-width="4.5" />
<line x1="472.3" y1="2207.3" x2="472.3" y2="2222.6" stroke="#000" stroke-width="4.5" />
<line x1="509.06" y1="2207.3" x2="509.06" y2="2222.6" stroke="#000" stroke-width="4.5" />
<line x1="545.82" y1="2207.3" x2="545.82" y2="2222.6" stroke="#000" stroke-width="4.5" />
<line x1="582.58" y1="2207.3" x2="582.58" y2="2222.6" stroke="#000" stroke-width="4.5" />
<path d="M178.22 2086.4V2099.03M171.72 2086.4H184.72M171.72 2099.03H184.72" fill="none" stroke="#000" stroke-width="2.6" />
<path d="M214.98 2064.74V2082.79M208.48 2064.74H221.48M208.48 2082.79H221.48" fill="none" stroke="#000" stroke-width="2.6" />
<path d="M251.74 2042.18V2065.64M245.24 2042.18H258.24M245.24 2065.64H258.24" fill="none" stroke="#000" stroke-width="2.6" />
<path d="M288.5 2020.53V2049.4M282 2020.53H295M282 2049.4H295" fill="none" stroke="#000" stroke-width="2.6" />
<path d="M325.26 2001.58V2035.87M318.76 2001.58H331.76M318.76 2035.87H331.76" fill="none" stroke="#000" stroke-width="2.6" />
<path d="M362.02 1988.05V2024.14M355.52 1988.05H368.52M355.52 2024.14H368.52" fill="none" stroke="#000" stroke-width="2.6" />
<path d="M398.78 1971.8V2011.51M392.28 1971.8H405.28M392.28 2011.51H405.28" fill="none" stroke="#000" stroke-width="2.6" />
<path d="M435.54 1956.47V2001.58M429.04 1956.47H442.04M429.04 2001.58H442.04" fill="none" stroke="#000" stroke-width="2.6" />
<path d="M472.3 1931.2V1981.73M465.8 1931.2H478.8M465.8 1981.73H478.8" fill="none" stroke="#000" stroke-width="2.6" />
<path d="M509.06 1914.06V1964.59M502.56 1914.06H515.56M502.56 1964.59H515.56" fill="none" stroke="#000" stroke-width="2.6" />
<path d="M545.82 1897.82V1955.56M539.32 1897.82H552.32M539.32 1955.56H552.32" fill="none" stroke="#000" stroke-width="2.6" />
<path d="M582.58 1892.4V1950.15M576.08 1892.4H589.08M576.08 1950.15H589.08" fill="none" stroke="#000" stroke-width="2.6" />
<polyline points="104.7,2147.75 141.46,2112.56 178.22,2092.71 214.98,2073.76 251.74,2053.91 288.5,2034.97 325.26,2018.72 362.02,2006.09 398.78,1991.66 435.54,1979.02 472.3,1956.47 509.06,1939.32 545.82,1926.69 582.58,1921.28" fill="none" stroke="#000" stroke-width="2.9" stroke-linejoin="round" />
<circle cx="104.7" cy="2147.75" r="6.4" fill="#000"/>
<circle cx="141.46" cy="2112.56" r="6.4" fill="#000"/>
<circle cx="178.22" cy="2092.71" r="6.4" fill="#000"/>
<circle cx="214.98" cy="2073.76" r="6.4" fill="#000"/>
<circle cx="251.74" cy="2053.91" r="6.4" fill="#000"/>
<circle cx="288.5" cy="2034.97" r="6.4" fill="#000"/>
<circle cx="325.26" cy="2018.72" r="6.4" fill="#000"/>
<circle cx="362.02" cy="2006.09" r="6.4" fill="#000"/>
<circle cx="398.78" cy="1991.66" r="6.4" fill="#000"/>
<circle cx="435.54" cy="1979.02" r="6.4" fill="#000"/>
<circle cx="472.3" cy="1956.47" r="6.4" fill="#000"/>
<circle cx="509.06" cy="1939.32" r="6.4" fill="#000"/>
<circle cx="545.82" cy="1926.69" r="6.4" fill="#000"/>
<circle cx="582.58" cy="1921.28" r="6.4" fill="#000"/>
<path d="M398.78 2058.43V2072.86M392.28 2058.43H405.28M392.28 2072.86H405.28" fill="none" stroke="#fe0000" stroke-width="2.6" />
<path d="M435.54 2040.38V2054.82M429.04 2040.38H442.04M429.04 2054.82H442.04" fill="none" stroke="#fe0000" stroke-width="2.6" />
<path d="M472.3 2029.55V2045.79M465.8 2029.55H478.8M465.8 2045.79H478.8" fill="none" stroke="#fe0000" stroke-width="2.6" />
<path d="M509.06 2023.24V2044.89M502.56 2023.24H515.56M502.56 2044.89H515.56" fill="none" stroke="#fe0000" stroke-width="2.6" />
<path d="M545.82 2018.72V2045.79M539.32 2018.72H552.32M539.32 2045.79H552.32" fill="none" stroke="#fe0000" stroke-width="2.6" />
<path d="M582.58 2003.39V2026.85M576.08 2003.39H589.08M576.08 2026.85H589.08" fill="none" stroke="#fe0000" stroke-width="2.6" />
<polyline points="104.7,2159.48 141.46,2135.12 178.22,2124.29 214.98,2108.95 251.74,2097.22 288.5,2087.3 325.26,2080.08 362.02,2072.86 398.78,2065.64 435.54,2047.6 472.3,2037.67 509.06,2034.06 545.82,2032.26 582.58,2015.12" fill="none" stroke="#fe0000" stroke-width="2.9" stroke-linejoin="round" />
<rect x="98.4" y="2153.18" width="12.6" height="12.6" fill="#fe0000" />
<rect x="135.16" y="2128.82" width="12.6" height="12.6" fill="#fe0000" />
<rect x="171.92" y="2117.99" width="12.6" height="12.6" fill="#fe0000" />
<rect x="208.68" y="2102.65" width="12.6" height="12.6" fill="#fe0000" />
<rect x="245.44" y="2090.92" width="12.6" height="12.6" fill="#fe0000" />
<rect x="282.2" y="2081" width="12.6" height="12.6" fill="#fe0000" />
<rect x="318.96" y="2073.78" width="12.6" height="12.6" fill="#fe0000" />
<rect x="355.72" y="2066.56" width="12.6" height="12.6" fill="#fe0000" />
<rect x="392.48" y="2059.34" width="12.6" height="12.6" fill="#fe0000" />
<rect x="429.24" y="2041.3" width="12.6" height="12.6" fill="#fe0000" />
<rect x="466" y="2031.37" width="12.6" height="12.6" fill="#fe0000" />
<rect x="502.76" y="2027.76" width="12.6" height="12.6" fill="#fe0000" />
<rect x="539.52" y="2025.96" width="12.6" height="12.6" fill="#fe0000" />
<rect x="576.28" y="2008.82" width="12.6" height="12.6" fill="#fe0000" />
<text x="53.71" y="2218"  font-size="31.01" >15</text>
<text x="54.04" y="2172.89"  font-size="30.57" >20</text>
<text x="54.19" y="2127.77"  font-size="30.57" >25</text>
<text x="54.04" y="2082.66"  font-size="30.57" >30</text>
<text x="54.19" y="2037.55"  font-size="30.57" >35</text>
<text x="54.04" y="1992.43"  font-size="30.57" >40</text>
<text x="53.71" y="1947.32"  font-size="31.01" >45</text>
<text x="54.04" y="1902.2"  font-size="30.57" >50</text>
<text x="97.4" y="2253.4"  font-size="31.8" textLength="16.69" lengthAdjust="spacingAndGlyphs" >0</text>
<text x="132.42" y="2253.4"  font-size="31.8" textLength="16.69" lengthAdjust="spacingAndGlyphs" >1</text>
<text x="170.18" y="2253.4"  font-size="31.8" textLength="16.69" lengthAdjust="spacingAndGlyphs" >2</text>
<text x="207.58" y="2253.4"  font-size="31.8" textLength="16.69" lengthAdjust="spacingAndGlyphs" >3</text>
<text x="244.42" y="2253.4"  font-size="31.8" textLength="16.69" lengthAdjust="spacingAndGlyphs" >4</text>
<text x="281.07" y="2253.4"  font-size="31.8" textLength="16.69" lengthAdjust="spacingAndGlyphs" >5</text>
<text x="317.72" y="2253.4"  font-size="31.8" textLength="16.69" lengthAdjust="spacingAndGlyphs" >6</text>
<text x="354.68" y="2253.4"  font-size="31.8" textLength="16.69" lengthAdjust="spacingAndGlyphs" >7</text>
<text x="391.3" y="2253.4"  font-size="31.8" textLength="16.69" lengthAdjust="spacingAndGlyphs" >8</text>
<text x="428.07" y="2253.4"  font-size="31.8" textLength="16.69" lengthAdjust="spacingAndGlyphs" >9</text>
<text x="458.15" y="2253.4"  font-size="31.8" textLength="33.37" lengthAdjust="spacingAndGlyphs" >10</text>
<text x="493.92" y="2253.4"  font-size="31.8" textLength="31.14" lengthAdjust="spacingAndGlyphs" >11</text>
<text x="531.77" y="2253.4"  font-size="31.8" textLength="33.37" lengthAdjust="spacingAndGlyphs" >12</text>
<text x="568.43" y="2253.4"  font-size="31.8" textLength="33.37" lengthAdjust="spacingAndGlyphs" >13</text>
<text x="5.39" y="1887.4"  font-size="48.55" textLength="23.54" lengthAdjust="spacingAndGlyphs" >J</text>
<text x="274.33" y="1902.9"  font-size="35.34" textLength="174.49" lengthAdjust="spacingAndGlyphs" >HFD (30°C)</text>
<text x="267.4" y="2281.7"  font-size="31.88" textLength="185.47" lengthAdjust="spacingAndGlyphs" >Time (Weeks)</text>
<text x="0" y="0" transform="translate(37.5,2150.07) rotate(-90)" font-size="31.45" textLength="206.14" lengthAdjust="spacingAndGlyphs" >Body weight (g)</text>
<line x1="124.7" y1="1919" x2="177" y2="1919" stroke="#000" stroke-width="2.9" />
<circle cx="150.8" cy="1919" r="9.6" fill="#000"/>
<line x1="124.7" y1="1963.6" x2="177" y2="1963.6" stroke="#fe0000" stroke-width="2.9" />
<rect x="141.2" y="1954" width="19.2" height="19.4" fill="#fe0000" />
<text x="185.63" y="1928.3"  font-size="34.99" textLength="51.31" lengthAdjust="spacingAndGlyphs" >WT</text>
<text x="186.65" y="1971.8"  font-size="32.4" textLength="44.17" lengthAdjust="spacingAndGlyphs" >KO</text>
<line x1="178.7" y1="2145.2" x2="589.7" y2="2145.2" stroke="#000" stroke-width="2.6" />
<text x="319.61" y="2174.5"  font-size="27.69" textLength="98.06" lengthAdjust="spacingAndGlyphs" >P&lt;0.001</text>
<line x1="794.5" y1="1890.1" x2="794.5" y2="2216.1" stroke="#000" stroke-width="4.8" />
<line x1="783.6" y1="2213.7" x2="794.5" y2="2213.7" stroke="#000" stroke-width="4.8" />
<line x1="783.6" y1="2133.4" x2="794.5" y2="2133.4" stroke="#000" stroke-width="4.8" />
<line x1="783.6" y1="2053.1" x2="794.5" y2="2053.1" stroke="#000" stroke-width="4.8" />
<line x1="783.6" y1="1972.8" x2="794.5" y2="1972.8" stroke="#000" stroke-width="4.8" />
<line x1="783.6" y1="1892.5" x2="794.5" y2="1892.5" stroke="#000" stroke-width="4.8" />
<line x1="783.6" y1="2213.7" x2="1277.9" y2="2213.7" stroke="#000" stroke-width="4.8" />
<line x1="793.6" y1="2213.7" x2="793.6" y2="2222.5" stroke="#000" stroke-width="5" />
<line x1="931.5" y1="2213.7" x2="931.5" y2="2222.5" stroke="#000" stroke-width="5" />
<line x1="1069.4" y1="2213.7" x2="1069.4" y2="2222.5" stroke="#000" stroke-width="5" />
<line x1="1207.3" y1="2213.7" x2="1207.3" y2="2222.5" stroke="#000" stroke-width="5" />
<path d="M807.39 2214.7V2218.9M821.18 2214.7V2218.9M834.97 2214.7V2218.9M848.76 2214.7V2218.9M862.55 2214.7V2218.9M876.34 2214.7V2218.9M890.13 2214.7V2218.9M903.92 2214.7V2218.9M917.71 2214.7V2218.9M945.29 2214.7V2218.9M959.08 2214.7V2218.9M972.87 2214.7V2218.9M986.66 2214.7V2218.9M1000.45 2214.7V2218.9M1014.24 2214.7V2218.9M1028.03 2214.7V2218.9M1041.82 2214.7V2218.9M1055.61 2214.7V2218.9M1083.19 2214.7V2218.9M1096.98 2214.7V2218.9M1110.77 2214.7V2218.9M1124.56 2214.7V2218.9M1138.35 2214.7V2218.9M1152.14 2214.7V2218.9M1165.93 2214.7V2218.9M1179.72 2214.7V2218.9M1193.51 2214.7V2218.9M1221.09 2214.7V2218.9M1234.88 2214.7V2218.9M1248.67 2214.7V2218.9M1262.46 2214.7V2218.9M1276.25 2214.7V2218.9" fill="none" stroke="#000" stroke-width="4.6" />
<path d="M793.6 2148.66V2180.78M786.1 2148.66H801.1M786.1 2180.78H801.1" fill="none" stroke="#000" stroke-width="4.2" />
<path d="M814.28 2142.23V2177.57M806.78 2142.23H821.78M806.78 2177.57H821.78" fill="none" stroke="#000" stroke-width="4.2" />
<path d="M834.97 2135.01V2165.52M827.47 2135.01H842.47M827.47 2165.52H842.47" fill="none" stroke="#000" stroke-width="4.2" />
<path d="M855.65 2124.57V2153.47M848.15 2124.57H863.15M848.15 2153.47H863.15" fill="none" stroke="#000" stroke-width="4.2" />
<path d="M876.34 2131.79V2154.28M868.84 2131.79H883.84M868.84 2154.28H883.84" fill="none" stroke="#000" stroke-width="4.2" />
<path d="M897.02 2137.41V2164.72M889.52 2137.41H904.52M889.52 2164.72H904.52" fill="none" stroke="#000" stroke-width="4.2" />
<path d="M979.76 2185.59V2208.08M972.26 2185.59H987.26M972.26 2208.08H987.26" fill="none" stroke="#000" stroke-width="4.2" />
<path d="M1000.45 2130.19V2197.64M992.95 2130.19H1007.95M992.95 2197.64H1007.95" fill="none" stroke="#000" stroke-width="4.2" />
<path d="M1021.13 2077.99V2155.08M1013.63 2077.99H1028.63M1013.63 2155.08H1028.63" fill="none" stroke="#000" stroke-width="4.2" />
<path d="M1041.82 2053.9V2124.57M1034.32 2053.9H1049.32M1034.32 2124.57H1049.32" fill="none" stroke="#000" stroke-width="4.2" />
<path d="M1062.51 2045.07V2120.55M1055.01 2045.07H1070.01M1055.01 2120.55H1070.01" fill="none" stroke="#000" stroke-width="4.2" />
<path d="M1083.19 2041.86V2118.95M1075.69 2041.86H1090.69M1075.69 2118.95H1090.69" fill="none" stroke="#000" stroke-width="4.2" />
<path d="M1103.88 2066.75V2134.2M1096.38 2066.75H1111.38M1096.38 2134.2H1111.38" fill="none" stroke="#000" stroke-width="4.2" />
<path d="M1124.56 2063.54V2140.63M1117.06 2063.54H1132.06M1117.06 2140.63H1132.06" fill="none" stroke="#000" stroke-width="4.2" />
<path d="M1145.24 2077.99V2145.45M1137.74 2077.99H1152.74M1137.74 2145.45H1152.74" fill="none" stroke="#000" stroke-width="4.2" />
<path d="M1165.93 2088.43V2152.67M1158.43 2088.43H1173.43M1158.43 2152.67H1173.43" fill="none" stroke="#000" stroke-width="4.2" />
<path d="M1186.62 2097.26V2122.96M1179.12 2097.26H1194.12M1179.12 2122.96H1194.12" fill="none" stroke="#000" stroke-width="4.2" />
<path d="M1207.3 2078.8V2109.31M1199.8 2078.8H1214.8M1199.8 2109.31H1214.8" fill="none" stroke="#000" stroke-width="4.2" />
<path d="M1227.99 2106.9V2164.72M1220.49 2106.9H1235.49M1220.49 2164.72H1235.49" fill="none" stroke="#000" stroke-width="4.2" />
<path d="M1248.67 2102.08V2169.53M1241.17 2102.08H1256.17M1241.17 2169.53H1256.17" fill="none" stroke="#000" stroke-width="4.2" />
<path d="M1269.36 2088.43V2149.46M1261.86 2088.43H1276.86M1261.86 2149.46H1276.86" fill="none" stroke="#000" stroke-width="4.2" />
<polyline points="793.6,2164.72 814.28,2159.9 834.97,2150.26 855.65,2139.02 876.34,2143.04 897.02,2151.07 917.71,2171.94 938.39,2212.9" fill="none" stroke="#000" stroke-width="4.2" stroke-linejoin="round" />
<polyline points="979.76,2196.84 1000.45,2163.91 1021.13,2116.54 1041.82,2089.24 1062.51,2082.81 1083.19,2080.4 1103.88,2100.48 1124.56,2102.08 1145.24,2111.72 1165.93,2120.55 1186.62,2110.11 1207.3,2094.05 1227.99,2135.81 1248.67,2135.81 1269.36,2118.95" fill="none" stroke="#000" stroke-width="4.2" stroke-linejoin="round" />
<circle cx="793.6" cy="2164.72" r="6.3" fill="#000"/>
<circle cx="814.28" cy="2159.9" r="6.3" fill="#000"/>
<circle cx="834.97" cy="2150.26" r="6.3" fill="#000"/>
<circle cx="855.65" cy="2139.02" r="6.3" fill="#000"/>
<circle cx="876.34" cy="2143.04" r="6.3" fill="#000"/>
<circle cx="897.02" cy="2151.07" r="6.3" fill="#000"/>
<circle cx="917.71" cy="2171.94" r="6.3" fill="#000"/>
<circle cx="979.76" cy="2196.84" r="6.3" fill="#000"/>
<circle cx="1000.45" cy="2163.91" r="6.3" fill="#000"/>
<circle cx="1021.13" cy="2116.54" r="6.3" fill="#000"/>
<circle cx="1041.82" cy="2089.24" r="6.3" fill="#000"/>
<circle cx="1062.51" cy="2082.81" r="6.3" fill="#000"/>
<circle cx="1083.19" cy="2080.4" r="6.3" fill="#000"/>
<circle cx="1103.88" cy="2100.48" r="6.3" fill="#000"/>
<circle cx="1124.56" cy="2102.08" r="6.3" fill="#000"/>
<circle cx="1145.24" cy="2111.72" r="6.3" fill="#000"/>
<circle cx="1165.93" cy="2120.55" r="6.3" fill="#000"/>
<circle cx="1186.62" cy="2110.11" r="6.3" fill="#000"/>
<circle cx="1207.3" cy="2094.05" r="6.3" fill="#000"/>
<circle cx="1227.99" cy="2135.81" r="6.3" fill="#000"/>
<circle cx="1248.67" cy="2135.81" r="6.3" fill="#000"/>
<circle cx="1269.36" cy="2118.95" r="6.3" fill="#000"/>
<path d="M793.6 2097.26V2134.2M786.1 2097.26H801.1M786.1 2134.2H801.1" fill="none" stroke="#f7001c" stroke-width="4.2" />
<path d="M814.28 2095.66V2132.6M806.78 2095.66H821.78M806.78 2132.6H821.78" fill="none" stroke="#f7001c" stroke-width="4.2" />
<path d="M834.97 2090.84V2134.2M827.47 2090.84H842.47M827.47 2134.2H842.47" fill="none" stroke="#f7001c" stroke-width="4.2" />
<path d="M855.65 2092.45V2132.6M848.15 2092.45H863.15M848.15 2132.6H863.15" fill="none" stroke="#f7001c" stroke-width="4.2" />
<path d="M876.34 2098.07V2135.01M868.84 2098.07H883.84M868.84 2135.01H883.84" fill="none" stroke="#f7001c" stroke-width="4.2" />
<path d="M897.02 2086.83V2133.4M889.52 2086.83H904.52M889.52 2133.4H904.52" fill="none" stroke="#f7001c" stroke-width="4.2" />
<path d="M917.71 2141.43V2160.7M910.21 2141.43H925.21M910.21 2160.7H925.21" fill="none" stroke="#f7001c" stroke-width="4.2" />
<path d="M959.08 2171.14V2204.87M951.58 2171.14H966.58M951.58 2204.87H966.58" fill="none" stroke="#f7001c" stroke-width="4.2" />
<path d="M979.76 2075.58V2155.88M972.26 2075.58H987.26M972.26 2155.88H987.26" fill="none" stroke="#f7001c" stroke-width="4.2" />
<path d="M1000.45 2008.13V2070.77M992.95 2008.13H1007.95M992.95 2070.77H1007.95" fill="none" stroke="#f7001c" stroke-width="4.2" />
<path d="M1021.13 1980.83V2033.83M1013.63 1980.83H1028.63M1013.63 2033.83H1028.63" fill="none" stroke="#f7001c" stroke-width="4.2" />
<path d="M1041.82 1952.72V2007.33M1034.32 1952.72H1049.32M1034.32 2007.33H1049.32" fill="none" stroke="#f7001c" stroke-width="4.2" />
<path d="M1062.51 1935.86V1990.47M1055.01 1935.86H1070.01M1055.01 1990.47H1070.01" fill="none" stroke="#f7001c" stroke-width="4.2" />
<path d="M1083.19 1924.62V1990.47M1075.69 1924.62H1090.69M1075.69 1990.47H1090.69" fill="none" stroke="#f7001c" stroke-width="4.2" />
<path d="M1103.88 1943.09V1978.42M1096.38 1943.09H1111.38M1096.38 1978.42H1111.38" fill="none" stroke="#f7001c" stroke-width="4.2" />
<path d="M1124.56 1916.59V1971.19M1117.06 1916.59H1132.06M1117.06 1971.19H1132.06" fill="none" stroke="#f7001c" stroke-width="4.2" />
<path d="M1145.24 1914.18V1984.85M1137.74 1914.18H1152.74M1137.74 1984.85H1152.74" fill="none" stroke="#f7001c" stroke-width="4.2" />
<path d="M1165.93 1979.22V2000.1M1158.43 1979.22H1173.43M1158.43 2000.1H1173.43" fill="none" stroke="#f7001c" stroke-width="4.2" />
<path d="M1186.62 1969.59V2029.01M1179.12 1969.59H1194.12M1179.12 2029.01H1194.12" fill="none" stroke="#f7001c" stroke-width="4.2" />
<path d="M1207.3 1959.95V2035.43M1199.8 1959.95H1214.8M1199.8 2035.43H1214.8" fill="none" stroke="#f7001c" stroke-width="4.2" />
<path d="M1227.99 2012.95V2029.01M1220.49 2012.95H1235.49M1220.49 2029.01H1235.49" fill="none" stroke="#f7001c" stroke-width="4.2" />
<path d="M1248.67 2003.31V2057.92M1241.17 2003.31H1256.17M1241.17 2057.92H1256.17" fill="none" stroke="#f7001c" stroke-width="4.2" />
<path d="M1269.36 2004.12V2053.9M1261.86 2004.12H1276.86M1261.86 2053.9H1276.86" fill="none" stroke="#f7001c" stroke-width="4.2" />
<polyline points="793.6,2115.73 814.28,2114.13 834.97,2112.52 855.65,2112.52 876.34,2116.54 897.02,2110.11 917.71,2151.07 938.39,2211.29 959.08,2188 979.76,2115.73 1000.45,2039.45 1021.13,2007.33 1041.82,1980.03 1062.51,1963.16 1083.19,1957.54 1103.88,1960.76 1124.56,1943.89 1145.24,1949.51 1165.93,1989.66 1186.62,1999.3 1207.3,1997.69 1227.99,2020.98 1248.67,2030.62 1269.36,2029.01" fill="none" stroke="#f7001c" stroke-width="4.2" stroke-linejoin="round" />
<rect x="787.3" y="2109.43" width="12.6" height="12.6" fill="#f7001c" />
<rect x="807.99" y="2107.83" width="12.6" height="12.6" fill="#f7001c" />
<rect x="828.67" y="2106.22" width="12.6" height="12.6" fill="#f7001c" />
<rect x="849.36" y="2106.22" width="12.6" height="12.6" fill="#f7001c" />
<rect x="870.04" y="2110.24" width="12.6" height="12.6" fill="#f7001c" />
<rect x="890.73" y="2103.81" width="12.6" height="12.6" fill="#f7001c" />
<rect x="911.41" y="2144.77" width="12.6" height="12.6" fill="#f7001c" />
<rect x="932.1" y="2204.99" width="12.6" height="12.6" fill="#f7001c" />
<rect x="952.78" y="2181.7" width="12.6" height="12.6" fill="#f7001c" />
<rect x="973.47" y="2109.43" width="12.6" height="12.6" fill="#f7001c" />
<rect x="994.15" y="2033.15" width="12.6" height="12.6" fill="#f7001c" />
<rect x="1014.84" y="2001.03" width="12.6" height="12.6" fill="#f7001c" />
<rect x="1035.52" y="1973.73" width="12.6" height="12.6" fill="#f7001c" />
<rect x="1056.21" y="1956.86" width="12.6" height="12.6" fill="#f7001c" />
<rect x="1076.89" y="1951.24" width="12.6" height="12.6" fill="#f7001c" />
<rect x="1097.58" y="1954.46" width="12.6" height="12.6" fill="#f7001c" />
<rect x="1118.26" y="1937.59" width="12.6" height="12.6" fill="#f7001c" />
<rect x="1138.94" y="1943.21" width="12.6" height="12.6" fill="#f7001c" />
<rect x="1159.63" y="1983.36" width="12.6" height="12.6" fill="#f7001c" />
<rect x="1180.32" y="1993" width="12.6" height="12.6" fill="#f7001c" />
<rect x="1201" y="1991.39" width="12.6" height="12.6" fill="#f7001c" />
<rect x="1221.69" y="2014.68" width="12.6" height="12.6" fill="#f7001c" />
<rect x="1242.37" y="2024.32" width="12.6" height="12.6" fill="#f7001c" />
<rect x="1263.06" y="2022.71" width="12.6" height="12.6" fill="#f7001c" />
<text x="763.6" y="2224.4"  font-size="30.57" >0</text>
<text x="746.64" y="2144.1"  font-size="30.57" >10</text>
<text x="746.64" y="2063.8"  font-size="30.57" >20</text>
<text x="746.64" y="1983.5"  font-size="30.57" >30</text>
<text x="746.64" y="1903.2"  font-size="30.57" >40</text>
<text x="784.7" y="2253.3"  font-size="31.8" textLength="16.69" lengthAdjust="spacingAndGlyphs" >0</text>
<text x="914.12" y="2253.3"  font-size="31.8" textLength="33.37" lengthAdjust="spacingAndGlyphs" >20</text>
<text x="1052.48" y="2253.3"  font-size="31.8" textLength="33.37" lengthAdjust="spacingAndGlyphs" >40</text>
<text x="1189.92" y="2253.3"  font-size="31.8" textLength="33.37" lengthAdjust="spacingAndGlyphs" >60</text>
<text x="696.17" y="1887.5"  font-size="48.7" textLength="31.9" lengthAdjust="spacingAndGlyphs" >K</text>
<text x="961.01" y="2285.3"  font-size="31.19" textLength="180.37" lengthAdjust="spacingAndGlyphs" >Time (minute)</text>
<text x="0" y="0" transform="translate(731,2190.14) rotate(-90)" font-size="31.48" textLength="285.61" lengthAdjust="spacingAndGlyphs" >Oxygen Consumption</text>
<line x1="827.4" y1="1898.3" x2="862.3" y2="1898.3" stroke="#000" stroke-width="4.6" />
<circle cx="844.4" cy="1898.3" r="6.3" fill="#000"/>
<line x1="827.4" y1="1926.5" x2="862.3" y2="1926.5" stroke="#f7001c" stroke-width="4.6" />
<rect x="838" y="1920" width="12.8" height="13" fill="#f7001c" />
<text x="866.55" y="1911.7"  font-size="31.01" textLength="45.93" lengthAdjust="spacingAndGlyphs" >WT</text>
<text x="865.64" y="1939.9"  font-size="30.71" >KO</text>
<text x="1076.64" y="1895.7"  font-size="28.61" textLength="86.3" lengthAdjust="spacingAndGlyphs" >P&lt;0.05</text>
<line x1="969.5" y1="1901.8" x2="1269" y2="1901.8" stroke="#000" stroke-width="2.6" />
<text x="919.85" y="2026.2"  font-size="37.08" textLength="44.72" lengthAdjust="spacingAndGlyphs" >CL</text>
<line x1="940.2" y1="2053" x2="940.2" y2="2121" stroke="#000" stroke-width="2.4" />
<path d="M927.7 2106.6L940.2 2122.2L953.8 2106.6" fill="none" stroke="#000" stroke-width="2.4" />
</svg></body></html>
